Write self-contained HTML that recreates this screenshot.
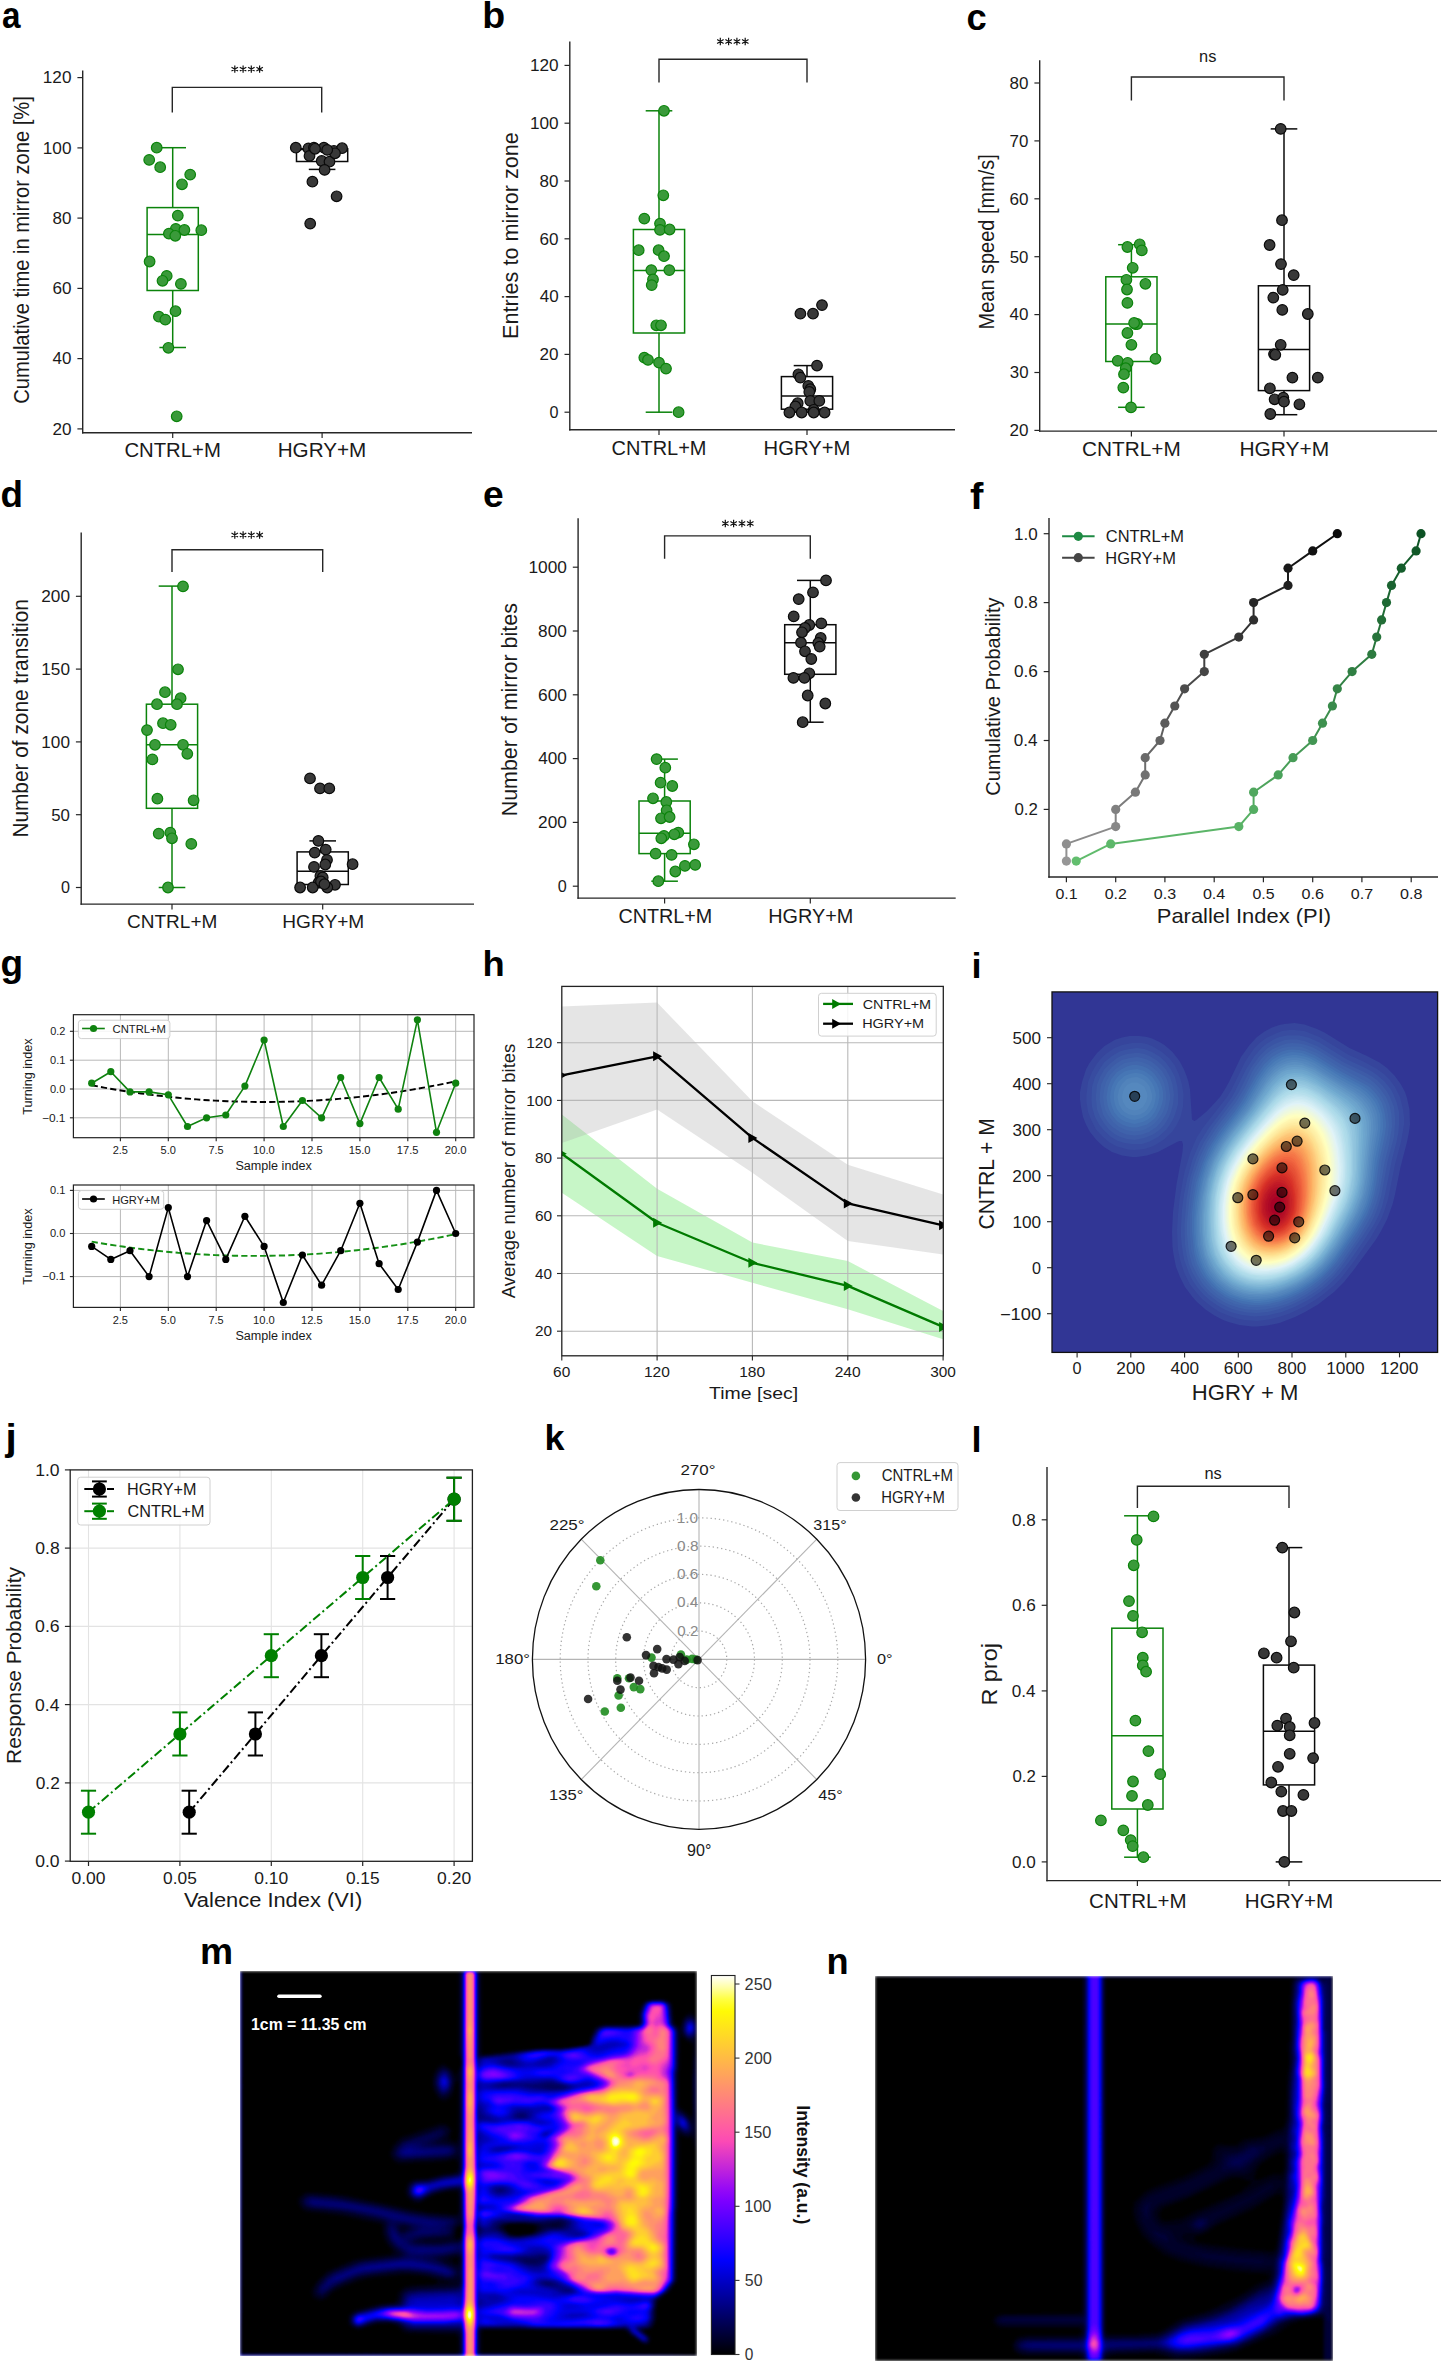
<!DOCTYPE html>
<html><head><meta charset="utf-8"><title>Figure</title>
<style>
html,body{margin:0;padding:0;background:#fff;}
body{width:1443px;height:2363px;overflow:hidden;font-family:"Liberation Sans",sans-serif;}
svg{display:block;}
</style></head><body>
<svg width="1443" height="2363" viewBox="0 0 1443 2363" font-family="Liberation Sans, sans-serif">
<defs>
<filter id="fm" filterUnits="userSpaceOnUse" x="240" y="1971" width="457" height="385" color-interpolation-filters="sRGB"><feGaussianBlur stdDeviation="1.8" edgeMode="duplicate"/><feComponentTransfer><feFuncR type="table" tableValues="0.000 0.000 0.000 0.000 0.000 0.000 0.000 0.000 0.000 0.000 0.000 0.000 0.000 0.000 0.000 0.000 0.000 0.000 0.003 0.052 0.101 0.138 0.187 0.224 0.273 0.322 0.358 0.407 0.444 0.493 0.542 0.579 0.628 0.665 0.714 0.763 0.800 0.849 0.898 0.934 0.983 1.000 1.000 1.000 1.000 1.000 1.000 1.000 1.000 1.000 1.000 1.000 1.000 1.000 1.000 1.000 1.000 1.000 1.000 1.000 1.000 1.000 1.000 1.000 1.000 1.000 1.000 1.000 1.000 1.000 1.000 1.000"/><feFuncG type="table" tableValues="0.000 0.000 0.000 0.000 0.000 0.000 0.000 0.000 0.000 0.000 0.000 0.000 0.000 0.000 0.000 0.000 0.000 0.000 0.000 0.000 0.000 0.000 0.000 0.000 0.000 0.000 0.000 0.000 0.000 0.000 0.007 0.031 0.062 0.085 0.117 0.148 0.172 0.203 0.235 0.258 0.289 0.313 0.344 0.376 0.399 0.431 0.454 0.485 0.517 0.540 0.572 0.595 0.627 0.658 0.682 0.713 0.736 0.768 0.799 0.823 0.854 0.878 0.909 0.940 0.964 0.995 1.000 1.000 1.000 1.000 1.000 1.000"/><feFuncB type="table" tableValues="0.000 0.047 0.110 0.157 0.220 0.282 0.329 0.392 0.439 0.502 0.565 0.612 0.675 0.722 0.784 0.847 0.894 0.957 1.000 1.000 1.000 1.000 1.000 1.000 1.000 1.000 1.000 1.000 1.000 1.000 0.993 0.969 0.938 0.915 0.883 0.852 0.828 0.797 0.765 0.742 0.711 0.687 0.656 0.624 0.601 0.569 0.546 0.515 0.483 0.460 0.428 0.405 0.373 0.342 0.318 0.287 0.264 0.232 0.201 0.177 0.146 0.122 0.091 0.060 0.036 0.005 0.118 0.314 0.510 0.657 0.853 1.000"/></feComponentTransfer></filter>
<filter id="fn" filterUnits="userSpaceOnUse" x="875" y="1976" width="458" height="385" color-interpolation-filters="sRGB"><feGaussianBlur stdDeviation="1.8" edgeMode="duplicate"/><feComponentTransfer><feFuncR type="table" tableValues="0.000 0.000 0.000 0.000 0.000 0.000 0.000 0.000 0.000 0.000 0.000 0.000 0.000 0.000 0.000 0.000 0.000 0.000 0.003 0.052 0.101 0.138 0.187 0.224 0.273 0.322 0.358 0.407 0.444 0.493 0.542 0.579 0.628 0.665 0.714 0.763 0.800 0.849 0.898 0.934 0.983 1.000 1.000 1.000 1.000 1.000 1.000 1.000 1.000 1.000 1.000 1.000 1.000 1.000 1.000 1.000 1.000 1.000 1.000 1.000 1.000 1.000 1.000 1.000 1.000 1.000 1.000 1.000 1.000 1.000 1.000 1.000"/><feFuncG type="table" tableValues="0.000 0.000 0.000 0.000 0.000 0.000 0.000 0.000 0.000 0.000 0.000 0.000 0.000 0.000 0.000 0.000 0.000 0.000 0.000 0.000 0.000 0.000 0.000 0.000 0.000 0.000 0.000 0.000 0.000 0.000 0.007 0.031 0.062 0.085 0.117 0.148 0.172 0.203 0.235 0.258 0.289 0.313 0.344 0.376 0.399 0.431 0.454 0.485 0.517 0.540 0.572 0.595 0.627 0.658 0.682 0.713 0.736 0.768 0.799 0.823 0.854 0.878 0.909 0.940 0.964 0.995 1.000 1.000 1.000 1.000 1.000 1.000"/><feFuncB type="table" tableValues="0.000 0.047 0.110 0.157 0.220 0.282 0.329 0.392 0.439 0.502 0.565 0.612 0.675 0.722 0.784 0.847 0.894 0.957 1.000 1.000 1.000 1.000 1.000 1.000 1.000 1.000 1.000 1.000 1.000 1.000 0.993 0.969 0.938 0.915 0.883 0.852 0.828 0.797 0.765 0.742 0.711 0.687 0.656 0.624 0.601 0.569 0.546 0.515 0.483 0.460 0.428 0.405 0.373 0.342 0.318 0.287 0.264 0.232 0.201 0.177 0.146 0.122 0.091 0.060 0.036 0.005 0.118 0.314 0.510 0.657 0.853 1.000"/></feComponentTransfer></filter>
<linearGradient id="cbar" x1="0" y1="0" x2="0" y2="1"><stop offset="0.000" stop-color="#ffffff"/><stop offset="0.031" stop-color="#ffffa7"/><stop offset="0.062" stop-color="#ffff43"/><stop offset="0.094" stop-color="#fffa05"/><stop offset="0.125" stop-color="#ffea15"/><stop offset="0.156" stop-color="#ffda25"/><stop offset="0.188" stop-color="#ffca35"/><stop offset="0.219" stop-color="#ffba45"/><stop offset="0.250" stop-color="#ffaa55"/><stop offset="0.281" stop-color="#ff9a65"/><stop offset="0.312" stop-color="#ff8a75"/><stop offset="0.344" stop-color="#ff7a85"/><stop offset="0.375" stop-color="#ff6a95"/><stop offset="0.406" stop-color="#ff5aa5"/><stop offset="0.438" stop-color="#fb4ab5"/><stop offset="0.469" stop-color="#e23ac5"/><stop offset="0.500" stop-color="#c92ad5"/><stop offset="0.531" stop-color="#b01ae5"/><stop offset="0.562" stop-color="#970af5"/><stop offset="0.594" stop-color="#7e00ff"/><stop offset="0.625" stop-color="#6500ff"/><stop offset="0.656" stop-color="#4c00ff"/><stop offset="0.688" stop-color="#3300ff"/><stop offset="0.719" stop-color="#1a00ff"/><stop offset="0.750" stop-color="#0100ff"/><stop offset="0.781" stop-color="#0000e0"/><stop offset="0.812" stop-color="#0000c0"/><stop offset="0.844" stop-color="#0000a0"/><stop offset="0.875" stop-color="#000080"/><stop offset="0.906" stop-color="#000060"/><stop offset="0.938" stop-color="#000040"/><stop offset="0.969" stop-color="#000020"/><stop offset="1.000" stop-color="#000000"/></linearGradient>
</defs>
<rect width="1443" height="2363" fill="#fff"/>
<text x="1.9" y="28.3" font-size="36.9" fill="#000" font-weight="bold" textLength="18.5" lengthAdjust="spacingAndGlyphs">a</text>
<line x1="82.7" y1="70.5" x2="82.7" y2="433.4" stroke="#262626" stroke-width="1.4"/>
<line x1="82" y1="432.7" x2="472" y2="432.7" stroke="#262626" stroke-width="1.4"/>
<line x1="77.4" y1="428.9" x2="82.7" y2="428.9" stroke="#262626" stroke-width="1.2"/>
<text x="52.5" y="434.7" font-size="16.5" fill="#1a1a1a" textLength="19" lengthAdjust="spacingAndGlyphs">20</text>
<line x1="77.4" y1="358.6" x2="82.7" y2="358.6" stroke="#262626" stroke-width="1.2"/>
<text x="52.6" y="364.4" font-size="16.5" fill="#1a1a1a" textLength="18.9" lengthAdjust="spacingAndGlyphs">40</text>
<line x1="77.4" y1="288.4" x2="82.7" y2="288.4" stroke="#262626" stroke-width="1.2"/>
<text x="52.4" y="294.2" font-size="16.5" fill="#1a1a1a" textLength="19" lengthAdjust="spacingAndGlyphs">60</text>
<line x1="77.4" y1="218.1" x2="82.7" y2="218.1" stroke="#262626" stroke-width="1.2"/>
<text x="52.5" y="223.9" font-size="16.4" fill="#1a1a1a" textLength="18.9" lengthAdjust="spacingAndGlyphs">80</text>
<line x1="77.4" y1="147.9" x2="82.7" y2="147.9" stroke="#262626" stroke-width="1.2"/>
<text x="42.8" y="153.7" font-size="16.4" fill="#1a1a1a" textLength="28.7" lengthAdjust="spacingAndGlyphs">100</text>
<line x1="77.4" y1="77.6" x2="82.7" y2="77.6" stroke="#262626" stroke-width="1.2"/>
<text x="42.8" y="83.4" font-size="16.4" fill="#1a1a1a" textLength="28.7" lengthAdjust="spacingAndGlyphs">120</text>
<line x1="172.7" y1="432.7" x2="172.7" y2="438" stroke="#262626" stroke-width="1.2"/>
<text x="124.4" y="456.5" font-size="19.9" fill="#1a1a1a" textLength="96.4" lengthAdjust="spacingAndGlyphs">CNTRL+M</text>
<line x1="322.1" y1="432.7" x2="322.1" y2="438" stroke="#262626" stroke-width="1.2"/>
<text x="277.7" y="456.5" font-size="19.9" fill="#1a1a1a" textLength="88.6" lengthAdjust="spacingAndGlyphs">HGRY+M</text>
<text x="29.4" y="403.8" font-size="21.8" fill="#1a1a1a" textLength="307.6" lengthAdjust="spacingAndGlyphs" transform="rotate(-90 29.4 403.8)">Cumulative time in mirror zone [%]</text>
<path d="M172.3,112.4 V87.4 H321.7 V112.4" fill="none" stroke="#262626" stroke-width="1.4"/>
<path d="M234.8,65.4L234.8,72.8M231.5,67.2L238,70.9M238,67.2L231.5,70.9M243.1,65.4L243.1,72.8M239.8,67.2L246.3,70.9M246.3,67.2L239.8,70.9M251.3,65.4L251.3,72.8M248.1,67.2L254.6,70.9M254.6,67.2L248.1,70.9M259.6,65.4L259.6,72.8M256.4,67.2L262.9,70.9M262.9,67.2L256.4,70.9" stroke="#111" stroke-width="1.2" stroke-linecap="butt"/>
<rect x="147.1" y="207.6" width="51.2" height="82.9" fill="none" stroke="#0b830b" stroke-width="1.5"/>
<line x1="147.1" y1="234.4" x2="198.3" y2="234.4" stroke="#0b830b" stroke-width="1.5"/>
<line x1="172.7" y1="207.6" x2="172.7" y2="147.7" stroke="#0b830b" stroke-width="1.5"/>
<line x1="172.7" y1="290.5" x2="172.7" y2="347.5" stroke="#0b830b" stroke-width="1.5"/>
<line x1="159.4" y1="147.7" x2="186" y2="147.7" stroke="#0b830b" stroke-width="1.5"/>
<line x1="159.4" y1="347.5" x2="186" y2="347.5" stroke="#0b830b" stroke-width="1.5"/>
<circle cx="156.7" cy="147.7" r="5.3" fill="#3a9a3a" stroke="#0b830b" stroke-width="1.2"/>
<circle cx="149.2" cy="159.9" r="5.3" fill="#3a9a3a" stroke="#0b830b" stroke-width="1.2"/>
<circle cx="160.2" cy="167.2" r="5.3" fill="#3a9a3a" stroke="#0b830b" stroke-width="1.2"/>
<circle cx="190.2" cy="174.6" r="5.3" fill="#3a9a3a" stroke="#0b830b" stroke-width="1.2"/>
<circle cx="182" cy="184.3" r="5.3" fill="#3a9a3a" stroke="#0b830b" stroke-width="1.2"/>
<circle cx="177.8" cy="215.6" r="5.3" fill="#3a9a3a" stroke="#0b830b" stroke-width="1.2"/>
<circle cx="175.8" cy="228.9" r="5.3" fill="#3a9a3a" stroke="#0b830b" stroke-width="1.2"/>
<circle cx="184.4" cy="230" r="5.3" fill="#3a9a3a" stroke="#0b830b" stroke-width="1.2"/>
<circle cx="201.3" cy="230.2" r="5.3" fill="#3a9a3a" stroke="#0b830b" stroke-width="1.2"/>
<circle cx="168.9" cy="233.6" r="5.3" fill="#3a9a3a" stroke="#0b830b" stroke-width="1.2"/>
<circle cx="175.3" cy="235.8" r="5.3" fill="#3a9a3a" stroke="#0b830b" stroke-width="1.2"/>
<circle cx="149.6" cy="261.5" r="5.3" fill="#3a9a3a" stroke="#0b830b" stroke-width="1.2"/>
<circle cx="166.7" cy="275.9" r="5.3" fill="#3a9a3a" stroke="#0b830b" stroke-width="1.2"/>
<circle cx="162.5" cy="280.8" r="5.3" fill="#3a9a3a" stroke="#0b830b" stroke-width="1.2"/>
<circle cx="180.9" cy="283.9" r="5.3" fill="#3a9a3a" stroke="#0b830b" stroke-width="1.2"/>
<circle cx="175.5" cy="311.2" r="5.3" fill="#3a9a3a" stroke="#0b830b" stroke-width="1.2"/>
<circle cx="158.9" cy="316.7" r="5.3" fill="#3a9a3a" stroke="#0b830b" stroke-width="1.2"/>
<circle cx="165.3" cy="319.6" r="5.3" fill="#3a9a3a" stroke="#0b830b" stroke-width="1.2"/>
<circle cx="168.4" cy="347.8" r="5.3" fill="#3a9a3a" stroke="#0b830b" stroke-width="1.2"/>
<circle cx="176.7" cy="416.3" r="5.3" fill="#3a9a3a" stroke="#0b830b" stroke-width="1.2"/>
<rect x="296.5" y="148.8" width="51.2" height="12.7" fill="none" stroke="#0a0a0a" stroke-width="1.5"/>
<line x1="296.5" y1="149.6" x2="347.7" y2="149.6" stroke="#0a0a0a" stroke-width="1.5"/>
<line x1="322.1" y1="148.8" x2="322.1" y2="147.7" stroke="#0a0a0a" stroke-width="1.5"/>
<line x1="322.1" y1="161.5" x2="322.1" y2="169.4" stroke="#0a0a0a" stroke-width="1.5"/>
<line x1="308.8" y1="147.7" x2="335.4" y2="147.7" stroke="#0a0a0a" stroke-width="1.5"/>
<line x1="308.8" y1="169.4" x2="335.4" y2="169.4" stroke="#0a0a0a" stroke-width="1.5"/>
<circle cx="295.8" cy="147.7" r="5.3" fill="#383838" stroke="#0a0a0a" stroke-width="1.2"/>
<circle cx="308.4" cy="148.4" r="5.3" fill="#383838" stroke="#0a0a0a" stroke-width="1.2"/>
<circle cx="313.9" cy="147.7" r="5.3" fill="#383838" stroke="#0a0a0a" stroke-width="1.2"/>
<circle cx="323.9" cy="147.7" r="5.3" fill="#383838" stroke="#0a0a0a" stroke-width="1.2"/>
<circle cx="333.9" cy="151" r="5.3" fill="#383838" stroke="#0a0a0a" stroke-width="1.2"/>
<circle cx="342.1" cy="148.2" r="5.3" fill="#383838" stroke="#0a0a0a" stroke-width="1.2"/>
<circle cx="309.5" cy="155.9" r="5.3" fill="#383838" stroke="#0a0a0a" stroke-width="1.2"/>
<circle cx="321.7" cy="161" r="5.3" fill="#383838" stroke="#0a0a0a" stroke-width="1.2"/>
<circle cx="329.5" cy="161.7" r="5.3" fill="#383838" stroke="#0a0a0a" stroke-width="1.2"/>
<circle cx="324.6" cy="169.9" r="5.3" fill="#383838" stroke="#0a0a0a" stroke-width="1.2"/>
<circle cx="312.4" cy="181.7" r="5.3" fill="#383838" stroke="#0a0a0a" stroke-width="1.2"/>
<circle cx="336.6" cy="196.3" r="5.3" fill="#383838" stroke="#0a0a0a" stroke-width="1.2"/>
<circle cx="310.2" cy="223.6" r="5.3" fill="#383838" stroke="#0a0a0a" stroke-width="1.2"/>
<circle cx="335" cy="153.3" r="5.3" fill="#383838" stroke="#0a0a0a" stroke-width="1.2"/>
<circle cx="315" cy="148.8" r="5.3" fill="#383838" stroke="#0a0a0a" stroke-width="1.2"/>
<circle cx="327.2" cy="149.9" r="5.3" fill="#383838" stroke="#0a0a0a" stroke-width="1.2"/>
<text x="482.3" y="28.3" font-size="36.5" fill="#000" font-weight="bold" textLength="22.9" lengthAdjust="spacingAndGlyphs">b</text>
<line x1="569.8" y1="41.6" x2="569.8" y2="430.5" stroke="#262626" stroke-width="1.4"/>
<line x1="569.1" y1="429.8" x2="955" y2="429.8" stroke="#262626" stroke-width="1.4"/>
<line x1="564.5" y1="412.2" x2="569.8" y2="412.2" stroke="#262626" stroke-width="1.2"/>
<text x="549.5" y="418" font-size="16.5" fill="#1a1a1a" textLength="9" lengthAdjust="spacingAndGlyphs">0</text>
<line x1="564.5" y1="354.4" x2="569.8" y2="354.4" stroke="#262626" stroke-width="1.2"/>
<text x="539.6" y="360.2" font-size="16.5" fill="#1a1a1a" textLength="19" lengthAdjust="spacingAndGlyphs">20</text>
<line x1="564.5" y1="296.6" x2="569.8" y2="296.6" stroke="#262626" stroke-width="1.2"/>
<text x="539.7" y="302.4" font-size="16.5" fill="#1a1a1a" textLength="18.9" lengthAdjust="spacingAndGlyphs">40</text>
<line x1="564.5" y1="238.8" x2="569.8" y2="238.8" stroke="#262626" stroke-width="1.2"/>
<text x="539.5" y="244.6" font-size="16.4" fill="#1a1a1a" textLength="19" lengthAdjust="spacingAndGlyphs">60</text>
<line x1="564.5" y1="181" x2="569.8" y2="181" stroke="#262626" stroke-width="1.2"/>
<text x="539.6" y="186.8" font-size="16.4" fill="#1a1a1a" textLength="18.9" lengthAdjust="spacingAndGlyphs">80</text>
<line x1="564.5" y1="123.2" x2="569.8" y2="123.2" stroke="#262626" stroke-width="1.2"/>
<text x="529.9" y="129" font-size="16.4" fill="#1a1a1a" textLength="28.7" lengthAdjust="spacingAndGlyphs">100</text>
<line x1="564.5" y1="65.4" x2="569.8" y2="65.4" stroke="#262626" stroke-width="1.2"/>
<text x="529.9" y="71.2" font-size="16.4" fill="#1a1a1a" textLength="28.7" lengthAdjust="spacingAndGlyphs">120</text>
<line x1="659" y1="429.8" x2="659" y2="435.1" stroke="#262626" stroke-width="1.2"/>
<text x="611.6" y="455" font-size="19.9" fill="#1a1a1a" textLength="94.9" lengthAdjust="spacingAndGlyphs">CNTRL+M</text>
<line x1="807" y1="429.8" x2="807" y2="435.1" stroke="#262626" stroke-width="1.2"/>
<text x="763.6" y="455" font-size="19.9" fill="#1a1a1a" textLength="86.7" lengthAdjust="spacingAndGlyphs">HGRY+M</text>
<text x="517.7" y="338.9" font-size="22.6" fill="#1a1a1a" textLength="206.7" lengthAdjust="spacingAndGlyphs" transform="rotate(-90 517.7 338.9)">Entries to mirror zone</text>
<path d="M659,82.5 V59.2 H807 V82.5" fill="none" stroke="#262626" stroke-width="1.4"/>
<path d="M720.3,37.8L720.3,45.2M717.1,39.6L723.6,43.4M723.6,39.6L717.1,43.4M728.6,37.8L728.6,45.2M725.4,39.6L731.9,43.4M731.9,39.6L725.4,43.4M736.9,37.8L736.9,45.2M733.7,39.6L740.2,43.4M740.2,39.6L733.7,43.4M745.2,37.8L745.2,45.2M742,39.6L748.5,43.4M748.5,39.6L742,43.4" stroke="#111" stroke-width="1.2" stroke-linecap="butt"/>
<rect x="633.4" y="229.5" width="51.2" height="103.5" fill="none" stroke="#0b830b" stroke-width="1.5"/>
<line x1="633.4" y1="270.5" x2="684.6" y2="270.5" stroke="#0b830b" stroke-width="1.5"/>
<line x1="659" y1="229.5" x2="659" y2="110.8" stroke="#0b830b" stroke-width="1.5"/>
<line x1="659" y1="333" x2="659" y2="412.2" stroke="#0b830b" stroke-width="1.5"/>
<line x1="645.7" y1="110.8" x2="672.3" y2="110.8" stroke="#0b830b" stroke-width="1.5"/>
<line x1="645.7" y1="412.2" x2="672.3" y2="412.2" stroke="#0b830b" stroke-width="1.5"/>
<circle cx="664" cy="110.8" r="5.3" fill="#3a9a3a" stroke="#0b830b" stroke-width="1.2"/>
<circle cx="663.3" cy="195.3" r="5.3" fill="#3a9a3a" stroke="#0b830b" stroke-width="1.2"/>
<circle cx="644.3" cy="218.6" r="5.3" fill="#3a9a3a" stroke="#0b830b" stroke-width="1.2"/>
<circle cx="660" cy="223.6" r="5.3" fill="#3a9a3a" stroke="#0b830b" stroke-width="1.2"/>
<circle cx="660" cy="229.9" r="5.3" fill="#3a9a3a" stroke="#0b830b" stroke-width="1.2"/>
<circle cx="669.6" cy="229.5" r="5.3" fill="#3a9a3a" stroke="#0b830b" stroke-width="1.2"/>
<circle cx="638.7" cy="250.2" r="5.3" fill="#3a9a3a" stroke="#0b830b" stroke-width="1.2"/>
<circle cx="658.6" cy="250.2" r="5.3" fill="#3a9a3a" stroke="#0b830b" stroke-width="1.2"/>
<circle cx="664" cy="256.2" r="5.3" fill="#3a9a3a" stroke="#0b830b" stroke-width="1.2"/>
<circle cx="651.3" cy="270.1" r="5.3" fill="#3a9a3a" stroke="#0b830b" stroke-width="1.2"/>
<circle cx="669.3" cy="270.1" r="5.3" fill="#3a9a3a" stroke="#0b830b" stroke-width="1.2"/>
<circle cx="653" cy="279.4" r="5.3" fill="#3a9a3a" stroke="#0b830b" stroke-width="1.2"/>
<circle cx="651.7" cy="285.1" r="5.3" fill="#3a9a3a" stroke="#0b830b" stroke-width="1.2"/>
<circle cx="656.3" cy="325.3" r="5.3" fill="#3a9a3a" stroke="#0b830b" stroke-width="1.2"/>
<circle cx="661" cy="325.3" r="5.3" fill="#3a9a3a" stroke="#0b830b" stroke-width="1.2"/>
<circle cx="644.3" cy="357.6" r="5.3" fill="#3a9a3a" stroke="#0b830b" stroke-width="1.2"/>
<circle cx="648" cy="359.9" r="5.3" fill="#3a9a3a" stroke="#0b830b" stroke-width="1.2"/>
<circle cx="659" cy="362.6" r="5.3" fill="#3a9a3a" stroke="#0b830b" stroke-width="1.2"/>
<circle cx="666" cy="368.6" r="5.3" fill="#3a9a3a" stroke="#0b830b" stroke-width="1.2"/>
<circle cx="678.6" cy="412.2" r="5.3" fill="#3a9a3a" stroke="#0b830b" stroke-width="1.2"/>
<rect x="781.4" y="376.6" width="51.2" height="32.6" fill="none" stroke="#0a0a0a" stroke-width="1.5"/>
<line x1="781.4" y1="395.9" x2="832.6" y2="395.9" stroke="#0a0a0a" stroke-width="1.5"/>
<line x1="807" y1="376.6" x2="807" y2="365.6" stroke="#0a0a0a" stroke-width="1.5"/>
<line x1="807" y1="409.2" x2="807" y2="412.2" stroke="#0a0a0a" stroke-width="1.5"/>
<line x1="793.7" y1="365.6" x2="820.3" y2="365.6" stroke="#0a0a0a" stroke-width="1.5"/>
<line x1="793.7" y1="412.2" x2="820.3" y2="412.2" stroke="#0a0a0a" stroke-width="1.5"/>
<circle cx="800.4" cy="313.7" r="5.3" fill="#383838" stroke="#0a0a0a" stroke-width="1.2"/>
<circle cx="813" cy="313.7" r="5.3" fill="#383838" stroke="#0a0a0a" stroke-width="1.2"/>
<circle cx="822" cy="305.1" r="5.3" fill="#383838" stroke="#0a0a0a" stroke-width="1.2"/>
<circle cx="817" cy="365.6" r="5.3" fill="#383838" stroke="#0a0a0a" stroke-width="1.2"/>
<circle cx="798.4" cy="374.3" r="5.3" fill="#383838" stroke="#0a0a0a" stroke-width="1.2"/>
<circle cx="800.4" cy="377.6" r="5.3" fill="#383838" stroke="#0a0a0a" stroke-width="1.2"/>
<circle cx="808.3" cy="385.9" r="5.3" fill="#383838" stroke="#0a0a0a" stroke-width="1.2"/>
<circle cx="810.3" cy="389.2" r="5.3" fill="#383838" stroke="#0a0a0a" stroke-width="1.2"/>
<circle cx="809.3" cy="391.9" r="5.3" fill="#383838" stroke="#0a0a0a" stroke-width="1.2"/>
<circle cx="797.7" cy="403.2" r="5.3" fill="#383838" stroke="#0a0a0a" stroke-width="1.2"/>
<circle cx="795.4" cy="406.5" r="5.3" fill="#383838" stroke="#0a0a0a" stroke-width="1.2"/>
<circle cx="810.3" cy="400.9" r="5.3" fill="#383838" stroke="#0a0a0a" stroke-width="1.2"/>
<circle cx="819.3" cy="400.9" r="5.3" fill="#383838" stroke="#0a0a0a" stroke-width="1.2"/>
<circle cx="789.4" cy="412.5" r="5.3" fill="#383838" stroke="#0a0a0a" stroke-width="1.2"/>
<circle cx="801.7" cy="412.5" r="5.3" fill="#383838" stroke="#0a0a0a" stroke-width="1.2"/>
<circle cx="813.7" cy="409.8" r="5.3" fill="#383838" stroke="#0a0a0a" stroke-width="1.2"/>
<circle cx="824.6" cy="412.5" r="5.3" fill="#383838" stroke="#0a0a0a" stroke-width="1.2"/>
<circle cx="813.7" cy="412.5" r="5.3" fill="#383838" stroke="#0a0a0a" stroke-width="1.2"/>
<text x="966.4" y="30.4" font-size="36.7" fill="#000" font-weight="bold" textLength="20.2" lengthAdjust="spacingAndGlyphs">c</text>
<line x1="1039.7" y1="60.2" x2="1039.7" y2="431.8" stroke="#262626" stroke-width="1.4"/>
<line x1="1039" y1="431.1" x2="1437" y2="431.1" stroke="#262626" stroke-width="1.4"/>
<line x1="1034.4" y1="430.4" x2="1039.7" y2="430.4" stroke="#262626" stroke-width="1.2"/>
<text x="1009.5" y="436.2" font-size="16.5" fill="#1a1a1a" textLength="19" lengthAdjust="spacingAndGlyphs">20</text>
<line x1="1034.4" y1="372.5" x2="1039.7" y2="372.5" stroke="#262626" stroke-width="1.2"/>
<text x="1009.8" y="378.3" font-size="16.5" fill="#1a1a1a" textLength="18.7" lengthAdjust="spacingAndGlyphs">30</text>
<line x1="1034.4" y1="314.6" x2="1039.7" y2="314.6" stroke="#262626" stroke-width="1.2"/>
<text x="1009.6" y="320.4" font-size="16.5" fill="#1a1a1a" textLength="18.9" lengthAdjust="spacingAndGlyphs">40</text>
<line x1="1034.4" y1="256.7" x2="1039.7" y2="256.7" stroke="#262626" stroke-width="1.2"/>
<text x="1009.7" y="262.5" font-size="16.5" fill="#1a1a1a" textLength="18.7" lengthAdjust="spacingAndGlyphs">50</text>
<line x1="1034.4" y1="198.8" x2="1039.7" y2="198.8" stroke="#262626" stroke-width="1.2"/>
<text x="1009.4" y="204.6" font-size="16.4" fill="#1a1a1a" textLength="19" lengthAdjust="spacingAndGlyphs">60</text>
<line x1="1034.4" y1="140.9" x2="1039.7" y2="140.9" stroke="#262626" stroke-width="1.2"/>
<text x="1009.6" y="146.7" font-size="16.4" fill="#1a1a1a" textLength="18.8" lengthAdjust="spacingAndGlyphs">70</text>
<line x1="1034.4" y1="83" x2="1039.7" y2="83" stroke="#262626" stroke-width="1.2"/>
<text x="1009.5" y="88.8" font-size="16.4" fill="#1a1a1a" textLength="18.9" lengthAdjust="spacingAndGlyphs">80</text>
<line x1="1131.4" y1="431.1" x2="1131.4" y2="436.4" stroke="#262626" stroke-width="1.2"/>
<text x="1082.1" y="455.8" font-size="19.5" fill="#1a1a1a" textLength="98.6" lengthAdjust="spacingAndGlyphs">CNTRL+M</text>
<line x1="1284" y1="431.1" x2="1284" y2="436.4" stroke="#262626" stroke-width="1.2"/>
<text x="1239.4" y="455.8" font-size="19.5" fill="#1a1a1a" textLength="89.8" lengthAdjust="spacingAndGlyphs">HGRY+M</text>
<text x="994.5" y="329.4" font-size="21.5" fill="#1a1a1a" textLength="175.1" lengthAdjust="spacingAndGlyphs" transform="rotate(-90 994.5 329.4)">Mean speed [mm/s]</text>
<path d="M1131.4,100.4 V77 H1284 V100.4" fill="none" stroke="#262626" stroke-width="1.4"/>
<text x="1199.1" y="62" font-size="16.1" fill="#1a1a1a" textLength="17.3" lengthAdjust="spacingAndGlyphs">ns</text>
<rect x="1105.8" y="276.8" width="51.2" height="84.7" fill="none" stroke="#0b830b" stroke-width="1.5"/>
<line x1="1105.8" y1="324" x2="1157" y2="324" stroke="#0b830b" stroke-width="1.5"/>
<line x1="1131.4" y1="276.8" x2="1131.4" y2="244.7" stroke="#0b830b" stroke-width="1.5"/>
<line x1="1131.4" y1="361.5" x2="1131.4" y2="407.3" stroke="#0b830b" stroke-width="1.5"/>
<line x1="1118.1" y1="244.7" x2="1144.7" y2="244.7" stroke="#0b830b" stroke-width="1.5"/>
<line x1="1118.1" y1="407.3" x2="1144.7" y2="407.3" stroke="#0b830b" stroke-width="1.5"/>
<circle cx="1127.4" cy="247" r="5.3" fill="#3a9a3a" stroke="#0b830b" stroke-width="1.2"/>
<circle cx="1139.7" cy="244.3" r="5.3" fill="#3a9a3a" stroke="#0b830b" stroke-width="1.2"/>
<circle cx="1141.8" cy="250.4" r="5.3" fill="#3a9a3a" stroke="#0b830b" stroke-width="1.2"/>
<circle cx="1132.7" cy="267.8" r="5.3" fill="#3a9a3a" stroke="#0b830b" stroke-width="1.2"/>
<circle cx="1126.4" cy="279.8" r="5.3" fill="#3a9a3a" stroke="#0b830b" stroke-width="1.2"/>
<circle cx="1145.4" cy="283.8" r="5.3" fill="#3a9a3a" stroke="#0b830b" stroke-width="1.2"/>
<circle cx="1127" cy="289.5" r="5.3" fill="#3a9a3a" stroke="#0b830b" stroke-width="1.2"/>
<circle cx="1127.4" cy="302.9" r="5.3" fill="#3a9a3a" stroke="#0b830b" stroke-width="1.2"/>
<circle cx="1135.4" cy="324" r="5.3" fill="#3a9a3a" stroke="#0b830b" stroke-width="1.2"/>
<circle cx="1137.1" cy="324" r="5.3" fill="#3a9a3a" stroke="#0b830b" stroke-width="1.2"/>
<circle cx="1127.4" cy="333" r="5.3" fill="#3a9a3a" stroke="#0b830b" stroke-width="1.2"/>
<circle cx="1131.4" cy="344.8" r="5.3" fill="#3a9a3a" stroke="#0b830b" stroke-width="1.2"/>
<circle cx="1117.7" cy="360.8" r="5.3" fill="#3a9a3a" stroke="#0b830b" stroke-width="1.2"/>
<circle cx="1127.7" cy="362.8" r="5.3" fill="#3a9a3a" stroke="#0b830b" stroke-width="1.2"/>
<circle cx="1155.5" cy="358.8" r="5.3" fill="#3a9a3a" stroke="#0b830b" stroke-width="1.2"/>
<circle cx="1125.7" cy="368.2" r="5.3" fill="#3a9a3a" stroke="#0b830b" stroke-width="1.2"/>
<circle cx="1124" cy="374.2" r="5.3" fill="#3a9a3a" stroke="#0b830b" stroke-width="1.2"/>
<circle cx="1123.3" cy="387.6" r="5.3" fill="#3a9a3a" stroke="#0b830b" stroke-width="1.2"/>
<circle cx="1131" cy="407.4" r="5.3" fill="#3a9a3a" stroke="#0b830b" stroke-width="1.2"/>
<circle cx="1134.1" cy="323" r="5.3" fill="#3a9a3a" stroke="#0b830b" stroke-width="1.2"/>
<rect x="1258.4" y="285.8" width="51.2" height="104.8" fill="none" stroke="#0a0a0a" stroke-width="1.5"/>
<line x1="1258.4" y1="349.4" x2="1309.6" y2="349.4" stroke="#0a0a0a" stroke-width="1.5"/>
<line x1="1284" y1="285.8" x2="1284" y2="128.9" stroke="#0a0a0a" stroke-width="1.5"/>
<line x1="1284" y1="390.6" x2="1284" y2="414.7" stroke="#0a0a0a" stroke-width="1.5"/>
<line x1="1270.7" y1="128.9" x2="1297.3" y2="128.9" stroke="#0a0a0a" stroke-width="1.5"/>
<line x1="1270.7" y1="414.7" x2="1297.3" y2="414.7" stroke="#0a0a0a" stroke-width="1.5"/>
<circle cx="1280.7" cy="128.9" r="5.3" fill="#383838" stroke="#0a0a0a" stroke-width="1.2"/>
<circle cx="1282" cy="220.2" r="5.3" fill="#383838" stroke="#0a0a0a" stroke-width="1.2"/>
<circle cx="1269.6" cy="245" r="5.3" fill="#383838" stroke="#0a0a0a" stroke-width="1.2"/>
<circle cx="1281" cy="264.1" r="5.3" fill="#383838" stroke="#0a0a0a" stroke-width="1.2"/>
<circle cx="1293.7" cy="275.1" r="5.3" fill="#383838" stroke="#0a0a0a" stroke-width="1.2"/>
<circle cx="1282.7" cy="289.9" r="5.3" fill="#383838" stroke="#0a0a0a" stroke-width="1.2"/>
<circle cx="1273.3" cy="297.6" r="5.3" fill="#383838" stroke="#0a0a0a" stroke-width="1.2"/>
<circle cx="1282.3" cy="309.9" r="5.3" fill="#383838" stroke="#0a0a0a" stroke-width="1.2"/>
<circle cx="1307.8" cy="314" r="5.3" fill="#383838" stroke="#0a0a0a" stroke-width="1.2"/>
<circle cx="1280.7" cy="344.8" r="5.3" fill="#383838" stroke="#0a0a0a" stroke-width="1.2"/>
<circle cx="1274" cy="354.1" r="5.3" fill="#383838" stroke="#0a0a0a" stroke-width="1.2"/>
<circle cx="1275.3" cy="354.8" r="5.3" fill="#383838" stroke="#0a0a0a" stroke-width="1.2"/>
<circle cx="1292.4" cy="377.6" r="5.3" fill="#383838" stroke="#0a0a0a" stroke-width="1.2"/>
<circle cx="1317.8" cy="377.6" r="5.3" fill="#383838" stroke="#0a0a0a" stroke-width="1.2"/>
<circle cx="1269.9" cy="388.3" r="5.3" fill="#383838" stroke="#0a0a0a" stroke-width="1.2"/>
<circle cx="1274.6" cy="399.3" r="5.3" fill="#383838" stroke="#0a0a0a" stroke-width="1.2"/>
<circle cx="1283.3" cy="397.6" r="5.3" fill="#383838" stroke="#0a0a0a" stroke-width="1.2"/>
<circle cx="1284" cy="401.7" r="5.3" fill="#383838" stroke="#0a0a0a" stroke-width="1.2"/>
<circle cx="1299.4" cy="404.3" r="5.3" fill="#383838" stroke="#0a0a0a" stroke-width="1.2"/>
<circle cx="1270.3" cy="414" r="5.3" fill="#383838" stroke="#0a0a0a" stroke-width="1.2"/>
<text x="0.6" y="507.4" font-size="36.5" fill="#000" font-weight="bold" textLength="22.5" lengthAdjust="spacingAndGlyphs">d</text>
<line x1="81.2" y1="532.5" x2="81.2" y2="904.8" stroke="#262626" stroke-width="1.4"/>
<line x1="80.5" y1="904.1" x2="474" y2="904.1" stroke="#262626" stroke-width="1.4"/>
<line x1="75.9" y1="887.5" x2="81.2" y2="887.5" stroke="#262626" stroke-width="1.2"/>
<text x="60.9" y="893.3" font-size="16.4" fill="#1a1a1a" textLength="9" lengthAdjust="spacingAndGlyphs">0</text>
<line x1="75.9" y1="814.7" x2="81.2" y2="814.7" stroke="#262626" stroke-width="1.2"/>
<text x="51.2" y="820.5" font-size="16.4" fill="#1a1a1a" textLength="18.7" lengthAdjust="spacingAndGlyphs">50</text>
<line x1="75.9" y1="741.9" x2="81.2" y2="741.9" stroke="#262626" stroke-width="1.2"/>
<text x="41.3" y="747.7" font-size="16.4" fill="#1a1a1a" textLength="28.7" lengthAdjust="spacingAndGlyphs">100</text>
<line x1="75.9" y1="669.1" x2="81.2" y2="669.1" stroke="#262626" stroke-width="1.2"/>
<text x="41.3" y="674.9" font-size="16.4" fill="#1a1a1a" textLength="28.7" lengthAdjust="spacingAndGlyphs">150</text>
<line x1="75.9" y1="596.3" x2="81.2" y2="596.3" stroke="#262626" stroke-width="1.2"/>
<text x="41.2" y="602.1" font-size="16.4" fill="#1a1a1a" textLength="28.8" lengthAdjust="spacingAndGlyphs">200</text>
<line x1="172" y1="904.1" x2="172" y2="909.4" stroke="#262626" stroke-width="1.2"/>
<text x="127.1" y="928.1" font-size="18.6" fill="#1a1a1a" textLength="90.2" lengthAdjust="spacingAndGlyphs">CNTRL+M</text>
<line x1="322.7" y1="904.1" x2="322.7" y2="909.4" stroke="#262626" stroke-width="1.2"/>
<text x="282.3" y="928.1" font-size="18.6" fill="#1a1a1a" textLength="81.9" lengthAdjust="spacingAndGlyphs">HGRY+M</text>
<text x="27.9" y="837.6" font-size="22.5" fill="#1a1a1a" textLength="238.5" lengthAdjust="spacingAndGlyphs" transform="rotate(-90 27.9 837.6)">Number of zone transition</text>
<path d="M172,572.1 V549.8 H322.7 V572.1" fill="none" stroke="#262626" stroke-width="1.4"/>
<path d="M234.8,531.3L234.8,538.7M231.5,533.1L238,536.9M238,533.1L231.5,536.9M243.1,531.3L243.1,538.7M239.8,533.1L246.3,536.9M246.3,533.1L239.8,536.9M251.3,531.3L251.3,538.7M248.1,533.1L254.6,536.9M254.6,533.1L248.1,536.9M259.6,531.3L259.6,538.7M256.4,533.1L262.9,536.9M262.9,533.1L256.4,536.9" stroke="#111" stroke-width="1.2" stroke-linecap="butt"/>
<rect x="146.4" y="704.2" width="51.2" height="104.1" fill="none" stroke="#0b830b" stroke-width="1.5"/>
<line x1="146.4" y1="744.8" x2="197.6" y2="744.8" stroke="#0b830b" stroke-width="1.5"/>
<line x1="172" y1="704.2" x2="172" y2="586.1" stroke="#0b830b" stroke-width="1.5"/>
<line x1="172" y1="808.3" x2="172" y2="887.5" stroke="#0b830b" stroke-width="1.5"/>
<line x1="158.7" y1="586.1" x2="185.3" y2="586.1" stroke="#0b830b" stroke-width="1.5"/>
<line x1="158.7" y1="887.5" x2="185.3" y2="887.5" stroke="#0b830b" stroke-width="1.5"/>
<circle cx="183" cy="586.4" r="5.3" fill="#3a9a3a" stroke="#0b830b" stroke-width="1.2"/>
<circle cx="178" cy="669.3" r="5.3" fill="#3a9a3a" stroke="#0b830b" stroke-width="1.2"/>
<circle cx="165" cy="692.2" r="5.3" fill="#3a9a3a" stroke="#0b830b" stroke-width="1.2"/>
<circle cx="180.6" cy="698.2" r="5.3" fill="#3a9a3a" stroke="#0b830b" stroke-width="1.2"/>
<circle cx="157" cy="704.2" r="5.3" fill="#3a9a3a" stroke="#0b830b" stroke-width="1.2"/>
<circle cx="177" cy="704.2" r="5.3" fill="#3a9a3a" stroke="#0b830b" stroke-width="1.2"/>
<circle cx="163" cy="723.2" r="5.3" fill="#3a9a3a" stroke="#0b830b" stroke-width="1.2"/>
<circle cx="170.7" cy="724.8" r="5.3" fill="#3a9a3a" stroke="#0b830b" stroke-width="1.2"/>
<circle cx="147" cy="730.1" r="5.3" fill="#3a9a3a" stroke="#0b830b" stroke-width="1.2"/>
<circle cx="155" cy="744.8" r="5.3" fill="#3a9a3a" stroke="#0b830b" stroke-width="1.2"/>
<circle cx="183" cy="744.8" r="5.3" fill="#3a9a3a" stroke="#0b830b" stroke-width="1.2"/>
<circle cx="187.3" cy="753.8" r="5.3" fill="#3a9a3a" stroke="#0b830b" stroke-width="1.2"/>
<circle cx="152.4" cy="759.4" r="5.3" fill="#3a9a3a" stroke="#0b830b" stroke-width="1.2"/>
<circle cx="157.4" cy="798.7" r="5.3" fill="#3a9a3a" stroke="#0b830b" stroke-width="1.2"/>
<circle cx="193.6" cy="800.3" r="5.3" fill="#3a9a3a" stroke="#0b830b" stroke-width="1.2"/>
<circle cx="158.7" cy="833.6" r="5.3" fill="#3a9a3a" stroke="#0b830b" stroke-width="1.2"/>
<circle cx="170.3" cy="832.6" r="5.3" fill="#3a9a3a" stroke="#0b830b" stroke-width="1.2"/>
<circle cx="172" cy="838.3" r="5.3" fill="#3a9a3a" stroke="#0b830b" stroke-width="1.2"/>
<circle cx="191.3" cy="843.9" r="5.3" fill="#3a9a3a" stroke="#0b830b" stroke-width="1.2"/>
<circle cx="168" cy="887.5" r="5.3" fill="#3a9a3a" stroke="#0b830b" stroke-width="1.2"/>
<rect x="297.1" y="851.9" width="51.2" height="32.6" fill="none" stroke="#0a0a0a" stroke-width="1.5"/>
<line x1="297.1" y1="871.2" x2="348.3" y2="871.2" stroke="#0a0a0a" stroke-width="1.5"/>
<line x1="322.7" y1="851.9" x2="322.7" y2="840.9" stroke="#0a0a0a" stroke-width="1.5"/>
<line x1="322.7" y1="884.5" x2="322.7" y2="887.5" stroke="#0a0a0a" stroke-width="1.5"/>
<line x1="309.4" y1="840.9" x2="336" y2="840.9" stroke="#0a0a0a" stroke-width="1.5"/>
<line x1="309.4" y1="887.5" x2="336" y2="887.5" stroke="#0a0a0a" stroke-width="1.5"/>
<circle cx="310" cy="778.4" r="5.3" fill="#383838" stroke="#0a0a0a" stroke-width="1.2"/>
<circle cx="320" cy="788.4" r="5.3" fill="#383838" stroke="#0a0a0a" stroke-width="1.2"/>
<circle cx="329.3" cy="788.4" r="5.3" fill="#383838" stroke="#0a0a0a" stroke-width="1.2"/>
<circle cx="318.4" cy="840.9" r="5.3" fill="#383838" stroke="#0a0a0a" stroke-width="1.2"/>
<circle cx="325.7" cy="849.6" r="5.3" fill="#383838" stroke="#0a0a0a" stroke-width="1.2"/>
<circle cx="314.7" cy="852.6" r="5.3" fill="#383838" stroke="#0a0a0a" stroke-width="1.2"/>
<circle cx="327" cy="859.9" r="5.3" fill="#383838" stroke="#0a0a0a" stroke-width="1.2"/>
<circle cx="325.3" cy="864.5" r="5.3" fill="#383838" stroke="#0a0a0a" stroke-width="1.2"/>
<circle cx="352.6" cy="864.2" r="5.3" fill="#383838" stroke="#0a0a0a" stroke-width="1.2"/>
<circle cx="314" cy="866.9" r="5.3" fill="#383838" stroke="#0a0a0a" stroke-width="1.2"/>
<circle cx="320.4" cy="875.9" r="5.3" fill="#383838" stroke="#0a0a0a" stroke-width="1.2"/>
<circle cx="322.7" cy="877.5" r="5.3" fill="#383838" stroke="#0a0a0a" stroke-width="1.2"/>
<circle cx="318.7" cy="882.5" r="5.3" fill="#383838" stroke="#0a0a0a" stroke-width="1.2"/>
<circle cx="335" cy="884.8" r="5.3" fill="#383838" stroke="#0a0a0a" stroke-width="1.2"/>
<circle cx="300.1" cy="887.5" r="5.3" fill="#383838" stroke="#0a0a0a" stroke-width="1.2"/>
<circle cx="312.7" cy="887.5" r="5.3" fill="#383838" stroke="#0a0a0a" stroke-width="1.2"/>
<circle cx="327.3" cy="887.5" r="5.3" fill="#383838" stroke="#0a0a0a" stroke-width="1.2"/>
<circle cx="321" cy="881.5" r="5.3" fill="#383838" stroke="#0a0a0a" stroke-width="1.2"/>
<circle cx="324.4" cy="884.2" r="5.3" fill="#383838" stroke="#0a0a0a" stroke-width="1.2"/>
<text x="483.1" y="507.4" font-size="37" fill="#000" font-weight="bold" textLength="20.7" lengthAdjust="spacingAndGlyphs">e</text>
<line x1="578.1" y1="518.2" x2="578.1" y2="898.8" stroke="#262626" stroke-width="1.4"/>
<line x1="577.4" y1="898.1" x2="955.7" y2="898.1" stroke="#262626" stroke-width="1.4"/>
<line x1="572.8" y1="886.2" x2="578.1" y2="886.2" stroke="#262626" stroke-width="1.2"/>
<text x="557.8" y="892" font-size="16.4" fill="#1a1a1a" textLength="9" lengthAdjust="spacingAndGlyphs">0</text>
<line x1="572.8" y1="822.4" x2="578.1" y2="822.4" stroke="#262626" stroke-width="1.2"/>
<text x="538.1" y="828.2" font-size="16.4" fill="#1a1a1a" textLength="28.8" lengthAdjust="spacingAndGlyphs">200</text>
<line x1="572.8" y1="758.6" x2="578.1" y2="758.6" stroke="#262626" stroke-width="1.2"/>
<text x="538.2" y="764.4" font-size="16.4" fill="#1a1a1a" textLength="28.7" lengthAdjust="spacingAndGlyphs">400</text>
<line x1="572.8" y1="694.8" x2="578.1" y2="694.8" stroke="#262626" stroke-width="1.2"/>
<text x="538" y="700.6" font-size="16.4" fill="#1a1a1a" textLength="28.9" lengthAdjust="spacingAndGlyphs">600</text>
<line x1="572.8" y1="631" x2="578.1" y2="631" stroke="#262626" stroke-width="1.2"/>
<text x="538.1" y="636.8" font-size="16.4" fill="#1a1a1a" textLength="28.7" lengthAdjust="spacingAndGlyphs">800</text>
<line x1="572.8" y1="567.2" x2="578.1" y2="567.2" stroke="#262626" stroke-width="1.2"/>
<text x="528.4" y="573" font-size="16.4" fill="#1a1a1a" textLength="38.5" lengthAdjust="spacingAndGlyphs">1000</text>
<line x1="664.6" y1="898.1" x2="664.6" y2="903.4" stroke="#262626" stroke-width="1.2"/>
<text x="618.4" y="923.1" font-size="19.8" fill="#1a1a1a" textLength="93.8" lengthAdjust="spacingAndGlyphs">CNTRL+M</text>
<line x1="810.3" y1="898.1" x2="810.3" y2="903.4" stroke="#262626" stroke-width="1.2"/>
<text x="768.2" y="923.1" font-size="19.8" fill="#1a1a1a" textLength="85.1" lengthAdjust="spacingAndGlyphs">HGRY+M</text>
<text x="517.3" y="816.3" font-size="21.6" fill="#1a1a1a" textLength="213.2" lengthAdjust="spacingAndGlyphs" transform="rotate(-90 517.3 816.3)">Number of mirror bites</text>
<path d="M664.6,558.8 V535.9 H810.3 V558.8" fill="none" stroke="#262626" stroke-width="1.4"/>
<path d="M725.3,519.8L725.3,527.2M722.1,521.6L728.6,525.4M728.6,521.6L722.1,525.4M733.6,519.8L733.6,527.2M730.4,521.6L736.9,525.4M736.9,521.6L730.4,525.4M741.9,519.8L741.9,527.2M738.7,521.6L745.2,525.4M745.2,521.6L738.7,525.4M750.2,519.8L750.2,527.2M747,521.6L753.5,525.4M753.5,521.6L747,525.4" stroke="#111" stroke-width="1.2" stroke-linecap="butt"/>
<rect x="639" y="801" width="51.2" height="52.6" fill="none" stroke="#0b830b" stroke-width="1.5"/>
<line x1="639" y1="833.3" x2="690.2" y2="833.3" stroke="#0b830b" stroke-width="1.5"/>
<line x1="664.6" y1="801" x2="664.6" y2="759.1" stroke="#0b830b" stroke-width="1.5"/>
<line x1="664.6" y1="853.6" x2="664.6" y2="881.2" stroke="#0b830b" stroke-width="1.5"/>
<line x1="651.3" y1="759.1" x2="677.9" y2="759.1" stroke="#0b830b" stroke-width="1.5"/>
<line x1="651.3" y1="881.2" x2="677.9" y2="881.2" stroke="#0b830b" stroke-width="1.5"/>
<circle cx="656.6" cy="759.1" r="5.3" fill="#3a9a3a" stroke="#0b830b" stroke-width="1.2"/>
<circle cx="665.3" cy="767.7" r="5.3" fill="#3a9a3a" stroke="#0b830b" stroke-width="1.2"/>
<circle cx="660.6" cy="782.7" r="5.3" fill="#3a9a3a" stroke="#0b830b" stroke-width="1.2"/>
<circle cx="672.3" cy="786" r="5.3" fill="#3a9a3a" stroke="#0b830b" stroke-width="1.2"/>
<circle cx="653" cy="798.3" r="5.3" fill="#3a9a3a" stroke="#0b830b" stroke-width="1.2"/>
<circle cx="666.3" cy="802" r="5.3" fill="#3a9a3a" stroke="#0b830b" stroke-width="1.2"/>
<circle cx="666.6" cy="810.3" r="5.3" fill="#3a9a3a" stroke="#0b830b" stroke-width="1.2"/>
<circle cx="661" cy="818.3" r="5.3" fill="#3a9a3a" stroke="#0b830b" stroke-width="1.2"/>
<circle cx="669.6" cy="817" r="5.3" fill="#3a9a3a" stroke="#0b830b" stroke-width="1.2"/>
<circle cx="678.3" cy="832.6" r="5.3" fill="#3a9a3a" stroke="#0b830b" stroke-width="1.2"/>
<circle cx="674.3" cy="834.3" r="5.3" fill="#3a9a3a" stroke="#0b830b" stroke-width="1.2"/>
<circle cx="664" cy="835.9" r="5.3" fill="#3a9a3a" stroke="#0b830b" stroke-width="1.2"/>
<circle cx="661.3" cy="838.3" r="5.3" fill="#3a9a3a" stroke="#0b830b" stroke-width="1.2"/>
<circle cx="693.9" cy="844.3" r="5.3" fill="#3a9a3a" stroke="#0b830b" stroke-width="1.2"/>
<circle cx="655.6" cy="853.6" r="5.3" fill="#3a9a3a" stroke="#0b830b" stroke-width="1.2"/>
<circle cx="671.6" cy="854.9" r="5.3" fill="#3a9a3a" stroke="#0b830b" stroke-width="1.2"/>
<circle cx="675.3" cy="871.5" r="5.3" fill="#3a9a3a" stroke="#0b830b" stroke-width="1.2"/>
<circle cx="684.9" cy="865.9" r="5.3" fill="#3a9a3a" stroke="#0b830b" stroke-width="1.2"/>
<circle cx="695.2" cy="864.9" r="5.3" fill="#3a9a3a" stroke="#0b830b" stroke-width="1.2"/>
<circle cx="658.3" cy="881.2" r="5.3" fill="#3a9a3a" stroke="#0b830b" stroke-width="1.2"/>
<rect x="784.7" y="624.7" width="51.2" height="49.6" fill="none" stroke="#0a0a0a" stroke-width="1.5"/>
<line x1="784.7" y1="642.7" x2="835.9" y2="642.7" stroke="#0a0a0a" stroke-width="1.5"/>
<line x1="810.3" y1="624.7" x2="810.3" y2="580.4" stroke="#0a0a0a" stroke-width="1.5"/>
<line x1="810.3" y1="674.3" x2="810.3" y2="722.2" stroke="#0a0a0a" stroke-width="1.5"/>
<line x1="797" y1="580.4" x2="823.6" y2="580.4" stroke="#0a0a0a" stroke-width="1.5"/>
<line x1="797" y1="722.2" x2="823.6" y2="722.2" stroke="#0a0a0a" stroke-width="1.5"/>
<circle cx="826" cy="580.4" r="5.3" fill="#383838" stroke="#0a0a0a" stroke-width="1.2"/>
<circle cx="813" cy="592.4" r="5.3" fill="#383838" stroke="#0a0a0a" stroke-width="1.2"/>
<circle cx="798.7" cy="599.1" r="5.3" fill="#383838" stroke="#0a0a0a" stroke-width="1.2"/>
<circle cx="793.7" cy="616.4" r="5.3" fill="#383838" stroke="#0a0a0a" stroke-width="1.2"/>
<circle cx="809.3" cy="625" r="5.3" fill="#383838" stroke="#0a0a0a" stroke-width="1.2"/>
<circle cx="805" cy="628" r="5.3" fill="#383838" stroke="#0a0a0a" stroke-width="1.2"/>
<circle cx="821.3" cy="623.4" r="5.3" fill="#383838" stroke="#0a0a0a" stroke-width="1.2"/>
<circle cx="802" cy="632.3" r="5.3" fill="#383838" stroke="#0a0a0a" stroke-width="1.2"/>
<circle cx="820.7" cy="638" r="5.3" fill="#383838" stroke="#0a0a0a" stroke-width="1.2"/>
<circle cx="818.3" cy="643" r="5.3" fill="#383838" stroke="#0a0a0a" stroke-width="1.2"/>
<circle cx="801" cy="642.7" r="5.3" fill="#383838" stroke="#0a0a0a" stroke-width="1.2"/>
<circle cx="819.7" cy="646.6" r="5.3" fill="#383838" stroke="#0a0a0a" stroke-width="1.2"/>
<circle cx="805" cy="651.3" r="5.3" fill="#383838" stroke="#0a0a0a" stroke-width="1.2"/>
<circle cx="811.3" cy="659" r="5.3" fill="#383838" stroke="#0a0a0a" stroke-width="1.2"/>
<circle cx="809.3" cy="673.3" r="5.3" fill="#383838" stroke="#0a0a0a" stroke-width="1.2"/>
<circle cx="793.4" cy="677.9" r="5.3" fill="#383838" stroke="#0a0a0a" stroke-width="1.2"/>
<circle cx="804.4" cy="677.9" r="5.3" fill="#383838" stroke="#0a0a0a" stroke-width="1.2"/>
<circle cx="807.7" cy="695.5" r="5.3" fill="#383838" stroke="#0a0a0a" stroke-width="1.2"/>
<circle cx="825.3" cy="703.5" r="5.3" fill="#383838" stroke="#0a0a0a" stroke-width="1.2"/>
<circle cx="802.7" cy="722.2" r="5.3" fill="#383838" stroke="#0a0a0a" stroke-width="1.2"/>
<text x="970.1" y="509" font-size="36.6" fill="#000" font-weight="bold" textLength="13.4" lengthAdjust="spacingAndGlyphs">f</text>
<line x1="1049" y1="517.9" x2="1049" y2="877.7" stroke="#262626" stroke-width="1.4"/>
<line x1="1048.3" y1="877" x2="1438" y2="877" stroke="#262626" stroke-width="1.4"/>
<line x1="1043.7" y1="809.4" x2="1049" y2="809.4" stroke="#262626" stroke-width="1.2"/>
<text x="1014.5" y="815.2" font-size="16.4" fill="#1a1a1a" textLength="23.4" lengthAdjust="spacingAndGlyphs">0.2</text>
<line x1="1043.7" y1="740.5" x2="1049" y2="740.5" stroke="#262626" stroke-width="1.2"/>
<text x="1013.8" y="746.2" font-size="16.4" fill="#1a1a1a" textLength="23.8" lengthAdjust="spacingAndGlyphs">0.4</text>
<line x1="1043.7" y1="671.6" x2="1049" y2="671.6" stroke="#262626" stroke-width="1.2"/>
<text x="1013.9" y="677.3" font-size="16.4" fill="#1a1a1a" textLength="23.9" lengthAdjust="spacingAndGlyphs">0.6</text>
<line x1="1043.7" y1="602.6" x2="1049" y2="602.6" stroke="#262626" stroke-width="1.2"/>
<text x="1014" y="608.4" font-size="16.4" fill="#1a1a1a" textLength="23.8" lengthAdjust="spacingAndGlyphs">0.8</text>
<line x1="1043.7" y1="533.7" x2="1049" y2="533.7" stroke="#262626" stroke-width="1.2"/>
<text x="1014" y="539.5" font-size="16.4" fill="#1a1a1a" textLength="23.7" lengthAdjust="spacingAndGlyphs">1.0</text>
<line x1="1066.4" y1="877" x2="1066.4" y2="882.3" stroke="#262626" stroke-width="1.2"/>
<text x="1055.4" y="899.1" font-size="15.5" fill="#1a1a1a" textLength="22.2" lengthAdjust="spacingAndGlyphs">0.1</text>
<line x1="1115.7" y1="877" x2="1115.7" y2="882.3" stroke="#262626" stroke-width="1.2"/>
<text x="1104.7" y="899.1" font-size="15.5" fill="#1a1a1a" textLength="22.1" lengthAdjust="spacingAndGlyphs">0.2</text>
<line x1="1164.9" y1="877" x2="1164.9" y2="882.3" stroke="#262626" stroke-width="1.2"/>
<text x="1153.8" y="899.1" font-size="15.5" fill="#1a1a1a" textLength="22.3" lengthAdjust="spacingAndGlyphs">0.3</text>
<line x1="1214.2" y1="877" x2="1214.2" y2="882.3" stroke="#262626" stroke-width="1.2"/>
<text x="1202.9" y="899.1" font-size="15.5" fill="#1a1a1a" textLength="22.4" lengthAdjust="spacingAndGlyphs">0.4</text>
<line x1="1263.4" y1="877" x2="1263.4" y2="882.3" stroke="#262626" stroke-width="1.2"/>
<text x="1252.4" y="899.1" font-size="15.5" fill="#1a1a1a" textLength="22.1" lengthAdjust="spacingAndGlyphs">0.5</text>
<line x1="1312.7" y1="877" x2="1312.7" y2="882.3" stroke="#262626" stroke-width="1.2"/>
<text x="1301.4" y="899.1" font-size="15.5" fill="#1a1a1a" textLength="22.5" lengthAdjust="spacingAndGlyphs">0.6</text>
<line x1="1361.9" y1="877" x2="1361.9" y2="882.3" stroke="#262626" stroke-width="1.2"/>
<text x="1350.8" y="899.1" font-size="15.5" fill="#1a1a1a" textLength="22.3" lengthAdjust="spacingAndGlyphs">0.7</text>
<line x1="1411.2" y1="877" x2="1411.2" y2="882.3" stroke="#262626" stroke-width="1.2"/>
<text x="1400" y="899.1" font-size="15.5" fill="#1a1a1a" textLength="22.4" lengthAdjust="spacingAndGlyphs">0.8</text>
<text x="1156.8" y="923.4" font-size="20.4" fill="#1a1a1a" textLength="174.3" lengthAdjust="spacingAndGlyphs">Parallel Index (PI)</text>
<text x="1000" y="795.7" font-size="20.9" fill="#1a1a1a" textLength="198.2" lengthAdjust="spacingAndGlyphs" transform="rotate(-90 1000 795.7)">Cumulative Probability</text>
<line x1="1066.4" y1="861.1" x2="1066.4" y2="843.9" stroke="#929292" stroke-width="2" stroke-linecap="round"/>
<line x1="1066.4" y1="843.9" x2="1115.7" y2="826.6" stroke="#8b8b8b" stroke-width="2" stroke-linecap="round"/>
<line x1="1115.7" y1="826.6" x2="1115.7" y2="809.4" stroke="#848484" stroke-width="2" stroke-linecap="round"/>
<line x1="1115.7" y1="809.4" x2="1135.4" y2="792.2" stroke="#7c7c7c" stroke-width="2" stroke-linecap="round"/>
<line x1="1135.4" y1="792.2" x2="1145.2" y2="774.9" stroke="#757575" stroke-width="2" stroke-linecap="round"/>
<line x1="1145.2" y1="774.9" x2="1145.2" y2="757.7" stroke="#6d6d6d" stroke-width="2" stroke-linecap="round"/>
<line x1="1145.2" y1="757.7" x2="1160" y2="740.5" stroke="#666666" stroke-width="2" stroke-linecap="round"/>
<line x1="1160" y1="740.5" x2="1164.9" y2="723.2" stroke="#5f5f5f" stroke-width="2" stroke-linecap="round"/>
<line x1="1164.9" y1="723.2" x2="1174.8" y2="706" stroke="#575757" stroke-width="2" stroke-linecap="round"/>
<line x1="1174.8" y1="706" x2="1184.6" y2="688.8" stroke="#505050" stroke-width="2" stroke-linecap="round"/>
<line x1="1184.6" y1="688.8" x2="1204.3" y2="671.6" stroke="#494949" stroke-width="2" stroke-linecap="round"/>
<line x1="1204.3" y1="671.6" x2="1204.3" y2="654.3" stroke="#414141" stroke-width="2" stroke-linecap="round"/>
<line x1="1204.3" y1="654.3" x2="1238.8" y2="637.1" stroke="#3a3a3a" stroke-width="2" stroke-linecap="round"/>
<line x1="1238.8" y1="637.1" x2="1253.6" y2="619.9" stroke="#333333" stroke-width="2" stroke-linecap="round"/>
<line x1="1253.6" y1="619.9" x2="1253.6" y2="602.6" stroke="#2b2b2b" stroke-width="2" stroke-linecap="round"/>
<line x1="1253.6" y1="602.6" x2="1288" y2="585.4" stroke="#242424" stroke-width="2" stroke-linecap="round"/>
<line x1="1288" y1="585.4" x2="1288" y2="568.2" stroke="#1c1c1c" stroke-width="2" stroke-linecap="round"/>
<line x1="1288" y1="568.2" x2="1312.7" y2="550.9" stroke="#151515" stroke-width="2" stroke-linecap="round"/>
<line x1="1312.7" y1="550.9" x2="1337.3" y2="533.7" stroke="#0e0e0e" stroke-width="2" stroke-linecap="round"/>
<circle cx="1066.4" cy="861.1" r="4.6" fill="#969696" stroke="none" stroke-width="0"/>
<circle cx="1066.4" cy="843.9" r="4.6" fill="#8f8f8f" stroke="none" stroke-width="0"/>
<circle cx="1115.7" cy="826.6" r="4.6" fill="#878787" stroke="none" stroke-width="0"/>
<circle cx="1115.7" cy="809.4" r="4.6" fill="#808080" stroke="none" stroke-width="0"/>
<circle cx="1135.4" cy="792.2" r="4.6" fill="#797979" stroke="none" stroke-width="0"/>
<circle cx="1145.2" cy="774.9" r="4.6" fill="#717171" stroke="none" stroke-width="0"/>
<circle cx="1145.2" cy="757.7" r="4.6" fill="#6a6a6a" stroke="none" stroke-width="0"/>
<circle cx="1160" cy="740.5" r="4.6" fill="#626262" stroke="none" stroke-width="0"/>
<circle cx="1164.9" cy="723.2" r="4.6" fill="#5b5b5b" stroke="none" stroke-width="0"/>
<circle cx="1174.8" cy="706" r="4.6" fill="#545454" stroke="none" stroke-width="0"/>
<circle cx="1184.6" cy="688.8" r="4.6" fill="#4c4c4c" stroke="none" stroke-width="0"/>
<circle cx="1204.3" cy="671.6" r="4.6" fill="#454545" stroke="none" stroke-width="0"/>
<circle cx="1204.3" cy="654.3" r="4.6" fill="#3e3e3e" stroke="none" stroke-width="0"/>
<circle cx="1238.8" cy="637.1" r="4.6" fill="#363636" stroke="none" stroke-width="0"/>
<circle cx="1253.6" cy="619.9" r="4.6" fill="#2f2f2f" stroke="none" stroke-width="0"/>
<circle cx="1253.6" cy="602.6" r="4.6" fill="#272727" stroke="none" stroke-width="0"/>
<circle cx="1288" cy="585.4" r="4.6" fill="#202020" stroke="none" stroke-width="0"/>
<circle cx="1288" cy="568.2" r="4.6" fill="#191919" stroke="none" stroke-width="0"/>
<circle cx="1312.7" cy="550.9" r="4.6" fill="#111111" stroke="none" stroke-width="0"/>
<circle cx="1337.3" cy="533.7" r="4.6" fill="#0a0a0a" stroke="none" stroke-width="0"/>
<line x1="1076.2" y1="861.1" x2="1110.7" y2="843.9" stroke="#60bb6c" stroke-width="2" stroke-linecap="round"/>
<line x1="1110.7" y1="843.9" x2="1238.8" y2="826.6" stroke="#5bb568" stroke-width="2" stroke-linecap="round"/>
<line x1="1238.8" y1="826.6" x2="1253.6" y2="809.4" stroke="#57b064" stroke-width="2" stroke-linecap="round"/>
<line x1="1253.6" y1="809.4" x2="1253.6" y2="792.2" stroke="#52aa60" stroke-width="2" stroke-linecap="round"/>
<line x1="1253.6" y1="792.2" x2="1278.2" y2="774.9" stroke="#4ea45c" stroke-width="2" stroke-linecap="round"/>
<line x1="1278.2" y1="774.9" x2="1293" y2="757.7" stroke="#499f59" stroke-width="2" stroke-linecap="round"/>
<line x1="1293" y1="757.7" x2="1312.7" y2="740.5" stroke="#459955" stroke-width="2" stroke-linecap="round"/>
<line x1="1312.7" y1="740.5" x2="1322.5" y2="723.2" stroke="#409351" stroke-width="2" stroke-linecap="round"/>
<line x1="1322.5" y1="723.2" x2="1332.4" y2="706" stroke="#3c8e4d" stroke-width="2" stroke-linecap="round"/>
<line x1="1332.4" y1="706" x2="1337.3" y2="688.8" stroke="#378849" stroke-width="2" stroke-linecap="round"/>
<line x1="1337.3" y1="688.8" x2="1352.1" y2="671.6" stroke="#328245" stroke-width="2" stroke-linecap="round"/>
<line x1="1352.1" y1="671.6" x2="1371.8" y2="654.3" stroke="#2e7d41" stroke-width="2" stroke-linecap="round"/>
<line x1="1371.8" y1="654.3" x2="1376.7" y2="637.1" stroke="#29773d" stroke-width="2" stroke-linecap="round"/>
<line x1="1376.7" y1="637.1" x2="1381.6" y2="619.9" stroke="#257139" stroke-width="2" stroke-linecap="round"/>
<line x1="1381.6" y1="619.9" x2="1386.5" y2="602.6" stroke="#206c36" stroke-width="2" stroke-linecap="round"/>
<line x1="1386.5" y1="602.6" x2="1391.5" y2="585.4" stroke="#1c6632" stroke-width="2" stroke-linecap="round"/>
<line x1="1391.5" y1="585.4" x2="1401.3" y2="568.2" stroke="#17602e" stroke-width="2" stroke-linecap="round"/>
<line x1="1401.3" y1="568.2" x2="1416.1" y2="550.9" stroke="#135b2a" stroke-width="2" stroke-linecap="round"/>
<line x1="1416.1" y1="550.9" x2="1421" y2="533.7" stroke="#0e5526" stroke-width="2" stroke-linecap="round"/>
<circle cx="1076.2" cy="861.1" r="4.6" fill="#62be6e" stroke="none" stroke-width="0"/>
<circle cx="1110.7" cy="843.9" r="4.6" fill="#5db86a" stroke="none" stroke-width="0"/>
<circle cx="1238.8" cy="826.6" r="4.6" fill="#59b366" stroke="none" stroke-width="0"/>
<circle cx="1253.6" cy="809.4" r="4.6" fill="#54ad62" stroke="none" stroke-width="0"/>
<circle cx="1253.6" cy="792.2" r="4.6" fill="#50a75e" stroke="none" stroke-width="0"/>
<circle cx="1278.2" cy="774.9" r="4.6" fill="#4ba25b" stroke="none" stroke-width="0"/>
<circle cx="1293" cy="757.7" r="4.6" fill="#479c57" stroke="none" stroke-width="0"/>
<circle cx="1312.7" cy="740.5" r="4.6" fill="#429653" stroke="none" stroke-width="0"/>
<circle cx="1322.5" cy="723.2" r="4.6" fill="#3e914f" stroke="none" stroke-width="0"/>
<circle cx="1332.4" cy="706" r="4.6" fill="#398b4b" stroke="none" stroke-width="0"/>
<circle cx="1337.3" cy="688.8" r="4.6" fill="#358547" stroke="none" stroke-width="0"/>
<circle cx="1352.1" cy="671.6" r="4.6" fill="#307f43" stroke="none" stroke-width="0"/>
<circle cx="1371.8" cy="654.3" r="4.6" fill="#2c7a3f" stroke="none" stroke-width="0"/>
<circle cx="1376.7" cy="637.1" r="4.6" fill="#27743b" stroke="none" stroke-width="0"/>
<circle cx="1381.6" cy="619.9" r="4.6" fill="#236e37" stroke="none" stroke-width="0"/>
<circle cx="1386.5" cy="602.6" r="4.6" fill="#1e6934" stroke="none" stroke-width="0"/>
<circle cx="1391.5" cy="585.4" r="4.6" fill="#1a6330" stroke="none" stroke-width="0"/>
<circle cx="1401.3" cy="568.2" r="4.6" fill="#155d2c" stroke="none" stroke-width="0"/>
<circle cx="1416.1" cy="550.9" r="4.6" fill="#115828" stroke="none" stroke-width="0"/>
<circle cx="1421" cy="533.7" r="4.6" fill="#0c5224" stroke="none" stroke-width="0"/>
<line x1="1062.1" y1="536.3" x2="1094.6" y2="536.3" stroke="#1e8a43" stroke-width="2"/>
<circle cx="1078.3" cy="536.3" r="4.6" fill="#1e8a43" stroke="none" stroke-width="0"/>
<line x1="1062.1" y1="557.7" x2="1094.6" y2="557.7" stroke="#454545" stroke-width="2"/>
<circle cx="1078.3" cy="557.7" r="4.6" fill="#454545" stroke="none" stroke-width="0"/>
<text x="1105.8" y="541.8" font-size="15.7" fill="#1a1a1a" textLength="78.2" lengthAdjust="spacingAndGlyphs">CNTRL+M</text>
<text x="1105.3" y="563.5" font-size="16.5" fill="#1a1a1a" textLength="70.6" lengthAdjust="spacingAndGlyphs">HGRY+M</text>
<text x="0.6" y="976" font-size="36.8" fill="#000" font-weight="bold" textLength="22.6" lengthAdjust="spacingAndGlyphs">g</text>
<clipPath id="cg1014"><rect x="73.4" y="1014.7" width="400.6" height="123"/></clipPath>
<line x1="120.4" y1="1014.7" x2="120.4" y2="1137.7" stroke="#b8b8b8" stroke-width="1"/>
<line x1="120.4" y1="1137.7" x2="120.4" y2="1141.2" stroke="#262626" stroke-width="1.1"/>
<text x="112.7" y="1154.2" font-size="10.7" fill="#1a1a1a" textLength="15.3" lengthAdjust="spacingAndGlyphs">2.5</text>
<line x1="168.3" y1="1014.7" x2="168.3" y2="1137.7" stroke="#b8b8b8" stroke-width="1"/>
<line x1="168.3" y1="1137.7" x2="168.3" y2="1141.2" stroke="#262626" stroke-width="1.1"/>
<text x="160.6" y="1154.2" font-size="10.7" fill="#1a1a1a" textLength="15.3" lengthAdjust="spacingAndGlyphs">5.0</text>
<line x1="216.2" y1="1014.7" x2="216.2" y2="1137.7" stroke="#b8b8b8" stroke-width="1"/>
<line x1="216.2" y1="1137.7" x2="216.2" y2="1141.2" stroke="#262626" stroke-width="1.1"/>
<text x="208.5" y="1154.2" font-size="10.7" fill="#1a1a1a" textLength="15.2" lengthAdjust="spacingAndGlyphs">7.5</text>
<line x1="264.1" y1="1014.7" x2="264.1" y2="1137.7" stroke="#b8b8b8" stroke-width="1"/>
<line x1="264.1" y1="1137.7" x2="264.1" y2="1141.2" stroke="#262626" stroke-width="1.1"/>
<text x="253" y="1154.2" font-size="10.7" fill="#1a1a1a" textLength="21.8" lengthAdjust="spacingAndGlyphs">10.0</text>
<line x1="312" y1="1014.7" x2="312" y2="1137.7" stroke="#b8b8b8" stroke-width="1"/>
<line x1="312" y1="1137.7" x2="312" y2="1141.2" stroke="#262626" stroke-width="1.1"/>
<text x="301" y="1154.2" font-size="10.7" fill="#1a1a1a" textLength="21.6" lengthAdjust="spacingAndGlyphs">12.5</text>
<line x1="359.9" y1="1014.7" x2="359.9" y2="1137.7" stroke="#b8b8b8" stroke-width="1"/>
<line x1="359.9" y1="1137.7" x2="359.9" y2="1141.2" stroke="#262626" stroke-width="1.1"/>
<text x="348.8" y="1154.2" font-size="10.7" fill="#1a1a1a" textLength="21.8" lengthAdjust="spacingAndGlyphs">15.0</text>
<line x1="407.8" y1="1014.7" x2="407.8" y2="1137.7" stroke="#b8b8b8" stroke-width="1"/>
<line x1="407.8" y1="1137.7" x2="407.8" y2="1141.2" stroke="#262626" stroke-width="1.1"/>
<text x="396.8" y="1154.2" font-size="10.7" fill="#1a1a1a" textLength="21.6" lengthAdjust="spacingAndGlyphs">17.5</text>
<line x1="455.7" y1="1014.7" x2="455.7" y2="1137.7" stroke="#b8b8b8" stroke-width="1"/>
<line x1="455.7" y1="1137.7" x2="455.7" y2="1141.2" stroke="#262626" stroke-width="1.1"/>
<text x="444.7" y="1154.2" font-size="10.7" fill="#1a1a1a" textLength="21.9" lengthAdjust="spacingAndGlyphs">20.0</text>
<line x1="73.4" y1="1031.3" x2="474" y2="1031.3" stroke="#b8b8b8" stroke-width="1"/>
<line x1="69.9" y1="1031.3" x2="73.4" y2="1031.3" stroke="#262626" stroke-width="1.1"/>
<text x="50.2" y="1035.1" font-size="10.7" fill="#1a1a1a" textLength="15.2" lengthAdjust="spacingAndGlyphs">0.2</text>
<line x1="73.4" y1="1060.2" x2="474" y2="1060.2" stroke="#b8b8b8" stroke-width="1"/>
<line x1="69.9" y1="1060.2" x2="73.4" y2="1060.2" stroke="#262626" stroke-width="1.1"/>
<text x="50.1" y="1063.9" font-size="10.7" fill="#1a1a1a" textLength="15.3" lengthAdjust="spacingAndGlyphs">0.1</text>
<line x1="73.4" y1="1089" x2="474" y2="1089" stroke="#b8b8b8" stroke-width="1"/>
<line x1="69.9" y1="1089" x2="73.4" y2="1089" stroke="#262626" stroke-width="1.1"/>
<text x="49.9" y="1092.8" font-size="10.7" fill="#1a1a1a" textLength="15.4" lengthAdjust="spacingAndGlyphs">0.0</text>
<line x1="73.4" y1="1117.8" x2="474" y2="1117.8" stroke="#b8b8b8" stroke-width="1"/>
<line x1="69.9" y1="1117.8" x2="73.4" y2="1117.8" stroke="#262626" stroke-width="1.1"/>
<text x="42" y="1121.6" font-size="10.7" fill="#1a1a1a" textLength="23.5" lengthAdjust="spacingAndGlyphs">−0.1</text>
<polyline points="91.7,1085.3 97.8,1086.4 104,1087.6 110.2,1088.7 116.3,1089.7 122.5,1090.7 128.7,1091.7 134.9,1092.6 141,1093.5 147.2,1094.3 153.4,1095.1 159.5,1095.8 165.7,1096.5 171.9,1097.2 178,1097.8 184.2,1098.4 190.4,1098.9 196.6,1099.4 202.7,1099.9 208.9,1100.3 215.1,1100.6 221.2,1100.9 227.4,1101.2 233.6,1101.5 239.7,1101.6 245.9,1101.8 252.1,1101.9 258.3,1102 264.4,1102 270.6,1102 276.8,1101.9 282.9,1101.8 289.1,1101.6 295.3,1101.4 301.4,1101.2 307.6,1100.9 313.8,1100.6 320,1100.2 326.1,1099.8 332.3,1099.4 338.5,1098.9 344.6,1098.3 350.8,1097.8 357,1097.1 363.1,1096.5 369.3,1095.8 375.5,1095 381.7,1094.2 387.8,1093.4 394,1092.5 400.2,1091.6 406.3,1090.6 412.5,1089.6 418.7,1088.5 424.8,1087.4 431,1086.3 437.2,1085.1 443.4,1083.9 449.5,1082.6 455.7,1081.3" fill="none" stroke="#000" stroke-width="1.9" stroke-linejoin="round" stroke-dasharray="6.2,3.2" clip-path="url(#cg1014)"/>
<polyline points="91.7,1083.2 110.8,1071.7 130,1091.9 149.1,1091.9 168.3,1094.8 187.5,1126.5 206.6,1117.8 225.8,1115 244.9,1086.1 264.1,1040 283.3,1126.5 302.4,1100.5 321.6,1117.8 340.7,1077.5 359.9,1123.6 379.1,1077.5 398.2,1109.2 417.4,1019.8 436.5,1132.3 455.7,1083.2" fill="none" stroke="#0f820f" stroke-width="1.6" stroke-linejoin="round" clip-path="url(#cg1014)"/>
<circle cx="91.7" cy="1083.2" r="3.6" fill="#0f820f" stroke="none" stroke-width="0"/>
<circle cx="110.8" cy="1071.7" r="3.6" fill="#0f820f" stroke="none" stroke-width="0"/>
<circle cx="130" cy="1091.9" r="3.6" fill="#0f820f" stroke="none" stroke-width="0"/>
<circle cx="149.1" cy="1091.9" r="3.6" fill="#0f820f" stroke="none" stroke-width="0"/>
<circle cx="168.3" cy="1094.8" r="3.6" fill="#0f820f" stroke="none" stroke-width="0"/>
<circle cx="187.5" cy="1126.5" r="3.6" fill="#0f820f" stroke="none" stroke-width="0"/>
<circle cx="206.6" cy="1117.8" r="3.6" fill="#0f820f" stroke="none" stroke-width="0"/>
<circle cx="225.8" cy="1115" r="3.6" fill="#0f820f" stroke="none" stroke-width="0"/>
<circle cx="244.9" cy="1086.1" r="3.6" fill="#0f820f" stroke="none" stroke-width="0"/>
<circle cx="264.1" cy="1040" r="3.6" fill="#0f820f" stroke="none" stroke-width="0"/>
<circle cx="283.3" cy="1126.5" r="3.6" fill="#0f820f" stroke="none" stroke-width="0"/>
<circle cx="302.4" cy="1100.5" r="3.6" fill="#0f820f" stroke="none" stroke-width="0"/>
<circle cx="321.6" cy="1117.8" r="3.6" fill="#0f820f" stroke="none" stroke-width="0"/>
<circle cx="340.7" cy="1077.5" r="3.6" fill="#0f820f" stroke="none" stroke-width="0"/>
<circle cx="359.9" cy="1123.6" r="3.6" fill="#0f820f" stroke="none" stroke-width="0"/>
<circle cx="379.1" cy="1077.5" r="3.6" fill="#0f820f" stroke="none" stroke-width="0"/>
<circle cx="398.2" cy="1109.2" r="3.6" fill="#0f820f" stroke="none" stroke-width="0"/>
<circle cx="417.4" cy="1019.8" r="3.6" fill="#0f820f" stroke="none" stroke-width="0"/>
<circle cx="436.5" cy="1132.3" r="3.6" fill="#0f820f" stroke="none" stroke-width="0"/>
<circle cx="455.7" cy="1083.2" r="3.6" fill="#0f820f" stroke="none" stroke-width="0"/>
<rect x="73.4" y="1014.7" width="400.6" height="123" fill="none" stroke="#222" stroke-width="1.2"/>
<rect x="78.4" y="1020.2" width="91.5" height="18.4" rx="3" fill="#fff" fill-opacity="0.85" stroke="#d0d0d0" stroke-width="1"/>
<line x1="82.1" y1="1028.5" x2="104.8" y2="1028.5" stroke="#0f820f" stroke-width="1.6"/>
<circle cx="93.5" cy="1028.5" r="3.6" fill="#0f820f" stroke="none" stroke-width="0"/>
<text x="112.5" y="1032.9" font-size="11.4" fill="#1a1a1a" textLength="53.5" lengthAdjust="spacingAndGlyphs">CNTRL+M</text>
<text x="235.4" y="1169.8" font-size="12" fill="#1a1a1a" textLength="76.3" lengthAdjust="spacingAndGlyphs">Sample index</text>
<text x="31.9" y="1114.7" font-size="12" fill="#1a1a1a" textLength="76.3" lengthAdjust="spacingAndGlyphs" transform="rotate(-90 31.9 1114.7)">Turning index</text>
<clipPath id="cg1185"><rect x="73.4" y="1185" width="400.6" height="122.4"/></clipPath>
<line x1="120.4" y1="1185" x2="120.4" y2="1307.4" stroke="#b8b8b8" stroke-width="1"/>
<line x1="120.4" y1="1307.4" x2="120.4" y2="1310.9" stroke="#262626" stroke-width="1.1"/>
<text x="112.7" y="1324.3" font-size="10.7" fill="#1a1a1a" textLength="15.3" lengthAdjust="spacingAndGlyphs">2.5</text>
<line x1="168.3" y1="1185" x2="168.3" y2="1307.4" stroke="#b8b8b8" stroke-width="1"/>
<line x1="168.3" y1="1307.4" x2="168.3" y2="1310.9" stroke="#262626" stroke-width="1.1"/>
<text x="160.6" y="1324.3" font-size="10.7" fill="#1a1a1a" textLength="15.3" lengthAdjust="spacingAndGlyphs">5.0</text>
<line x1="216.2" y1="1185" x2="216.2" y2="1307.4" stroke="#b8b8b8" stroke-width="1"/>
<line x1="216.2" y1="1307.4" x2="216.2" y2="1310.9" stroke="#262626" stroke-width="1.1"/>
<text x="208.5" y="1324.3" font-size="10.7" fill="#1a1a1a" textLength="15.2" lengthAdjust="spacingAndGlyphs">7.5</text>
<line x1="264.1" y1="1185" x2="264.1" y2="1307.4" stroke="#b8b8b8" stroke-width="1"/>
<line x1="264.1" y1="1307.4" x2="264.1" y2="1310.9" stroke="#262626" stroke-width="1.1"/>
<text x="253" y="1324.3" font-size="10.7" fill="#1a1a1a" textLength="21.8" lengthAdjust="spacingAndGlyphs">10.0</text>
<line x1="312" y1="1185" x2="312" y2="1307.4" stroke="#b8b8b8" stroke-width="1"/>
<line x1="312" y1="1307.4" x2="312" y2="1310.9" stroke="#262626" stroke-width="1.1"/>
<text x="301" y="1324.3" font-size="10.7" fill="#1a1a1a" textLength="21.6" lengthAdjust="spacingAndGlyphs">12.5</text>
<line x1="359.9" y1="1185" x2="359.9" y2="1307.4" stroke="#b8b8b8" stroke-width="1"/>
<line x1="359.9" y1="1307.4" x2="359.9" y2="1310.9" stroke="#262626" stroke-width="1.1"/>
<text x="348.8" y="1324.3" font-size="10.7" fill="#1a1a1a" textLength="21.8" lengthAdjust="spacingAndGlyphs">15.0</text>
<line x1="407.8" y1="1185" x2="407.8" y2="1307.4" stroke="#b8b8b8" stroke-width="1"/>
<line x1="407.8" y1="1307.4" x2="407.8" y2="1310.9" stroke="#262626" stroke-width="1.1"/>
<text x="396.8" y="1324.3" font-size="10.7" fill="#1a1a1a" textLength="21.6" lengthAdjust="spacingAndGlyphs">17.5</text>
<line x1="455.7" y1="1185" x2="455.7" y2="1307.4" stroke="#b8b8b8" stroke-width="1"/>
<line x1="455.7" y1="1307.4" x2="455.7" y2="1310.9" stroke="#262626" stroke-width="1.1"/>
<text x="444.7" y="1324.3" font-size="10.7" fill="#1a1a1a" textLength="21.9" lengthAdjust="spacingAndGlyphs">20.0</text>
<line x1="73.4" y1="1190.4" x2="474" y2="1190.4" stroke="#b8b8b8" stroke-width="1"/>
<line x1="69.9" y1="1190.4" x2="73.4" y2="1190.4" stroke="#262626" stroke-width="1.1"/>
<text x="50.1" y="1194.2" font-size="10.7" fill="#1a1a1a" textLength="15.3" lengthAdjust="spacingAndGlyphs">0.1</text>
<line x1="73.4" y1="1233.5" x2="474" y2="1233.5" stroke="#b8b8b8" stroke-width="1"/>
<line x1="69.9" y1="1233.5" x2="73.4" y2="1233.5" stroke="#262626" stroke-width="1.1"/>
<text x="49.9" y="1237.3" font-size="10.7" fill="#1a1a1a" textLength="15.4" lengthAdjust="spacingAndGlyphs">0.0</text>
<line x1="73.4" y1="1276.6" x2="474" y2="1276.6" stroke="#b8b8b8" stroke-width="1"/>
<line x1="69.9" y1="1276.6" x2="73.4" y2="1276.6" stroke="#262626" stroke-width="1.1"/>
<text x="42" y="1280.4" font-size="10.7" fill="#1a1a1a" textLength="23.5" lengthAdjust="spacingAndGlyphs">−0.1</text>
<polyline points="91.7,1241.6 97.8,1242.7 104,1243.7 110.2,1244.7 116.3,1245.6 122.5,1246.5 128.7,1247.4 134.9,1248.2 141,1249 147.2,1249.7 153.4,1250.4 159.5,1251 165.7,1251.7 171.9,1252.2 178,1252.8 184.2,1253.2 190.4,1253.7 196.6,1254.1 202.7,1254.5 208.9,1254.8 215.1,1255.1 221.2,1255.3 227.4,1255.5 233.6,1255.7 239.7,1255.8 245.9,1255.9 252.1,1255.9 258.3,1255.9 264.4,1255.9 270.6,1255.8 276.8,1255.6 282.9,1255.5 289.1,1255.3 295.3,1255 301.4,1254.7 307.6,1254.4 313.8,1254 320,1253.6 326.1,1253.1 332.3,1252.6 338.5,1252.1 344.6,1251.5 350.8,1250.9 357,1250.2 363.1,1249.5 369.3,1248.8 375.5,1248 381.7,1247.2 387.8,1246.3 394,1245.4 400.2,1244.5 406.3,1243.5 412.5,1242.4 418.7,1241.4 424.8,1240.2 431,1239.1 437.2,1237.9 443.4,1236.7 449.5,1235.4 455.7,1234.1" fill="none" stroke="#159015" stroke-width="1.9" stroke-linejoin="round" stroke-dasharray="6.2,3.2" clip-path="url(#cg1185)"/>
<polyline points="91.7,1246.4 110.8,1259.4 130,1250.7 149.1,1276.6 168.3,1207.6 187.5,1276.6 206.6,1220.6 225.8,1259.4 244.9,1216.3 264.1,1246.4 283.3,1302.5 302.4,1255 321.6,1285.2 340.7,1250.7 359.9,1203.3 379.1,1263.7 398.2,1289.5 417.4,1242.1 436.5,1190.4 455.7,1233.5" fill="none" stroke="#000" stroke-width="1.6" stroke-linejoin="round" clip-path="url(#cg1185)"/>
<circle cx="91.7" cy="1246.4" r="3.6" fill="#000" stroke="none" stroke-width="0"/>
<circle cx="110.8" cy="1259.4" r="3.6" fill="#000" stroke="none" stroke-width="0"/>
<circle cx="130" cy="1250.7" r="3.6" fill="#000" stroke="none" stroke-width="0"/>
<circle cx="149.1" cy="1276.6" r="3.6" fill="#000" stroke="none" stroke-width="0"/>
<circle cx="168.3" cy="1207.6" r="3.6" fill="#000" stroke="none" stroke-width="0"/>
<circle cx="187.5" cy="1276.6" r="3.6" fill="#000" stroke="none" stroke-width="0"/>
<circle cx="206.6" cy="1220.6" r="3.6" fill="#000" stroke="none" stroke-width="0"/>
<circle cx="225.8" cy="1259.4" r="3.6" fill="#000" stroke="none" stroke-width="0"/>
<circle cx="244.9" cy="1216.3" r="3.6" fill="#000" stroke="none" stroke-width="0"/>
<circle cx="264.1" cy="1246.4" r="3.6" fill="#000" stroke="none" stroke-width="0"/>
<circle cx="283.3" cy="1302.5" r="3.6" fill="#000" stroke="none" stroke-width="0"/>
<circle cx="302.4" cy="1255" r="3.6" fill="#000" stroke="none" stroke-width="0"/>
<circle cx="321.6" cy="1285.2" r="3.6" fill="#000" stroke="none" stroke-width="0"/>
<circle cx="340.7" cy="1250.7" r="3.6" fill="#000" stroke="none" stroke-width="0"/>
<circle cx="359.9" cy="1203.3" r="3.6" fill="#000" stroke="none" stroke-width="0"/>
<circle cx="379.1" cy="1263.7" r="3.6" fill="#000" stroke="none" stroke-width="0"/>
<circle cx="398.2" cy="1289.5" r="3.6" fill="#000" stroke="none" stroke-width="0"/>
<circle cx="417.4" cy="1242.1" r="3.6" fill="#000" stroke="none" stroke-width="0"/>
<circle cx="436.5" cy="1190.4" r="3.6" fill="#000" stroke="none" stroke-width="0"/>
<circle cx="455.7" cy="1233.5" r="3.6" fill="#000" stroke="none" stroke-width="0"/>
<rect x="73.4" y="1185" width="400.6" height="122.4" fill="none" stroke="#222" stroke-width="1.2"/>
<rect x="78.4" y="1190.6" width="85.3" height="18.7" rx="3" fill="#fff" fill-opacity="0.85" stroke="#d0d0d0" stroke-width="1"/>
<line x1="82.1" y1="1199" x2="104.8" y2="1199" stroke="#000" stroke-width="1.6"/>
<circle cx="93.5" cy="1199" r="3.6" fill="#000" stroke="none" stroke-width="0"/>
<text x="112.2" y="1203.5" font-size="11.4" fill="#1a1a1a" textLength="47.7" lengthAdjust="spacingAndGlyphs">HGRY+M</text>
<text x="235.4" y="1339.5" font-size="12" fill="#1a1a1a" textLength="76.3" lengthAdjust="spacingAndGlyphs">Sample index</text>
<text x="31.9" y="1284.7" font-size="12" fill="#1a1a1a" textLength="76.3" lengthAdjust="spacingAndGlyphs" transform="rotate(-90 31.9 1284.7)">Turning index</text>
<text x="482.6" y="975.9" font-size="35.7" fill="#000" font-weight="bold" textLength="22.2" lengthAdjust="spacingAndGlyphs">h</text>
<clipPath id="ch"><rect x="561.8" y="986.4" width="381.5" height="369.4"/></clipPath>
<polygon points="561.8,1114.5 657.1,1188.7 752.4,1242.6 847.8,1261.1 943.1,1311 943.1,1339.3 847.8,1309.3 752.4,1282.7 657.1,1255.9 561.8,1192.7" fill="#90ee90" fill-opacity="0.5" clip-path="url(#ch)"/>
<polygon points="561.8,1006.6 657.1,1002.6 752.4,1101.3 847.8,1164.7 943.1,1194.5 943.1,1254.5 847.8,1240.9 752.4,1172.8 657.1,1109.6 561.8,1143.1" fill="#a8a8a8" fill-opacity="0.3" clip-path="url(#ch)"/>
<line x1="657.1" y1="986.4" x2="657.1" y2="1355.8" stroke="#b8b8b8" stroke-width="1.1"/>
<line x1="752.4" y1="986.4" x2="752.4" y2="1355.8" stroke="#b8b8b8" stroke-width="1.1"/>
<line x1="847.8" y1="986.4" x2="847.8" y2="1355.8" stroke="#b8b8b8" stroke-width="1.1"/>
<line x1="561.8" y1="1331.2" x2="943.3" y2="1331.2" stroke="#b8b8b8" stroke-width="1.1"/>
<line x1="561.8" y1="1273.5" x2="943.3" y2="1273.5" stroke="#b8b8b8" stroke-width="1.1"/>
<line x1="561.8" y1="1215.8" x2="943.3" y2="1215.8" stroke="#b8b8b8" stroke-width="1.1"/>
<line x1="561.8" y1="1158.1" x2="943.3" y2="1158.1" stroke="#b8b8b8" stroke-width="1.1"/>
<line x1="561.8" y1="1100.4" x2="943.3" y2="1100.4" stroke="#b8b8b8" stroke-width="1.1"/>
<line x1="561.8" y1="1042.7" x2="943.3" y2="1042.7" stroke="#b8b8b8" stroke-width="1.1"/>
<polyline points="561.8,1153.8 657.1,1222.7 752.4,1262.8 847.8,1285.9 943.1,1326.9" fill="none" stroke="#007a00" stroke-width="2.3" stroke-linejoin="round" clip-path="url(#ch)"/>
<path d="M566.8,1153.8 L557.8,1148.8 L557.8,1158.8 Z" fill="#007a00" clip-path="url(#ch)"/>
<path d="M662.1,1222.7 L653.1,1217.7 L653.1,1227.7 Z" fill="#007a00" clip-path="url(#ch)"/>
<path d="M757.4,1262.8 L748.4,1257.8 L748.4,1267.8 Z" fill="#007a00" clip-path="url(#ch)"/>
<path d="M852.8,1285.9 L843.8,1280.9 L843.8,1290.9 Z" fill="#007a00" clip-path="url(#ch)"/>
<path d="M948.1,1326.9 L939.1,1321.9 L939.1,1331.9 Z" fill="#007a00" clip-path="url(#ch)"/>
<polyline points="561.8,1075.3 657.1,1056.3 752.4,1137.9 847.8,1203.4 943.1,1225.3" fill="none" stroke="#000" stroke-width="2.3" stroke-linejoin="round" clip-path="url(#ch)"/>
<path d="M566.8,1075.3 L557.8,1070.3 L557.8,1080.3 Z" fill="#000" clip-path="url(#ch)"/>
<path d="M662.1,1056.3 L653.1,1051.3 L653.1,1061.3 Z" fill="#000" clip-path="url(#ch)"/>
<path d="M757.4,1137.9 L748.4,1132.9 L748.4,1142.9 Z" fill="#000" clip-path="url(#ch)"/>
<path d="M852.8,1203.4 L843.8,1198.4 L843.8,1208.4 Z" fill="#000" clip-path="url(#ch)"/>
<path d="M948.1,1225.3 L939.1,1220.3 L939.1,1230.3 Z" fill="#000" clip-path="url(#ch)"/>
<rect x="561.8" y="986.4" width="381.5" height="369.4" fill="none" stroke="#222" stroke-width="1.3"/>
<line x1="557" y1="1331.2" x2="561.8" y2="1331.2" stroke="#262626" stroke-width="1.1"/>
<text x="535" y="1336.4" font-size="14.8" fill="#1a1a1a" textLength="17.1" lengthAdjust="spacingAndGlyphs">20</text>
<line x1="557" y1="1273.5" x2="561.8" y2="1273.5" stroke="#262626" stroke-width="1.1"/>
<text x="535.1" y="1278.7" font-size="14.8" fill="#1a1a1a" textLength="17" lengthAdjust="spacingAndGlyphs">40</text>
<line x1="557" y1="1215.8" x2="561.8" y2="1215.8" stroke="#262626" stroke-width="1.1"/>
<text x="534.9" y="1221" font-size="14.8" fill="#1a1a1a" textLength="17.2" lengthAdjust="spacingAndGlyphs">60</text>
<line x1="557" y1="1158.1" x2="561.8" y2="1158.1" stroke="#262626" stroke-width="1.1"/>
<text x="535" y="1163.3" font-size="14.8" fill="#1a1a1a" textLength="17.1" lengthAdjust="spacingAndGlyphs">80</text>
<line x1="557" y1="1100.4" x2="561.8" y2="1100.4" stroke="#262626" stroke-width="1.1"/>
<text x="526.2" y="1105.6" font-size="14.8" fill="#1a1a1a" textLength="25.9" lengthAdjust="spacingAndGlyphs">100</text>
<line x1="557" y1="1042.7" x2="561.8" y2="1042.7" stroke="#262626" stroke-width="1.1"/>
<text x="526.2" y="1047.9" font-size="14.8" fill="#1a1a1a" textLength="25.9" lengthAdjust="spacingAndGlyphs">120</text>
<line x1="561.8" y1="1355.8" x2="561.8" y2="1360.6" stroke="#262626" stroke-width="1.1"/>
<text x="553.1" y="1377.4" font-size="14.8" fill="#1a1a1a" textLength="17.2" lengthAdjust="spacingAndGlyphs">60</text>
<line x1="657.1" y1="1355.8" x2="657.1" y2="1360.6" stroke="#262626" stroke-width="1.1"/>
<text x="643.9" y="1377.4" font-size="14.8" fill="#1a1a1a" textLength="25.9" lengthAdjust="spacingAndGlyphs">120</text>
<line x1="752.4" y1="1355.8" x2="752.4" y2="1360.6" stroke="#262626" stroke-width="1.1"/>
<text x="739.2" y="1377.4" font-size="14.8" fill="#1a1a1a" textLength="25.9" lengthAdjust="spacingAndGlyphs">180</text>
<line x1="847.8" y1="1355.8" x2="847.8" y2="1360.6" stroke="#262626" stroke-width="1.1"/>
<text x="834.7" y="1377.4" font-size="14.8" fill="#1a1a1a" textLength="26" lengthAdjust="spacingAndGlyphs">240</text>
<line x1="943.1" y1="1355.8" x2="943.1" y2="1360.6" stroke="#262626" stroke-width="1.1"/>
<text x="930.2" y="1377.4" font-size="14.8" fill="#1a1a1a" textLength="25.7" lengthAdjust="spacingAndGlyphs">300</text>
<rect x="818.5" y="993.3" width="117.7" height="42.8" rx="3" fill="#fff" fill-opacity="0.85" stroke="#d0d0d0" stroke-width="1"/>
<line x1="823.1" y1="1003.9" x2="853" y2="1003.9" stroke="#007a00" stroke-width="2.3"/>
<path d="M841,1003.9 L832.2,998.9 L832.2,1008.9 Z" fill="#007a00"/>
<line x1="823.1" y1="1023.7" x2="853" y2="1023.7" stroke="#000" stroke-width="2.3"/>
<path d="M841,1023.7 L832.2,1018.7 L832.2,1028.7 Z" fill="#000"/>
<text x="862.7" y="1008.6" font-size="12.9" fill="#1a1a1a" textLength="68.4" lengthAdjust="spacingAndGlyphs">CNTRL+M</text>
<text x="862.2" y="1027.7" font-size="12.7" fill="#1a1a1a" textLength="61.9" lengthAdjust="spacingAndGlyphs">HGRY+M</text>
<text x="514.9" y="1298.3" font-size="18.5" fill="#1a1a1a" transform="rotate(-90 514.9 1298.3)">Average number of mirror bites</text>
<text x="709.1" y="1399.1" font-size="16.1" fill="#1a1a1a" textLength="89" lengthAdjust="spacingAndGlyphs">Time [sec]</text>
<text x="971.5" y="978" font-size="35.6" fill="#000" font-weight="bold" textLength="10.1" lengthAdjust="spacingAndGlyphs">i</text>
<clipPath id="ci"><rect x="1052" y="991.9" width="385.6" height="360.5"/></clipPath>
<g clip-path="url(#ci)"><rect x="1052" y="991.9" width="385.6" height="360.5" fill="#313695"/>
<path d="M1114.5,1040l7.5-2.5 7.5-1.5 10,0 7.5,1 5,1.5 7.5,3.5 5,3 8,7 7,9 4.5,8.5 2,5 2.5,7.5 1.5,7.5 2,30 2.5,1.5 2.5-1.5 9-7.5 5-5 9-10 4.5-7 4.5-8 12-25 8.5-12 7.5-8 7.5-5.5 7.5-4 7.5-2.5 5-1 10-1 10,1.5 12.5,4.5 7.5,3.5 25,15.5 17.5,8 12.5,6.5 7.5,5.5 7.5,7.5 6.5,9 4,7.5 2,6 2.5,11.5 0.5,15-1,7.5-2,10-6.5,25-5.5,27.5-2.5,10-5.5,15-6.5,12.5-4.5,7.5-22,30-9.5,12-10.5,10.5-16,12.5-13,7.5-10,5-15.5,6-12.5,2.5-10,1-5,0-12.5-1.5-11-3-6.5-2.5-7.5-4-9-6-8.5-7.5-4.5-5-7.5-10-5-10-4-10-2.5-12.5-1-7.5-0.5-15 1-20 3.5-27.5 6-32.5 0.5-7.5-1-3.5-2.5,0-2.5,1-19,10-11,3.5-10,1.5-5,0-10-1.5-10-3.5-8-5-4.5-4-3.5-3.5-6-7.5-4-7.5-3-7.5-2-10-1-7.5 0-7.5 2-10 4-12.5 3.5-6.5 7.5-10 7.5-7z" fill="#36459c"/>
<path d="M1304.5,1031l5,2 10,4 28.5,17.5 16.5,7.5 12.5,7 7.5,5.5 5,5 5.5,7.5 5,10 3,12.5 1,7.5 0,7.5-3,17.5-6,22.5-7,35-4,12.5-3,7.5-10,17.5-17.5,25-11.5,15-7,7.5-12,10-7,5-11.5,7-15,7-10.5,3.5-10,2.5-12,1.5-12.5-1-7.5-1.5-7.5-2.5-10-4-7.5-5-9.5-7.5-4.5-5-8-10-5-10-2-5-3-10-2-10-0.5-7.5-0.5-12.5 1-15 1.5-15 3.5-20 1.5-7.5 6-20 6.5-15 6.5-10 23.5-30 4.5-7.5 13.5-27.5 4.5-7 5-7 5-5 7.5-5.5 10-4.5 5-2 7.5-1 5,0zM1132,1043l10,0 5,1 5,2 10,6 7.5,6.5 5,6.5 4.5,9.5 3,10 1.5,10-0.5,12.5-2.5,10-3.5,7.5-5,7.5-8,7.5-8,5-4,2-7.5,2.5-10,1-6.5-0.5-11-3-7.5-4-6.5-5.5-7-7.5-5-10-3-7.5-1.5-10 0-7.5 1.5-12.5 4-10 5-8.5 5-6 5-4.5 7.5-5 7.5-3z" fill="#384ca0"/>
<path d="M1299.5,1035.5l10,2.5 10,4.5 27.5,17 17.5,8 7.5,4 5,3.5 7.5,6.5 6.5,8 2.5,5 3,7.5 2.5,10 0,12.5-0.5,7.5-2,10-4.5,17.5-7,35-3,12.5-3,7.5-5,10-9.5,15-15.5,22.5-10,12.5-10,10-9,7.5-11,7.5-14.5,7.5-12.5,5-15,3.5-12.5,1-12.5-1.5-10-2.5-7.5-3-8.5-5-7-5-5.5-5-6.5-7.5-5-7.5-3.5-7.5-4.5-12.5-2-12.5-1-10 0-10 1-17.5 2-15 3-15 5.5-20 7.5-17.5 9.5-15 13.5-17.5 9-12.5 4-7.5 10-20 8.5-13.5 7.5-8.5 5-4 7.5-4.5 5-2 7.5-1.5zM1129.5,1049l7.5-1 7.5,1 7.5,3 7.5,4.5 6,5.5 5.5,7.5 4,7.5 2.5,10 0.5,7.5 0,10-3,10-2,5-3,5-3.5,5-8.5,7.5-8.5,4.5-7.5,2.5-10,0-7.5-1-7.5-2.5-6-3.5-6.5-6-5.5-6.5-4-7.5-3-10-0.5-7.5 0.5-12.5 3-10 6-10 3.5-5 7.5-6 7.5-4.5 5-1.5z" fill="#3a54a4"/>
<path d="M1304.5,1041l12.5,5 26,16 24,11.5 5,3 5,3.5 5,5 5,6.5 2.5,4.5 2.5,6 2,5 1,10 0,7.5-1,12.5-6,22.5-7,37.5-4,12.5-3,7.5-4,7.5-8,12.5-21,30-8.5,10-10.5,10-7,5-10.5,6.5-12.5,6-12.5,4.5-12,3-10.5,1-10-0.5-7.5-1.5-7.5-2-9.5-4.5-4.5-2.5-9.5-7.5-7-7.5-3.5-5-6-10-3-7.5-2.5-10-1.5-10-0.5-20 2-25 4-22.5 5.5-17.5 3-7.5 5-10 9.5-15 20.5-27.5 5-7.5 12.5-25 8-11 7.5-7.5 7.5-4.5 10-4 5-0.5 7.5,0zM1134.5,1053l5,0 5,1 5,2 7.5,4.5 5,4.5 4,4.5 4,7.5 2.5,7.5 1.5,10-1,10-2,7.5-2,5-4.5,7.5-5,5.5-6.5,4.5-8.5,3.5-10,2-7.5-1-6.5-2-6-3-5.5-4.5-4.5-5.5-4.5-7-3-7.5-1-10 0-5 1-10 3-7.5 4.5-8 5-5 7.5-6 5-2.5 5-1.5z" fill="#3d5ba7"/>
<path d="M1304.5,1044.5l7.5,2.5 7.5,4 22.5,14 22.5,11 5,3 5,4 5,5 6.5,9 3.5,8 2,9.5 0.5,12.5-3,17.5-4.5,18.5-5,29-3.5,12.5-4,10-4,7.5-9,15-17,25-8,10-5,5-11.5,10-10.5,7-10,5.5-10,4.5-10,3-12,2.5-8,0.5-10-0.5-7.5-1.5-10.5-3.5-5-2.5-8-5-6-5-7-7.5-6-10-5-10-2-7.5-1.5-7.5-1.5-15 0-12.5 2-20 2-15 2-10 6.5-19 7.5-16 10-15 19-25 9-15 7-15 3-5 7-9 3.5-3.5 6.5-5 10-4.5 5-1.5 5-0.5 7.5,0.5zM1129.5,1058l7.5-1 5,1 5,1.5 5,2.5 5,4 5,5 5,8.5 1.5,5 1.5,10 0,5-2,10-2,5-5,7.5-4.5,5-7.5,5-7,2.5-7.5,1-8-1-6.5-2.5-7.5-5-3-3-3.5-4.5-3-5-2-7.5-1.5-7.5 0.5-7.5 1-7.5 3.5-7.5 3-5 4.5-5 5-4 5-3z" fill="#3f62ab"/>
<path d="M1302,1047l5,2 10,4 22,14 28,15 5,3 5,5 2.5,3 4,6.5 2.5,5 2,10 1,10-1,10-6,25-3,22.5-3,12.5-2,7.5-5,12.5-11,20-19,27.5-11,12.5-8.5,8-10,7.5-8,4.5-10.5,5-14,5-7.5,1.5-10,1-11,0-9-2-5-1-9.5-4.5-8-5-5-4.5-5-5.5-6-7.5-6-12.5-4-15-1-12.5 0-22.5 2-17.5 3-17.5 4.5-15 4-10 6.5-12.5 10-15 19-25 6-10 10.5-20 7-10 4.5-5 5-4 5-3 5-2 5-1 5-0.5 5,0zM1129.5,1062l7.5-1 5,1 7.5,3 7.5,6 5,7 2.5,6 1.5,8 0,7.5-0.5,5-2.5,7.5-3,5-5.5,6.5-5,3.5-4.5,2.5-5.5,1.5-5,0.5-7.5-1-8-3.5-6-5-5.5-7.5-2.5-5-1-5-1-7.5 1-7.5 2-7.5 3.5-6.5 5.5-6 4.5-3.5 5-3z" fill="#4167ad"/>
<path d="M1304.5,1051l10,4 27.5,17 22.5,12 5,3 5,5 4,5 3.5,6 2,6.5 1,5 1,7.5 0,5-1.5,10-5.5,25-2.5,20-2.5,12.5-3,10-4,10-10,17.5-20.5,30-6.5,7.5-10,10-10,7.5-8,5-10.5,5-12,4.5-13.5,3-6.5,0.5-7.5,0-10-1.5-7.5-2.5-9-4-8.5-6-5-4-8-10-3-5-4.5-10-2.5-10-2-20 0-20 2-15 2.5-15 5.5-17.5 6-15 4-6.5 7.5-12 15-19 7.5-11 13.5-24 8.5-12.5 8-7.5 5-3 5-2.5 5-1.5 5-0.5 7.5,0.5zM1132,1065l5,0 5,1 5,2 5,3.5 2.5,2.5 5,7 2.5,6 1,5 0,7.5-1,4.5-2,5.5-4,7.5-2.5,2.5-6.5,5-10,3-5,0-5-1-5-2-4-2.5-2.5-2.5-4-5-2.5-5-1.5-5-1-7.5 1.5-10 3-7.5 3.5-4.5 2.5-3 5-3 5-2.5z" fill="#436fb1"/>
<path d="M1302,1053l5,2 7.5,3 22.5,14 25,13.5 5,3.5 5,4.5 5,6.5 2.5,5 3,9.5 0.5,7.5 0,7.5-6,32.5-4,27.5-2.5,10-3.5,10-4,7.5-7,12.5-20,30-8,10-8,7.5-10,7.5-12,7.5-11.5,5-7.5,2.5-10.5,2.5-9,1-5,0-12.5-2-12-4-4.5-2.5-7.5-5-5-5-6-7-5-8.5-3-7-2.5-7.5-1.5-7.5-1-12.5 0-15 1-17.5 4-22.5 5.5-17 8.5-18 11.5-16.5 12.5-16 7-10 13-23 7.5-11 7.5-8 5-3 5-2.5 5-1.5 5-1zM1137,1069l7.5,2 7.5,5.5 5,7.5 2,5.5 0.5,7.5-1.5,7.5-2,5-1.5,3-3.5,4.5-3,2.5-5,2.5-8.5,2-8.5-2-4-2-4-3-4-5-2-5-1.5-5-0.5-5 0.5-5 1.5-6 2.5-5 2.5-3.5 2.5-2.5 5-3.5 5-1.5z" fill="#4676b5"/>
<path d="M1304.5,1056.5l5,1.5 10,5.5 21.5,13.5 18.5,10 7.5,5.5 5,5.5 3,4 2.5,5 2.5,7.5 0.5,5 0,7.5-1,10-4.5,22.5-2,20-2.5,12.5-3.5,12.5-7,15-9,15-17,25-8.5,10-8,7.5-6.5,5-12,7.5-11,5-11,3.5-10,2-7.5,1-5,0-12.5-2-12.5-4.5-8-5-4.5-3.5-6-6.5-4-5-4-7.5-3-7.5-3.5-15-1-12.5 0-12.5 1.5-17.5 4-22.5 5.5-17.5 8-16 7.5-11.5 17-22.5 7-10 13.5-23 7.5-10.5 7.5-7 7.5-4.5 5-1 5-1 5,0zM1134.5,1073l2.5,0 5,1 5,3 2.5,2.5 2.5,3.5 2,4 2,7.5-1,7.5-1.5,5-3.5,5-3,3-5,3-7.5,2-3.5-0.5-4-1.5-6-3.5-4-5-2-5-1-5 0-7.5 1.5-5 2.5-5 6.5-6 5-2z" fill="#4b7db8"/>
<path d="M1304.5,1059l10,4 21.5,14 23.5,13 5,4 5.5,5.5 4.5,7.5 2,5 1,5 0.5,7.5 0,5-5,30-2.5,22.5-2.5,12.5-2,7.5-3,7.5-5,10-15.5,25-6.5,10-8,10-7,7.5-6,5-7,5-8,5-10,5-10.5,4-12.5,2.5-7.5,0.5-10,0-8.5-2-6.5-2-9.5-5.5-9-7.5-6.5-7.5-4.5-7.5-4-10-3-12.5-0.5-7.5-0.5-20 3-25 4-17.5 4-12.5 9-17 7-10.5 20.5-27 5-7.5 12-20.5 8-10.5 7.5-6 5-3 5-2 5-0.5 5,0zM1132,1077.5l5-0.5 5,2 2.5,1.5 2.5,2.5 2.5,3 2.5,8.5 0,5-2,5-3,5-2.5,2.5-4.5,2.5-5.5,1-5.5-1-4.5-2.5-2.5-2.5-3-5-1.5-7.5 1.5-7.5 3-5.5 5-5z" fill="#5183bb"/>
<path d="M1302,1061l5,1 7.5,4 21.5,13.5 18.5,10.5 10,7 5,6 2.5,4.5 2.5,7 1,5 0.5,10-4,25-3,27.5-3,12.5-3,10-6,12.5-16,27.5-7,10-8,10-5,5-8,7.5-7.5,5-8.5,5-11.5,5-7.5,2.5-8.5,2-10,1-10.5-0.5-7-1.5-7.5-2.5-6.5-3.5-10-7.5-3.5-4-5-7-3.5-6.5-2-5-2.5-7.5-1.5-7.5-1-12.5 0-20 1.5-15 2.5-15 6.5-19 5-11 5-8.5 8-11.5 19.5-25 15-25 5-7 7.5-8 5-3 7.5-3 5-1 5,0zM1132,1082.5l5,0 5,2.5 2.5,2 2.5,6 0.5,4-1.5,5-3,5-4,2.5-4.5,1-4.5-1-4-2.5-3-5-1-5 1-5 1.5-4 2.5-3z" fill="#5588be"/>
<path d="M1302,1063l12.5,5 17.5,11 22.5,13.5 7.5,5.5 5,6 2.5,4 2.5,6.5 1,5 0.5,10-4,30-1.5,17.5-2,12.5-4,12.5-4,10-14,25-8,12.5-7.5,10-6.5,7.5-7.5,7-11.5,8-9,5-17,6-10,2-10,1-12-1.5-8-2.5-5.5-2.5-7.5-5-6-5-8-10-2.5-5-3-7.5-3-12.5-1.5-12.5 0-15 1-15 4-20 4.5-15 3-7.5 7-13.5 7.5-11 22-28 18-29 7.5-8 5-3.5 5-2.5 7.5-2 5,0zM1132,1090l2.5-0.5 2.5,0.5 2.5,2 1,2.5 0.5,2.5-1.5,3-2.5,2.5-2.5,0.5-2.5-0.5-3-3 0-2.5 0.5-4z" fill="#5a8ec1"/>
<path d="M1302,1065l5,2 7.5,3 40,25 7.5,7 5,7 2.5,5.5 1.5,7.5 0,7.5-4.5,45-3.5,20-5.5,15-3.5,7.5-16.5,27.5-5,7.5-10,12.5-11,10-7,5-8.5,5-12,5-12,3.5-10,1-12.5,0-8-2-6.5-2.5-5-2.5-10-7.5-4-5-7-10-4-10-2-10-1-12.5-0.5-12.5 1.5-22.5 4-17.5 4-12.5 3-7.5 8-14.5 9-13 18-22.5 15.5-24.5 6-8 4-4 5-4 7.5-3.5 7.5-1z" fill="#6095c4"/>
<path d="M1302,1067.5l5,1.5 7.5,3.5 35,22 10,8 2.5,3 4,6.5 2,5 1,5 0,12.5-5,47.5-3,15-4,10-3.5,7.5-17.5,30-11,15-4,5-8,7.5-7,5-8,5-8.5,4-9.5,3.5-10,2.5-10.5,1-10-1-5-1-7.5-2-5-3-9.5-6.5-4.5-5-4-5-4-7.5-3-7-3-13-1-7.5 0-20 1.5-17.5 3.5-17.5 6-17.5 5.5-10.5 5-8.5 7.5-10 16.5-21 18.5-28 5-6 7.5-6.5 7.5-3.5 5-1 5,0z" fill="#659bc8"/>
<path d="M1302,1069.5l5,1.5 10,5 32.5,21 7.5,6 5,7 2.5,4.5 2,7.5 0.5,12.5-4.5,47.5-3.5,15-6,15-6.5,12.5-13.5,22.5-11.5,15-12,11-9.5,6.5-8,4-8.5,3.5-8.5,2.5-13,2-10-0.5-8.5-1.5-11.5-5-10-7.5-4.5-5-3.5-5-6-12.5-2-7.5-1-7.5-1-10 0-15 2-17.5 3-17.5 5.5-15 5-10.5 5-8.5 9.5-13.5 18-22.5 15-22.5 5-6 5-5 5-4 5-2 7.5-1z" fill="#6ba2cb"/>
<path d="M1302,1071.5l5,1.5 10,5 30,20 7.5,6 5,6 2.5,5 2,7 1,12.5-3.5,45-3,15-1.5,5-5,12.5-10,17.5-9,15-7,10-4,5-7,7.5-6,5-7,5-9.5,5-10.5,4-5,2-12.5,2-7.5,0-10-1-6.5-2-5.5-2.5-4.5-2.5-6.5-5-8-10-4-7.5-4-10-2-12.5-0.5-25 1.5-17.5 3.5-15 5.5-15 3-7.5 5.5-9 10-14.5 17.5-21.5 12.5-19 7.5-10 7.5-7 2.5-1.5 5-2.5 7.5-1z" fill="#6ea6ce"/>
<path d="M1302,1073.5l7.5,2.5 7.5,4 30,20 7.5,7 5,8 3,9.5 0.5,12.5-2,32.5-1,12.5-2,10-2.5,7.5-4,10-13.5,25-11,17.5-6,7.5-8,7.5-9.5,7.5-8.5,5-11.5,5-6.5,2-10,2-7.5,0.5-7.5-0.5-7-1.5-7-2.5-5-2.5-4-2.5-5.5-5-7.5-10-4-7.5-2-5-3-15-0.5-20 1.5-20 3-15 3-10 3-7.5 8-15 7-10.5 21-27 19-26 7.5-7.5 7.5-4.5 7.5-1z" fill="#74add1"/>
<path d="M1302,1075.5l5,1.5 7.5,3.5 24.5,16.5 10.5,8 5,6 2.5,4 2.5,6 1.5,6 0,10-1.5,35-0.5,7.5-2.5,12.5-2.5,7.5-3,7.5-7,15-7,12.5-11.5,17.5-8.5,10-5,5-10,7-5,3-10,5-7,2.5-8,2-7.5,1-10,0-7.5-1.5-6-1.5-5-2.5-4.5-2.5-6.5-5-4-5-4-5-4.5-10-2.5-7.5-1.5-10-0.5-10 0-15 1.5-17.5 3.5-15 6-17.5 8-14 7.5-11 20.5-25 9.5-14 10-13 7.5-6 7.5-3.5 5-0.5z" fill="#7ab2d4"/>
<path d="M1302,1077l5,2 10,5 22.5,15 10,9 3.5,4 3,5 3,10 0,5 0,15-1,30-1,7.5-2.5,10-2.5,7.5-3,7.5-9,17.5-9,15-11,15-10.5,10.5-6,4.5-8.5,5-15.5,6.5-10,2.5-7.5,0.5-5,0-10-1.5-8-3-5-2.5-7-5-4.5-5-3.5-5-5-10-2.5-7.5-1.5-7.5-1-15 0-10 1.5-20 2-10 3.5-12.5 3-7.5 8-14.5 7.5-11 19.5-24.5 15-20 5.5-7 7.5-6.5 7.5-3.5 5-0.5z" fill="#81b7d7"/>
<path d="M1304.5,1080l5,2 10,5 17.5,12.5 10,8.5 5,7 2.5,4.5 2.5,7.5 1,15-1,27.5-1.5,15-2.5,10-5.5,15-6.5,12.5-13,22.5-9,12.5-9.5,9-7.5,6-7.5,4-7,3.5-10.5,3.5-12.5,2-7.5,0-10-1-10.5-4.5-4-2.5-5.5-4.5-3-3-4-5-5-10-2-7.5-2-10-1-15 0-12.5 1-12.5 2.5-12.5 4.5-15 5-10 5.5-10 11-15.5 18-22 17-22 7.5-7 7.5-3.5 7.5-1z" fill="#87bdd9"/>
<path d="M1302,1081l5,1.5 7.5,3.5 17.5,12 7.5,6 6,5.5 4,5 2.5,5 3,7.5 1,10 0,32.5-2,15-1,5-3,10-4,10-14,27.5-8,12.5-6,7.5-8.5,8-5.5,4.5-8,5-11,5-5.5,1.5-10,2.5-7.5,0.5-10-0.5-5-1-8-3-4.5-2.5-3.5-2.5-5-5-6-7.5-4-7.5-1.5-5-2.5-10-1-12.5 0-10 1-20 3-15 2.5-7.5 4-10 8-14.5 7.5-10.5 20-25 15-19.5 7.5-8 7.5-5 7.5-1.5z" fill="#8ec2dc"/>
<path d="M1302,1083l5,1 7.5,4 5,3 12.5,9 11,9.5 4,5 3,5 3,7.5 1,5 0.5,10 0,25-0.5,10-1,7.5-2,10-6,15-9,17.5-6.5,12-7,10.5-6,7.5-7.5,7.5-7,5-7.5,4.5-12.5,5.5-10,2.5-7.5,1-7.5,0-7-1-5.5-1.5-7.5-3.5-7-5-5-5-3.5-5-4-7.5-3-9.5-1.5-8-1-10 0-17.5 1.5-15 2-10 3-10 4-10 6.5-12.5 13-18 8-9.5 22-27.5 7.5-8 7.5-5 7.5-2z" fill="#92c5de"/>
<path d="M1304.5,1085l5,2 10,5.5 12.5,9.5 10,9 4.5,6 3,6 2.5,9 1,17.5 0,25-3,17.5-3,10-5.5,12.5-10.5,20-9.5,15-4,5-7.5,7.5-9.5,7.5-6,3.5-7.5,3.5-9,3-6,1.5-9,1-4.5,0-9-1-10.5-4-4-2.5-5.5-4.5-6.5-8-5-10-2.5-7.5-1.5-7.5-1-17.5 0.5-17.5 3-17.5 5.5-16.5 5-10 5-8.5 10-13.5 30-37 7.5-8 7.5-5 7.5-2 5,0z" fill="#99cae1"/>
<path d="M1304.5,1087l7.5,3 7.5,4 12.5,10 5,4 5,6 5,8 2,5 1,5 1.5,10 0.5,12.5 0,20-1,7.5-2,10-2,7.5-3,7.5-14,27.5-4.5,7.5-6,8.5-5.5,6.5-5,5-6.5,5-8,5-10,4.5-10,3-12.5,1.5-7.5-0.5-5.5-1-7-2.5-5-2.5-3.5-2.5-7.5-7.5-5-7.5-3-7.5-1.5-5-1.5-7.5-1-10 0-12.5 1-17.5 2-10.5 2.5-9 6.5-15.5 8.5-14.5 10-13.5 30-36 7.5-7 2.5-2 5-2 5-1 5,0z" fill="#9fd0e4"/>
<path d="M1302,1088l5,1 5,2.5 7.5,4.5 10,7.5 5,4.5 5,5.5 4.5,6 2,5 3,10 2,20 0,17.5-1.5,12.5-1,5-3,10-4,10-12.5,25-10,15-4,5-5.5,5.5-5,4.5-7.5,5-10,5-7,2.5-8,2-10,1-7.5-0.5-5-1-4.5-1.5-5.5-2.5-7.5-5-6.5-7.5-3-5-3.5-7.5-2.5-10-1.5-17.5 0-10 1-15 3-15 5.5-15 5-10 5-8 7.5-10 27.5-34 7.5-8 7.5-6 5-2 5-1.5z" fill="#a6d5e7"/>
<path d="M1304.5,1090l5,2 7.5,4 12.5,9.5 8.5,9 4,5 2.5,5.5 2.5,7 1,7.5 1.5,17.5 0,15-0.5,10-4,15-6,15-11,22.5-10,15-6,7.5-6,5-6.5,5-7.5,4-7.5,3.5-7.5,2.5-10,2-10,0-9-2-6-2.5-8-5-5-5-4-5-4-7.5-3-10-2-17.5 0-20 1-10 2-10 2.5-7.5 5.5-13 3.5-7 6.5-10 10-13 22.5-27 7.5-8 7.5-6 5-2.5 7.5-1.5z" fill="#acdae9"/>
<path d="M1302,1091l5,1.5 5,2.5 5,3 10,7 5,5 4,4.5 3.5,4.5 3,5.5 2.5,7.5 2,7.5 1,12.5 0.5,17.5-1,12.5-1.5,7.5-3,10-5,12.5-11,22.5-10,15-4,5-6,5.5-12.5,9-6,3-11.5,4-10,2-5,0-5,0-7.5-2-5.5-1.5-4.5-2.5-3.5-2.5-6-5-6.5-10-3-7.5-2.5-10-1-12.5-0.5-12.5 1.5-15 3-15 3.5-11 3-6.5 9.5-16 7.5-10 27.5-32.5 5-5.5 5-4.5 7.5-4 5-1z" fill="#b0dcea"/>
<path d="M1304.5,1093l7.5,3 5,3 10,8 9,10 3.5,5 3.5,7.5 1,5 2,10 1,17.5 0,10-0.5,10-2,10-2.5,7.5-8,20-5,10-7.5,12.5-7.5,10-9.5,9-4.5,3.5-8,5-13,5-9.5,2-7.5,0.5-12.5-2-10-4-7.5-6.5-4-5-3-5-4-10-2-7.5-1-10-0.5-17.5 1.5-15 3-13.5 5-14 5.5-10 4.5-7 10-13 27.5-32 7.5-7 5-3 2.5-1 7.5-2z" fill="#b6dfec"/>
<path d="M1304.5,1095l10,4 7.5,5.5 5,4.5 5,5.5 5,6.5 2.5,4.5 2.5,6.5 3,15 1,20-1,17.5-2,10-6,15-10.5,22.5-9.5,15-6,7.5-5.5,5-10.5,7.5-10.5,5-9,2.5-11,1.5-13.5-1.5-9-3.5-5-3-4-3.5-6-7.5-3.5-7.5-1.5-5-2.5-10-1-10-0.5-12.5 2-17.5 2.5-12.5 2.5-7.5 4.5-10.5 7.5-12.5 11-14.5 26.5-31 7.5-6.5 7.5-4.5 7.5-1z" fill="#bde2ee"/>
<path d="M1302,1096l5,1 5,2.5 10,6.5 5,5 5.5,6 4.5,7 2.5,5 1.5,5.5 2,10 2,17.5 0,15-3,15-6,17.5-4,10-9,17.5-8.5,12-10.5,10.5-11,7.5-11,5-5,1-6,1.5-11.5,0.5-7.5-1-5.5-2-5-2.5-6.5-5-6.5-7.5-2.5-5-3-7.5-3-15-1-12.5 0-10 1-10 3-12.5 2-7.5 3-7.5 4-8.5 5-8 10-13.5 20-23.5 10-10.5 5-4.5 5-3 7.5-2.5z" fill="#c3e5f0"/>
<path d="M1302,1097l5,2 5,2 10,7 7.5,7.5 4.5,6.5 3,5 3.5,10 1.5,7.5 1.5,12.5 0.5,10-0.5,12.5-2.5,12.5-5,15-10,22.5-9,15-6,7.5-5,5-11.5,8-7.5,4-9,3-11,2-7.5,0-7.5-1-8.5-3.5-7.5-5-6-7.5-3-5-3-7.5-3-12.5-1-10 0-17.5 1-7.5 2.5-12.5 3.5-10 2.5-6.5 7.5-13.5 10-13.5 17.5-21 12.5-13 7.5-6 2.5-1.5 5-1.5 5-1z" fill="#c9e8f2"/>
<path d="M1302,1099l5,1 5,2.5 10,7.5 5,5 5,6 2.5,4 3,7 3.5,12.5 2,20 0,10-1,7.5-2.5,12.5-4.5,12.5-4,10-10,20-7,10-4,5-5,5-7,5-6,4-8.5,3.5-6.5,2-12.5,1.5-7.5,0-5-1-6-2.5-5-2.5-4-3-8-9.5-4-10-3-10-1-15 0-10 0.5-10 3-15.5 5-14 7.5-14 12.5-17 20-23 7.5-7.5 7.5-6 7.5-3.5 5-0.5z" fill="#cfebf3"/>
<path d="M1302,1100l5,2 5,2 10,7.5 7.5,8.5 3,4.5 3.5,7.5 3.5,12.5 2.5,22.5-1,15-2.5,12.5-6.5,17.5-6.5,15-4,7.5-8.5,12.5-9.5,10-3,2.5-8,5-11.5,5-14,2.5-9,0-6-1-7.5-3-8-6-6-7.5-4.5-10-3-12.5-1.5-15 0.5-13.5 1-9 1.5-7.5 5-15 7.5-14.5 10-14 15-17.5 12.5-14 10-8 7.5-3 5-1z" fill="#d4edf4"/>
<path d="M1304.5,1102l5,2 5,3 7.5,6 7.5,9 4,7.5 2,5 2.5,10 1.5,7.5 1.5,17.5-1,12.5-3,15-7,17.5-11,22.5-9,12.5-7.5,7.5-10.5,7-6.5,3-7.5,2.5-11,1.5-5,0-10-1-7-3-3-2-6.5-5.5-3.5-4.5-3-5.5-4-10-2-10-0.5-7.5 0-15 1.5-12.5 3.5-15 4.5-11.5 5-9 5-7.5 10-13 17.5-19.5 7.5-8 10-7 7.5-2.5 2.5-0.5z" fill="#daf0f6"/>
<path d="M1304.5,1104l5,2 5,3 7.5,6 7.5,10 2.5,4 2.5,6.5 3,11.5 2,17.5-0.5,17.5-3,15-8,20-7,15-8,12.5-4,5-5,5-10,7.5-7,3.5-7.5,2.5-12.5,2.5-7.5-0.5-7.5-1-9-4.5-3.5-2.5-5-5-3.5-5-2-5-3.5-10-1-5-1.5-12.5 0-12.5 2-15 3-12.5 7-15 9.5-15.5 17.5-21 12.5-13 5-4.5 5-3.5 7.5-3.5 7.5-0.5z" fill="#e0f3f8"/>
<path d="M1302,1104.5l7.5,2.5 5,3 7.5,7 2.5,3 5,7 4.5,10 3,12.5 1.5,17.5 0,7.5-1,10-2.5,12.5-10,25-6,12.5-6.5,10-8,8.5-4.5,4-7.5,5-11.5,5-12.5,2.5-7.5,0-6.5-1-7.5-2.5-9-6.5-6-7.5-4-10-3-12.5-1-10 0.5-18 1.5-9.5 1.5-7.5 4.5-12.5 6.5-12.5 3.5-5 10-13.5 15-17 7.5-7.5 10-8.5 7.5-3 5-1z" fill="#e4f4f1"/>
<path d="M1307,1107.5l10,6.5 7.5,8 6,10 2.5,7.5 3,12.5 1,7.5 0.5,15-1,10-3.5,15-7.5,20-8.5,17.5-7.5,10-7.5,7.5-11,7.5-5.5,2.5-8.5,2.5-5,1-7.5,1-5-0.5-7.5-1.5-5-2.5-4-2.5-6-5-3.5-5-2.5-5-4-10-1-7.5-1-7.5 0-15 1.5-15 4.5-15 5.5-12.5 4.5-7.5 6-8.5 12.5-15 15-15.5 5-5 5-3 5-3 7.5-1.5 5,0.5z" fill="#e7f6eb"/>
<path d="M1304.5,1108l7.5,4 5,3.5 4,4 5.5,7.5 3.5,7.5 3,7.5 2,12.5 1.5,17.5-1,12.5-2,10-2.5,7.5-7.5,20-4.5,10-6.5,10-5.5,7-5,4.5-4.5,3.5-8.5,5-5.5,2.5-6.5,2-7.5,1.5-7.5,0-6-1-4-1-7.5-4-2.5-2-5-5-2.5-3-2.5-5-4.5-12.5-1.5-12.5-0.5-15 1.5-13 2.5-11 5.5-13.5 7-12.5 10-13.5 15-17 13-12 4.5-3.5 5-2.5 7.5-1.5z" fill="#eaf7e6"/>
<path d="M1302,1109l5,1.5 5,2.5 5,4 4.5,5 5,7.5 3,6.5 2,6 3,15 1,15-1,12.5-2,10-3,10-6.5,17.5-6.5,12.5-6.5,10-5,5-5,5-7.5,5-5.5,2.5-7.5,3-11.5,2-5,0-6-1-5-1-5-2.5-5-3.5-4.5-4.5-4.5-7.5-4-10-2.5-15-0.5-15 1-10 2-10 2.5-7.5 5.5-12.5 7.5-12.5 12.5-15.5 10-11 10-10 5-4 5-3 7.5-2.5z" fill="#edf8df"/>
<path d="M1302,1110l5,2 5,3 7.5,6.5 5,7 2.5,4.5 4,11.5 3,15 0,17.5-0.5,7.5-2,10-3.5,12.5-5,12.5-7,15-5,7.5-4,5-5,5-11,7.5-5,2.5-7.5,2.5-11.5,1.5-7.5,0-5.5-1.5-4.5-1.5-5-3-5.5-5.5-2-2.5-4.5-7.5-3.5-10-1-5-1-12.5 0-10 2-15 3-12 6-13 6-10 5.5-8 17.5-20 10-10 7.5-5 7.5-3.5 5-0.5z" fill="#f1fad9"/>
<path d="M1302,1111.5l5,1.5 5,3 6,6 6,7.5 3,6.5 2.5,7.5 2.5,11 1,12.5 0,10-0.5,7.5-3.5,15-7,20.5-6,12-6,10-8,9-8,6-10,5-9,2.5-5.5,0.5-7.5,0-4.5-0.5-7.5-2.5-7.5-5-6.5-7.5-4.5-10-2.5-12.5-1-10 0-10 1.5-15 2.5-9.5 5-12.5 7.5-13 9.5-12.5 13-14.5 10-9.5 7.5-5.5 7.5-3 5-1z" fill="#f5fbd2"/>
<path d="M1304.5,1114l7.5,4 7.5,7 5.5,9.5 4.5,13.5 1.5,9 1,10 0,10-0.5,7.5-2.5,12.5-3,10-7,17.5-3.5,7.5-6.5,10-4,5-5.5,5-7,5-4.5,2.5-11,3.5-8.5,1.5-4.5,0-9.5-1.5-7-3.5-6.5-5-5-7.5-3.5-7.5-1.5-5-1.5-7.5-1-10 0-10 1.5-15 4-12.5 7-15 8.5-13 12.5-14.5 12.5-13 7.5-6 7.5-4 7.5-1.5 2.5,0z" fill="#f8fccb"/>
<path d="M1304.5,1115l2.5,1 7.5,5.5 5,5.5 4.5,7.5 4,12.5 2.5,12.5 0.5,17.5-2,15-5,17.5-5.5,15-6.5,12.5-6,7.5-7.5,7.5-7.5,5-5,2.5-9,3-10,1.5-5-0.5-7-1.5-6-2.5-3.5-2.5-5.5-5-3-5-3-5-2-7.5-2-7.5-1-10 0-10 1.5-12.5 4-15 5.5-12.5 9.5-14 7.5-9.5 15-16 7.5-6.5 7.5-5 2.5-1 7.5-1z" fill="#fcfec5"/>
<path d="M1302,1116l2.5,0.5 7.5,4.5 5,5 5.5,8.5 4.5,12.5 2.5,12.5 0.5,17.5-1,12.5-2.5,10-4.5,15-5.5,12.5-5.5,10-8,10-9,7.5-7,3.5-5,2-6.5,2-6,1-11-1-9-3.5-2.5-1.5-5.5-5-2-2.5-4.5-7.5-3-10-2-15 0-10 1-12.5 3.5-12.5 5.5-12.5 7-12 12.5-15.5 12.5-13 7.5-7 7.5-4.5 7.5-2.5z" fill="#feffc0"/>
<path d="M1304.5,1118l5,3 5,4 5,6.5 4,8 3.5,12 2,13 0,12.5-1,10-2,10-4,15-4,10-6,12.5-5.5,7.5-4.5,5-6,5-8,5-8.5,3-9.5,2-6,0-7-1-7.5-3.5-6.5-5.5-5.5-7.5-4-10-1.5-5-1-12.5 0-12.5 1-10 2.5-10.5 4.5-12 8-13 12.5-16 12.5-13 7.5-6.5 7.5-4.5 7.5-2.5 2.5,0z" fill="#fffcba"/>
<path d="M1302,1118.5l7.5,3.5 5,5 2.5,3 5,9.5 3.5,10 1.5,7.5 1,12.5 0,7.5-1,10-2,10-4,15-4,10-6,12.5-7.5,10-8.5,7.5-10.5,6-5,1.5-7.5,1.5-5,0-11-1.5-5.5-2.5-3.5-2.5-5-5-6-10-2-7.5-2-7.5-0.5-7.5 0-12.5 0.5-7.5 2-7.5 2-7.5 6-14 7.5-11.5 7.5-9.5 12.5-13.5 10-8.5 10-6 7.5-1z" fill="#fff8b5"/>
<path d="M1304.5,1121l5,3 2.5,2 5,6 2.5,4 2.5,6 2.5,8 1.5,9.5 1,10 0,7.5-1,10-3.5,17.5-4,12.5-5.5,12.5-6,10-7,7.5-6,5-9.5,5-8.5,2.5-11.5,0.5-5.5-0.5-4.5-1.5-7.5-4.5-6-6.5-4-7.5-2.5-7.5-1.5-7.5-1-15 1-12.5 1.5-7.5 2.5-8.5 5-11 7.5-12 10-13 15-15 7.5-6 7.5-4 5-1 5,0z" fill="#fff5af"/>
<path d="M1302,1121l2.5,1 5,3.5 5,5 2.5,3.5 5,10.5 2.5,10.5 1.5,14.5 0,7.5-1,12.5-2,10-3,10-6.5,17.5-5.5,10-6,7-6,5.5-8,5-5.5,2.5-8,2-10,0.5-10-2.5-5-3-2.5-2-5-5-3-5-4-10-1-7.5-1-15 1-12.5 3-14 6-13.5 6.5-10.5 10-12.5 12.5-13 10-8 7-3.5 5.5-1.5z" fill="#fff1aa"/>
<path d="M1304.5,1124l5,3 5,5.5 2.5,4 2.5,5.5 2.5,7 2,10.5 1,12.5 0,12.5-3.5,17.5-3.5,12.5-5,12.5-6,10-6,7.5-6,5-8.5,5-6.5,2.5-5.5,1-7.5,1-5-1-5-1-5.5-2.5-3.5-2.5-5-5-4-7.5-3.5-10-2-15 0-7.5 1-10 1.5-7.5 2-7.5 6-12.5 5.5-9.5 7.5-9.5 12.5-13.5 7.5-7 10-6 7.5-2 5,0z" fill="#feefa6"/>
<path d="M1304.5,1125l5,4 5,6 5,10 3.5,12 1,10 0,15-3,17.5-4,15-5,12.5-4,7.5-4,5-4,5-6,5-7,4-10,3.5-7.5,1-9.5-1-6.5-2.5-4-2.5-2.5-2.5-4.5-5-4.5-10-3-10-1-10 0.5-12.5 2.5-14 5-13.5 7-12.5 10.5-13 12.5-13 7.5-6.5 10-5.5 5-1 5,0.5z" fill="#feeba1"/>
<path d="M1299.5,1125l2.5,0.5 5,3 2.5,2 5,6.5 3.5,7.5 4,14.5 1,13-1,17.5-2,12.5-4,12.5-5,12.5-4,7.5-6,7.5-5,5-9,6-10,3-4.5,1-8,0-5-1-8.5-4-5.5-5-3.5-5-4-10-2-7.5-1-10 0-10 1-10 2-7.5 4-11 5-9 7.5-11 12.5-14 7.5-7 7.5-6 10-4z" fill="#fee79b"/>
<path d="M1302,1127l2.5,1 5,4 5,7 3.5,8 3,12.5 1,7.5 0,12.5-1.5,15-1.5,7.5-3.5,12.5-5,12.5-4.5,7.5-6,7.5-8,7-7.5,4-7.5,2.5-5,0.5-5,0-5,0-4-1.5-5-2.5-4-2.5-4.5-5.5-4-7-3.5-10-1-12.5 0-10 1-10 2.5-10 5-11.5 6.5-11 11-14 7.5-7.5 10-8.5 5-3 7.5-3 5,0z" fill="#fee496"/>
<path d="M1302,1128.5l5,3.5 5,5 5,10 3,12.5 1,12.5 0,7.5-1.5,15.5-4.5,19.5-5,12.5-4.5,7.5-6,7.5-5.5,5-9,5-7,2.5-6,1-5,0-6-1-6.5-2.5-5-3.5-3.5-4-5-7.5-2-7.5-2-9.5-1-10.5 1-12.5 3-12.5 3-7.5 6.5-11.5 10-13.5 12.5-13 5-4 7.5-5 7.5-2.5 5-0.5z" fill="#fee090"/>
<path d="M1302,1130l6,4.5 5,7.5 4,10 2.5,12 0.5,8-0.5,17.5-2.5,15-3,10-4,10-4,7.5-7.5,10-6,5-8,4.5-10.5,3-7,0.5-7.5-2-7.5-3.5-5-5-3.5-5-4-10-1.5-7.5-1-15 1-10 3-12.5 5.5-12.5 8-12 12.5-15 7.5-7 7.5-5 7.5-4 5-0.5z" fill="#feda8a"/>
<path d="M1297,1130l5,2 5,3 2.5,3 3.5,6.5 4,11 1,6.5 1,10 0,7.5-1,12.5-3,17.5-3.5,10-4.5,10-5,7.5-7,7.5-8,5-7.5,3-10,1.5-7.5-1-5-2-6.5-4-4.5-5-4-7.5-2.5-8.5-1.5-9 0-5 1-15 1-7.5 4-10 5-10 5.5-8.5 10-12 10-9.5 10-7 5-2z" fill="#fed687"/>
<path d="M1297,1131.5l5,1.5 5,4 2.5,3 2.5,4.5 2.5,6.5 1.5,6 2,15 0,10-1,12.5-3,15-5,15-4,7.5-6,7.5-4.5,4.5-7.5,5-8.5,3-6.5,1-5,0-6-1-5.5-2.5-6.5-5-3.5-5-3.5-7.5-3-12.5-0.5-7.5 0.5-12.5 2-10 3.5-10 5-9.5 5-8 10-12 10-9 10-7 7.5-2.5z" fill="#fed081"/>
<path d="M1297,1133l5,2 5,4.5 2.5,3 2.5,5 2.5,7 2,10 0.5,7.5 0,10-0.5,10-3.5,17.5-2,7.5-4,10-7,10-7.5,7.5-3.5,2.5-9.5,4-7.5,1-5,0-5-1-5-1.5-4-2.5-2.5-2.5-4-5-3.5-7.5-2-5-2-12.5 0-10 3-15 3-10 4-7.5 5.5-8.5 9.5-11.5 8-8 10-7.5 7.5-3.5 2.5,0z" fill="#feca7c"/>
<path d="M1297,1134.5l5,2 2.5,2 5,6.5 3,7 2.5,10 1,7.5 0,15-1.5,15-4.5,17.5-3,7.5-5,9-5,6-6,5-9,5-7.5,1.5-5,0.5-5-0.5-5-1.5-5-2.5-2.5-2.5-4.5-5-2.5-5-3-7.5-2-12.5 0-10 1-10 3-10 4.5-10 6-9.5 5-7 12.5-13 7.5-6 7.5-4 7.5-1z" fill="#fdc576"/>
<path d="M1297,1136l5,2 2.5,2.5 2.5,3 2.5,4.5 2.5,6 2.5,12 0.5,8.5 0,15-1,10-4.5,17.5-4.5,10-4.5,7.5-6,6.5-4.5,3.5-5.5,3-7.5,2.5-10,0.5-5-1-5.5-2.5-3.5-2.5-4.5-5-4-7.5-2.5-7.5-1-10 0-10 0.5-7.5 2.5-10 4-10 4-7.5 7.5-10 10-10.5 10-8.5 5-2.5 7.5-2.5z" fill="#fdbf71"/>
<path d="M1297,1137.5l5,2.5 2.5,2.5 2.5,3.5 3,6 3,12.5 1,10 0,12.5-1.5,15-3.5,15-3,7.5-4.5,7.5-7,8-5.5,4.5-5,2.5-8.5,2.5-9.5,0-4-1-7.5-4-5-5.5-3-4.5-3.5-10-1-5-1-12.5 1-10 2.5-9 2-6 5.5-11 7.5-10 10-11 5-4.5 10-6.5 5-2 5,0z" fill="#fdbb6d"/>
<path d="M1294.5,1138.5l5,1.5 2.5,2 2.5,3 4.5,7 1.5,5 1.5,7 1,10.5 0,17.5-2,12.5-3,12.5-4,10-5,7.5-7,6.5-5,3.5-7.5,3.5-7.5,1-7.5-1-5-1.5-6.5-4.5-4-5-4-7.5-2-10-1-10 1-12.5 1-5 3-9 5-10 5-8 7.5-9 10-9 7-5 8-3z" fill="#fdb567"/>
<path d="M1294.5,1140l5,2 2.5,2 2.5,3 2.5,4 2,6 2,7.5 1,10 0,15-1.5,15-1.5,7.5-5,12.5-2.5,5-4.5,6-7.5,6.5-3.5,2.5-6.5,2.5-5,1-5,0-6.5-1-3.5-1.5-5.5-3.5-4-5-4-7.5-2-7.5-1-10 0-10 2-10 2-7 5-11 5-7 7.5-9.5 7.5-7.5 10-7 5-2 5-1z" fill="#fdaf62"/>
<path d="M1294.5,1142l5,2 5,5.5 2.5,5 2.5,8.5 1.5,9 0.5,12.5-0.5,12.5-3,15-1.5,5-4.5,10-3,5-7,7.5-8,5-7,2.5-7.5,0-5-0.5-5-2-3.5-2.5-5-5-4-7.5-2.5-9.5-1-8 0.5-10 1.5-10 4-11 3.5-6.5 4-6.5 7.5-9 7.5-7.5 10-7.5 5-2 5-0.5z" fill="#fca85e"/>
<path d="M1294.5,1143.5l5,2.5 3.5,3.5 2.5,5 2,5 1.5,5 1,12.5 0.5,10-1.5,15-2,10-1,5-5,10-5,7.5-5,5-4,2.5-7.5,3-7.5,1.5-7.5-1-3-1-4.5-2.5-3-2.5-5-7.5-2-5-2-10-1-5 0-7.5 2-12.5 2-5 4-10 7-10 5.5-7 7.5-7 5-4 7.5-4.5 7.5-1.5z" fill="#fba05b"/>
<path d="M1294.5,1145l2.5,1 2.5,2 2.5,3 2,3.5 3,8 2,9.5 0.5,10-0.5,12.5-0.5,7.5-3.5,15-2,5-4,7.5-4,5-5.5,5-5,3-5,2-5,1-5,0-5.5-1-5-2.5-6-5-3-5-3-7.5-1.5-7.5-0.5-12.5 0.5-5 2.5-10 4-10 5-8.5 5-6.5 7.5-8.5 5-4 7.5-5 7.5-2z" fill="#fa9b58"/>
<path d="M1294.5,1147l2.5,1 2.5,2.5 3,4 2,4.5 2.5,9 1,9 0.5,15-0.5,7.5-2,12.5-2,5-4,10-4,5-4.5,5-7.5,5-7,2-5,1-5-1-6-2-4-2.5-4.5-5-3.5-7.5-2-5-1-10 0-12.5 2.5-10 3-7.5 4-7.5 6.5-9 5-5.5 7.5-7 7.5-4.5 7.5-2.5z" fill="#f99355"/>
<path d="M1292,1148l5,2.5 2.5,2.5 2.5,4 3,7.5 1.5,7.5 1,10 0,12.5-1,10-2.5,10-2.5,7.5-4.5,7.5-7,7.5-5.5,4-5,2-5,1-7.5-1-4-1-4.5-2.5-2.5-2.5-4-5-2.5-5.5-1.5-4.5-1.5-10 0-7.5 1.5-10 2-7.5 4.5-9 5.5-8.5 4.5-5.5 7.5-7 7.5-6 7.5-3z" fill="#f88c51"/>
<path d="M1292,1150l5,3 2.5,2.5 2.5,4 2.5,8.5 1.5,6.5 1,12.5-0.5,10-1.5,10-1.5,7.5-1.5,5-4,7.5-3.5,5-5.5,5-7,4-5,1.5-5,0.5-6.5-1-5.5-2.5-3-2.5-4-5-2.5-5-2.5-7.5-1-7.5 0.5-10 2-10 2.5-7.5 5-9.5 5-7 7.5-8 5-4 7.5-4.5 5-1.5z" fill="#f7844e"/>
<path d="M1292,1152l2.5,1 1.5,1.5 3.5,4 2.5,6 2.5,9.5 1,8 0.5,12.5-2,15-3,10-2.5,5-4,6-3.5,4-6.5,4.5-5,2-4.5,1-8-0.5-5-2-6-5-3-5-2.5-5-2.5-10 0-5 0-7.5 1.5-7.5 2.5-7.5 5-10 5-7 5-6 7.5-6.5 7.5-4.5 5-1.5z" fill="#f67c4a"/>
<path d="M1292,1154l2.5,1 2.5,3 2.5,3.5 3.5,10.5 1.5,10 0.5,15-1,7.5-2,9.5-4,10.5-3.5,5-4.5,5-8.5,5-4.5,1.5-7.5,0-2.5-0.5-5-2.5-5-3.5-3-5-2.5-5-2-7.5-0.5-7.5 0-7.5 2-10 3.5-9 5-8.5 10-11.5 7.5-6 5-2.5 5-1.5z" fill="#f57547"/>
<path d="M1292,1156l2.5,2 2.5,2.5 3,6.5 2,7.5 2,12.5 0,7.5-1,10-1,7.5-2,5-3,7.5-3.5,5-5,5-3.5,2.5-6.5,2.5-4,0.5-7.5-0.5-5-2.5-3-2.5-4-5-3-5-2-7.5-0.5-7.5 0.5-10 1-5 3.5-9.5 2.5-5 7.5-10.5 7.5-7.5 7.5-5 7.5-2z" fill="#f47044"/>
<path d="M1289.5,1157l2.5,1 2.5,2 2.5,4 2.5,5 2.5,10.5 1,12.5 0,5-2,15-1.5,5-3.5,7.5-3.5,5-3,3-5,3.5-5,2-5,1-5,0-5.5-2-4-2.5-4-5-3-5-1-5-1.5-7.5 0-7.5 1.5-10 1.5-5 3.5-7.5 5-7.5 5-6.5 7.5-6 5-3 5-2z" fill="#f26841"/>
<path d="M1289.5,1159.5l2.5,1.5 2.5,2 2.5,4 2,5 2,7.5 1,10 0,10-1,10-1.5,5-4.5,10-4,5-4,4-6.5,3.5-3.5,1-7.5,0-3.5-1-4-2-5-5.5-3-5-1.5-5-1.5-7.5 0-7.5 1-7.5 2.5-7.5 2.5-5.5 2.5-5 7.5-9 7.5-7 5-2.5 5-1.5z" fill="#ee613e"/>
<path d="M1287,1161l5,2 2.5,3 2.5,5 2,6 2,10 0,12.5-2,12.5-2,7.5-2.5,4.5-4.5,5.5-2.5,2.5-3.5,2.5-7,2.5-7.5,0-6-2.5-3.5-2.5-3.5-5-2.5-5-1.5-7.5-0.5-5 0-7.5 2-7.5 3-8.5 2.5-5 7.5-10 5-4 5-4 5-2 2.5,0z" fill="#eb5a3a"/>
<path d="M1287,1163l2.5,1 2.5,2 2.5,3 2.5,6 1,4.5 1.5,7 0.5,10.5-1,12.5-1,5-2,5-4,6.5-3,3.5-4.5,3.5-5,2-5,1-5,0-4-1.5-3.5-2.5-6-7.5-2-7.5-1-5 0-7.5 1-7.5 2-7.5 4-7.5 7-9 5-5 7.5-4 2.5-1z" fill="#e75337"/>
<path d="M1284.5,1165l2.5,0 2.5,1.5 2.5,2.5 2.5,4 1.5,4 2.5,10 0.5,7.5-0.5,12.5-1.5,7-2.5,6-2.5,4.5-4,5-3.5,2.5-5.5,2.5-7,0.5-5-1-3.5-2-2.5-2.5-5-7.5-1-5-1-7.5 0-5 0.5-5.5 2.5-9.5 2.5-4.5 5-8 5-5 5-4 5-2.5z" fill="#e54e35"/>
<path d="M1284.5,1167l5,2 2.5,3 3,5 1,5 2,7.5 0,7.5-1,12.5-3,10-3,5-5,5-3.5,2.5-3,1-5,1-5-0.5-4-1.5-3.5-2.5-5-7.5-2-10-0.5-5 0.5-7.5 3-10 4-7 5-6.5 7.5-6 7.5-3z" fill="#e24731"/>
<path d="M1284.5,1169l2.5,1 3,2 2,3 3,7 1.5,7.5 0.5,7.5 0,5-1,10-3,7.5-3,5-5,5-5,2.5-3,1-5,0-2.5-0.5-5.5-3-2.5-2.5-1.5-2.5-2.5-5-2-10 1.5-12.5 2.5-8 2.5-4.5 5-6.5 7.5-6.5 5-2.5 2.5,0z" fill="#de402e"/>
<path d="M1284.5,1171l2.5,1 2.5,2.5 3,5 1.5,5 2,12.5 0,5-1,10-3,7.5-2.5,3.5-3.5,4-3,2.5-3.5,1.5-5,1-5-1-3.5-1.5-3-2.5-2-2.5-2.5-5-2-10 0-5 1.5-7.5 4-10.5 3-4.5 4.5-5 7.5-5 2.5-1z" fill="#db382b"/>
<path d="M1282,1173l2.5,0.5 2.5,1.5 2.5,3 2.5,4 3,12.5 0,7.5-1,10-2,5-3,5-2,2.5-2.5,2.5-4.5,2.5-3,1-5,0-5-1.5-2.5-2-3.5-5-2-5-1-5 0-10 1-5 1.5-5 4-7.5 2.5-3.5 7.5-6 2.5-1z" fill="#d83128"/>
<path d="M1282,1175l2.5,1 2.5,2 2.5,3 2.5,5.5 2,10.5 0,10-2,7.5-4,7.5-2,2.5-3.5,2.5-3,1.5-4.5,1-3-0.5-5-2-3-2.5-2-2.5-2-5-1-5 0-10 3-11 5-8 5-4.5 5-2.5z" fill="#d22b27"/>
<path d="M1282,1177.5l2.5,1 2.5,2.5 3.5,6 1.5,5 1,7.5 0,5-1,5-2,7.5-3.5,5-2.5,2.5-4.5,2.5-5,1-5.5-1-3-2.5-2.5-2.5-1.5-3-2.5-9.5 0.5-7.5 2-8 5-9 2.5-2.5 5-3.5 5-2z" fill="#ce2827"/>
<path d="M1279.5,1179.5l2.5,0.5 2.5,1 2.5,3 2.5,4.5 1.5,6 1,5-0.5,7.5-2,8-2.5,4.5-2,2.5-3,2.5-2.5,1.5-5,1-5-1.5-2.5-1.5-3.5-4.5-2.5-7.5 0-10 1-4 2-6 3-4.5 2.5-3 3.5-2.5 4-2z" fill="#c82227"/>
<path d="M1279.5,1182l5,2 2.5,3 3,10 0,10-1,5-3.5,7.5-2.5,2.5-3.5,2-5,1-5-1-2.5-2-3-5-2-5 0-8 1-4.5 1.5-5 5-7.5 5-4 2.5-1z" fill="#c21c27"/>
<path d="M1279.5,1184l2.5,1 2,2 3,4 2,6 0,5 0,5-2,7.5-3.5,5-4,3-5,1-4.5-1.5-3-2.5-3-5-1-5 0.5-7.5 2.5-7.5 3-5 3-2.5 2.5-2z" fill="#bd1726"/>
<path d="M1279.5,1187l2.5,1 2.5,3 2.5,6 1,5-1,7.5-2,5-1,2.5-3,2.5-4,2-2.5,0.5-5.5-2.5-3-5-1.5-7.5 0.5-5 3-7.5 4-5.5 2.5-1 2.5-1z" fill="#b71126"/>
<path d="M1277,1190l2.5,0 2.5,1.5 2,3 2,7.5 0,5-1,5-3.5,5-4.5,2.5-3,0-4.5-2.5-1.5-2.5-2-5 0-5 1-4 2.5-5.5 2.5-3z" fill="#b30d26"/>
<path d="M1277,1193l2.5,0 2.5,2.5 2,6.5 0,5-1.5,5-1.5,2.5-4,2.5-3,0-2-1-3-4-1-2.5 0-5 1.5-5.5 2.5-3.5 2.5-2z" fill="#ad0826"/>
<path d="M1277,1197l2.5,1 2.5,4 0,5-2,5-3,2-2.5,0-2.5-2-1-2.5-0.5-5 1.5-4.5 2.5-2.5z" fill="#a70226"/>
</g>
<circle cx="1134.7" cy="1096.3" r="5" fill="#000" fill-opacity="0.55" stroke="#000" stroke-opacity="0.85" stroke-width="1.2"/>
<circle cx="1291.4" cy="1084.6" r="5" fill="#000" fill-opacity="0.55" stroke="#000" stroke-opacity="0.85" stroke-width="1.2"/>
<circle cx="1355" cy="1118.4" r="5" fill="#000" fill-opacity="0.55" stroke="#000" stroke-opacity="0.85" stroke-width="1.2"/>
<circle cx="1304.8" cy="1123.1" r="5" fill="#000" fill-opacity="0.55" stroke="#000" stroke-opacity="0.85" stroke-width="1.2"/>
<circle cx="1297.1" cy="1141.2" r="5" fill="#000" fill-opacity="0.55" stroke="#000" stroke-opacity="0.85" stroke-width="1.2"/>
<circle cx="1286.3" cy="1146.5" r="5" fill="#000" fill-opacity="0.55" stroke="#000" stroke-opacity="0.85" stroke-width="1.2"/>
<circle cx="1252.9" cy="1158.9" r="5" fill="#000" fill-opacity="0.55" stroke="#000" stroke-opacity="0.85" stroke-width="1.2"/>
<circle cx="1282" cy="1167.9" r="5" fill="#000" fill-opacity="0.55" stroke="#000" stroke-opacity="0.85" stroke-width="1.2"/>
<circle cx="1324.8" cy="1170" r="5" fill="#000" fill-opacity="0.55" stroke="#000" stroke-opacity="0.85" stroke-width="1.2"/>
<circle cx="1334.9" cy="1190.7" r="5" fill="#000" fill-opacity="0.55" stroke="#000" stroke-opacity="0.85" stroke-width="1.2"/>
<circle cx="1282" cy="1192.4" r="5" fill="#000" fill-opacity="0.55" stroke="#000" stroke-opacity="0.85" stroke-width="1.2"/>
<circle cx="1237.8" cy="1197.7" r="5" fill="#000" fill-opacity="0.55" stroke="#000" stroke-opacity="0.85" stroke-width="1.2"/>
<circle cx="1252.9" cy="1194.7" r="5" fill="#000" fill-opacity="0.55" stroke="#000" stroke-opacity="0.85" stroke-width="1.2"/>
<circle cx="1279.7" cy="1207.1" r="5" fill="#000" fill-opacity="0.55" stroke="#000" stroke-opacity="0.85" stroke-width="1.2"/>
<circle cx="1274.6" cy="1220.2" r="5" fill="#000" fill-opacity="0.55" stroke="#000" stroke-opacity="0.85" stroke-width="1.2"/>
<circle cx="1298.7" cy="1221.8" r="5" fill="#000" fill-opacity="0.55" stroke="#000" stroke-opacity="0.85" stroke-width="1.2"/>
<circle cx="1268.6" cy="1236.2" r="5" fill="#000" fill-opacity="0.55" stroke="#000" stroke-opacity="0.85" stroke-width="1.2"/>
<circle cx="1294.7" cy="1237.9" r="5" fill="#000" fill-opacity="0.55" stroke="#000" stroke-opacity="0.85" stroke-width="1.2"/>
<circle cx="1231.1" cy="1246.3" r="5" fill="#000" fill-opacity="0.55" stroke="#000" stroke-opacity="0.85" stroke-width="1.2"/>
<circle cx="1256.2" cy="1260.3" r="5" fill="#000" fill-opacity="0.55" stroke="#000" stroke-opacity="0.85" stroke-width="1.2"/>
<rect x="1052" y="991.9" width="385.6" height="360.5" fill="none" stroke="#111" stroke-width="1.3"/>
<line x1="1077.1" y1="1352.4" x2="1077.1" y2="1357.4" stroke="#262626" stroke-width="1.1"/>
<text x="1072.6" y="1373.6" font-size="16.4" fill="#1a1a1a" textLength="9" lengthAdjust="spacingAndGlyphs">0</text>
<line x1="1130.8" y1="1352.4" x2="1130.8" y2="1357.4" stroke="#262626" stroke-width="1.1"/>
<text x="1116.3" y="1373.6" font-size="16.4" fill="#1a1a1a" textLength="28.8" lengthAdjust="spacingAndGlyphs">200</text>
<line x1="1184.6" y1="1352.4" x2="1184.6" y2="1357.4" stroke="#262626" stroke-width="1.1"/>
<text x="1170.4" y="1373.6" font-size="16.4" fill="#1a1a1a" textLength="28.7" lengthAdjust="spacingAndGlyphs">400</text>
<line x1="1238.3" y1="1352.4" x2="1238.3" y2="1357.4" stroke="#262626" stroke-width="1.1"/>
<text x="1223.8" y="1373.6" font-size="16.4" fill="#1a1a1a" textLength="28.9" lengthAdjust="spacingAndGlyphs">600</text>
<line x1="1292" y1="1352.4" x2="1292" y2="1357.4" stroke="#262626" stroke-width="1.1"/>
<text x="1277.6" y="1373.6" font-size="16.4" fill="#1a1a1a" textLength="28.7" lengthAdjust="spacingAndGlyphs">800</text>
<line x1="1345.8" y1="1352.4" x2="1345.8" y2="1357.4" stroke="#262626" stroke-width="1.1"/>
<text x="1326.2" y="1373.6" font-size="16.4" fill="#1a1a1a" textLength="38.5" lengthAdjust="spacingAndGlyphs">1000</text>
<line x1="1399.5" y1="1352.4" x2="1399.5" y2="1357.4" stroke="#262626" stroke-width="1.1"/>
<text x="1379.9" y="1373.6" font-size="16.4" fill="#1a1a1a" textLength="38.5" lengthAdjust="spacingAndGlyphs">1200</text>
<line x1="1047" y1="1313.7" x2="1052" y2="1313.7" stroke="#262626" stroke-width="1.1"/>
<text x="999.9" y="1319.5" font-size="16.4" fill="#1a1a1a" textLength="41.3" lengthAdjust="spacingAndGlyphs">−100</text>
<line x1="1047" y1="1267.7" x2="1052" y2="1267.7" stroke="#262626" stroke-width="1.1"/>
<text x="1032" y="1273.5" font-size="16.4" fill="#1a1a1a" textLength="9" lengthAdjust="spacingAndGlyphs">0</text>
<line x1="1047" y1="1221.7" x2="1052" y2="1221.7" stroke="#262626" stroke-width="1.1"/>
<text x="1012.4" y="1227.5" font-size="16.4" fill="#1a1a1a" textLength="28.7" lengthAdjust="spacingAndGlyphs">100</text>
<line x1="1047" y1="1175.7" x2="1052" y2="1175.7" stroke="#262626" stroke-width="1.1"/>
<text x="1012.3" y="1181.5" font-size="16.4" fill="#1a1a1a" textLength="28.8" lengthAdjust="spacingAndGlyphs">200</text>
<line x1="1047" y1="1129.7" x2="1052" y2="1129.7" stroke="#262626" stroke-width="1.1"/>
<text x="1012.6" y="1135.5" font-size="16.4" fill="#1a1a1a" textLength="28.5" lengthAdjust="spacingAndGlyphs">300</text>
<line x1="1047" y1="1083.7" x2="1052" y2="1083.7" stroke="#262626" stroke-width="1.1"/>
<text x="1012.4" y="1089.5" font-size="16.4" fill="#1a1a1a" textLength="28.7" lengthAdjust="spacingAndGlyphs">400</text>
<line x1="1047" y1="1037.7" x2="1052" y2="1037.7" stroke="#262626" stroke-width="1.1"/>
<text x="1012.5" y="1043.5" font-size="16.4" fill="#1a1a1a" textLength="28.5" lengthAdjust="spacingAndGlyphs">500</text>
<text x="1191.8" y="1400" font-size="21.2" fill="#1a1a1a" textLength="106.5" lengthAdjust="spacingAndGlyphs">HGRY + M</text>
<text x="994" y="1229.4" font-size="22.2" fill="#1a1a1a" textLength="111.2" lengthAdjust="spacingAndGlyphs" transform="rotate(-90 994 1229.4)">CNTRL + M</text>
<text x="5.6" y="1450.2" font-size="36.2" fill="#000" font-weight="bold" textLength="11.2" lengthAdjust="spacingAndGlyphs">j</text>
<line x1="88.5" y1="1469.9" x2="88.5" y2="1861.1" stroke="#e3e3e3" stroke-width="1.1"/>
<line x1="179.9" y1="1469.9" x2="179.9" y2="1861.1" stroke="#e3e3e3" stroke-width="1.1"/>
<line x1="271.3" y1="1469.9" x2="271.3" y2="1861.1" stroke="#e3e3e3" stroke-width="1.1"/>
<line x1="362.7" y1="1469.9" x2="362.7" y2="1861.1" stroke="#e3e3e3" stroke-width="1.1"/>
<line x1="454.1" y1="1469.9" x2="454.1" y2="1861.1" stroke="#e3e3e3" stroke-width="1.1"/>
<line x1="70.2" y1="1782.9" x2="472.4" y2="1782.9" stroke="#e3e3e3" stroke-width="1.1"/>
<line x1="70.2" y1="1704.6" x2="472.4" y2="1704.6" stroke="#e3e3e3" stroke-width="1.1"/>
<line x1="70.2" y1="1626.4" x2="472.4" y2="1626.4" stroke="#e3e3e3" stroke-width="1.1"/>
<line x1="70.2" y1="1548.1" x2="472.4" y2="1548.1" stroke="#e3e3e3" stroke-width="1.1"/>
<polyline points="189.2,1812.2 255.4,1734 321.4,1655.7 387.6,1577.5 454.1,1499.2" fill="none" stroke="#000" stroke-width="2" stroke-linejoin="round" stroke-dasharray="9,3.2,2,3.2"/>
<line x1="189.2" y1="1833.7" x2="189.2" y2="1790.7" stroke="#000" stroke-width="2"/>
<line x1="181.6" y1="1833.7" x2="196.8" y2="1833.7" stroke="#000" stroke-width="2"/>
<line x1="181.6" y1="1790.7" x2="196.8" y2="1790.7" stroke="#000" stroke-width="2"/>
<circle cx="189.2" cy="1812.2" r="6.6" fill="#000" stroke="none" stroke-width="0"/>
<line x1="255.4" y1="1755.5" x2="255.4" y2="1712.4" stroke="#000" stroke-width="2"/>
<line x1="247.8" y1="1755.5" x2="263" y2="1755.5" stroke="#000" stroke-width="2"/>
<line x1="247.8" y1="1712.4" x2="263" y2="1712.4" stroke="#000" stroke-width="2"/>
<circle cx="255.4" cy="1734" r="6.6" fill="#000" stroke="none" stroke-width="0"/>
<line x1="321.4" y1="1677.2" x2="321.4" y2="1634.2" stroke="#000" stroke-width="2"/>
<line x1="313.8" y1="1677.2" x2="329" y2="1677.2" stroke="#000" stroke-width="2"/>
<line x1="313.8" y1="1634.2" x2="329" y2="1634.2" stroke="#000" stroke-width="2"/>
<circle cx="321.4" cy="1655.7" r="6.6" fill="#000" stroke="none" stroke-width="0"/>
<line x1="387.6" y1="1599" x2="387.6" y2="1556" stroke="#000" stroke-width="2"/>
<line x1="380" y1="1599" x2="395.2" y2="1599" stroke="#000" stroke-width="2"/>
<line x1="380" y1="1556" x2="395.2" y2="1556" stroke="#000" stroke-width="2"/>
<circle cx="387.6" cy="1577.5" r="6.6" fill="#000" stroke="none" stroke-width="0"/>
<line x1="454.1" y1="1520.8" x2="454.1" y2="1477.7" stroke="#000" stroke-width="2"/>
<line x1="446.5" y1="1520.8" x2="461.7" y2="1520.8" stroke="#000" stroke-width="2"/>
<line x1="446.5" y1="1477.7" x2="461.7" y2="1477.7" stroke="#000" stroke-width="2"/>
<circle cx="454.1" cy="1499.2" r="6.6" fill="#000" stroke="none" stroke-width="0"/>
<polyline points="88.5,1812.2 179.9,1734 271.3,1655.7 362.7,1577.5 454.1,1499.2" fill="none" stroke="#008000" stroke-width="2" stroke-linejoin="round" stroke-dasharray="9,3.2,2,3.2"/>
<line x1="88.5" y1="1833.7" x2="88.5" y2="1790.7" stroke="#008000" stroke-width="2"/>
<line x1="80.9" y1="1833.7" x2="96.1" y2="1833.7" stroke="#008000" stroke-width="2"/>
<line x1="80.9" y1="1790.7" x2="96.1" y2="1790.7" stroke="#008000" stroke-width="2"/>
<circle cx="88.5" cy="1812.2" r="6.6" fill="#008000" stroke="none" stroke-width="0"/>
<line x1="179.9" y1="1755.5" x2="179.9" y2="1712.4" stroke="#008000" stroke-width="2"/>
<line x1="172.3" y1="1755.5" x2="187.5" y2="1755.5" stroke="#008000" stroke-width="2"/>
<line x1="172.3" y1="1712.4" x2="187.5" y2="1712.4" stroke="#008000" stroke-width="2"/>
<circle cx="179.9" cy="1734" r="6.6" fill="#008000" stroke="none" stroke-width="0"/>
<line x1="271.3" y1="1677.2" x2="271.3" y2="1634.2" stroke="#008000" stroke-width="2"/>
<line x1="263.7" y1="1677.2" x2="278.9" y2="1677.2" stroke="#008000" stroke-width="2"/>
<line x1="263.7" y1="1634.2" x2="278.9" y2="1634.2" stroke="#008000" stroke-width="2"/>
<circle cx="271.3" cy="1655.7" r="6.6" fill="#008000" stroke="none" stroke-width="0"/>
<line x1="362.7" y1="1599" x2="362.7" y2="1556" stroke="#008000" stroke-width="2"/>
<line x1="355.1" y1="1599" x2="370.3" y2="1599" stroke="#008000" stroke-width="2"/>
<line x1="355.1" y1="1556" x2="370.3" y2="1556" stroke="#008000" stroke-width="2"/>
<circle cx="362.7" cy="1577.5" r="6.6" fill="#008000" stroke="none" stroke-width="0"/>
<line x1="454.1" y1="1520.8" x2="454.1" y2="1477.7" stroke="#008000" stroke-width="2"/>
<line x1="446.5" y1="1520.8" x2="461.7" y2="1520.8" stroke="#008000" stroke-width="2"/>
<line x1="446.5" y1="1477.7" x2="461.7" y2="1477.7" stroke="#008000" stroke-width="2"/>
<circle cx="454.1" cy="1499.2" r="6.6" fill="#008000" stroke="none" stroke-width="0"/>
<rect x="70.2" y="1469.9" width="402.2" height="391.4" fill="none" stroke="#222" stroke-width="1.3"/>
<line x1="64.9" y1="1861.1" x2="70.2" y2="1861.1" stroke="#262626" stroke-width="1.2"/>
<text x="35.2" y="1867" font-size="16.2" fill="#1a1a1a" textLength="24.4" lengthAdjust="spacingAndGlyphs">0.0</text>
<line x1="64.9" y1="1782.9" x2="70.2" y2="1782.9" stroke="#262626" stroke-width="1.2"/>
<text x="35.7" y="1788.7" font-size="16.2" fill="#1a1a1a" textLength="24.1" lengthAdjust="spacingAndGlyphs">0.2</text>
<line x1="64.9" y1="1704.6" x2="70.2" y2="1704.6" stroke="#262626" stroke-width="1.2"/>
<text x="35" y="1710.5" font-size="16.2" fill="#1a1a1a" textLength="24.4" lengthAdjust="spacingAndGlyphs">0.4</text>
<line x1="64.9" y1="1626.4" x2="70.2" y2="1626.4" stroke="#262626" stroke-width="1.2"/>
<text x="35.1" y="1632.3" font-size="16.2" fill="#1a1a1a" textLength="24.6" lengthAdjust="spacingAndGlyphs">0.6</text>
<line x1="64.9" y1="1548.1" x2="70.2" y2="1548.1" stroke="#262626" stroke-width="1.2"/>
<text x="35.2" y="1554" font-size="16.2" fill="#1a1a1a" textLength="24.5" lengthAdjust="spacingAndGlyphs">0.8</text>
<line x1="64.9" y1="1469.9" x2="70.2" y2="1469.9" stroke="#262626" stroke-width="1.2"/>
<text x="35.2" y="1475.8" font-size="16.2" fill="#1a1a1a" textLength="24.4" lengthAdjust="spacingAndGlyphs">1.0</text>
<line x1="88.5" y1="1861.3" x2="88.5" y2="1866" stroke="#262626" stroke-width="1.2"/>
<text x="71.5" y="1883.6" font-size="16" fill="#1a1a1a" textLength="34" lengthAdjust="spacingAndGlyphs">0.00</text>
<line x1="179.9" y1="1861.3" x2="179.9" y2="1866" stroke="#262626" stroke-width="1.2"/>
<text x="163.1" y="1883.6" font-size="16" fill="#1a1a1a" textLength="33.7" lengthAdjust="spacingAndGlyphs">0.05</text>
<line x1="271.3" y1="1861.3" x2="271.3" y2="1866" stroke="#262626" stroke-width="1.2"/>
<text x="254.3" y="1883.6" font-size="16" fill="#1a1a1a" textLength="34" lengthAdjust="spacingAndGlyphs">0.10</text>
<line x1="362.7" y1="1861.3" x2="362.7" y2="1866" stroke="#262626" stroke-width="1.2"/>
<text x="345.9" y="1883.6" font-size="16" fill="#1a1a1a" textLength="33.7" lengthAdjust="spacingAndGlyphs">0.15</text>
<line x1="454.1" y1="1861.3" x2="454.1" y2="1866" stroke="#262626" stroke-width="1.2"/>
<text x="437.1" y="1883.6" font-size="16" fill="#1a1a1a" textLength="34" lengthAdjust="spacingAndGlyphs">0.20</text>
<rect x="77.7" y="1477.2" width="132.3" height="47.8" rx="3" fill="#fff" fill-opacity="0.85" stroke="#d0d0d0" stroke-width="1"/>
<line x1="84.3" y1="1489" x2="93" y2="1489" stroke="#000" stroke-width="2"/>
<line x1="107" y1="1489" x2="114" y2="1489" stroke="#000" stroke-width="2"/>
<line x1="99.4" y1="1481.4" x2="99.4" y2="1496.6" stroke="#000" stroke-width="2"/>
<line x1="92" y1="1481.4" x2="106.8" y2="1481.4" stroke="#000" stroke-width="2"/>
<line x1="92" y1="1496.6" x2="106.8" y2="1496.6" stroke="#000" stroke-width="2"/>
<circle cx="99.4" cy="1489" r="6.6" fill="#000" stroke="none" stroke-width="0"/>
<line x1="84.3" y1="1511.2" x2="93" y2="1511.2" stroke="#008000" stroke-width="2"/>
<line x1="107" y1="1511.2" x2="114" y2="1511.2" stroke="#008000" stroke-width="2"/>
<line x1="99.4" y1="1503.6" x2="99.4" y2="1518.8" stroke="#008000" stroke-width="2"/>
<line x1="92" y1="1503.6" x2="106.8" y2="1503.6" stroke="#008000" stroke-width="2"/>
<line x1="92" y1="1518.8" x2="106.8" y2="1518.8" stroke="#008000" stroke-width="2"/>
<circle cx="99.4" cy="1511.2" r="6.6" fill="#008000" stroke="none" stroke-width="0"/>
<text x="127" y="1495" font-size="15.7" fill="#1a1a1a" textLength="69.4" lengthAdjust="spacingAndGlyphs">HGRY+M</text>
<text x="127.5" y="1516.5" font-size="15.7" fill="#1a1a1a" textLength="77" lengthAdjust="spacingAndGlyphs">CNTRL+M</text>
<text x="21.3" y="1763.9" font-size="20.9" fill="#1a1a1a" textLength="196.8" lengthAdjust="spacingAndGlyphs" transform="rotate(-90 21.3 1763.9)">Response Probability</text>
<text x="183.9" y="1907.4" font-size="19.9" fill="#1a1a1a" textLength="178.3" lengthAdjust="spacingAndGlyphs">Valence Index (VI)</text>
<text x="544.4" y="1449.9" font-size="35.9" fill="#000" font-weight="bold" textLength="20" lengthAdjust="spacingAndGlyphs">k</text>
<line x1="699" y1="1659.4" x2="865.6" y2="1659.4" stroke="#b4b4b4" stroke-width="1.1"/>
<line x1="699" y1="1659.4" x2="816.8" y2="1779.6" stroke="#b4b4b4" stroke-width="1.1"/>
<line x1="699" y1="1659.4" x2="699" y2="1829.3" stroke="#b4b4b4" stroke-width="1.1"/>
<line x1="699" y1="1659.4" x2="581.2" y2="1779.6" stroke="#b4b4b4" stroke-width="1.1"/>
<line x1="699" y1="1659.4" x2="532.4" y2="1659.4" stroke="#b4b4b4" stroke-width="1.1"/>
<line x1="699" y1="1659.4" x2="581.2" y2="1539.2" stroke="#b4b4b4" stroke-width="1.1"/>
<line x1="699" y1="1659.4" x2="699" y2="1489.5" stroke="#b4b4b4" stroke-width="1.1"/>
<line x1="699" y1="1659.4" x2="816.8" y2="1539.2" stroke="#b4b4b4" stroke-width="1.1"/>
<ellipse cx="699" cy="1659.4" rx="27.8" ry="28.3" fill="none" stroke="#a8a8a8" stroke-width="1.2" stroke-dasharray="1.3,2.9"/>
<ellipse cx="699" cy="1659.4" rx="55.5" ry="56.6" fill="none" stroke="#a8a8a8" stroke-width="1.2" stroke-dasharray="1.3,2.9"/>
<ellipse cx="699" cy="1659.4" rx="83.3" ry="85" fill="none" stroke="#a8a8a8" stroke-width="1.2" stroke-dasharray="1.3,2.9"/>
<ellipse cx="699" cy="1659.4" rx="111" ry="113.3" fill="none" stroke="#a8a8a8" stroke-width="1.2" stroke-dasharray="1.3,2.9"/>
<ellipse cx="699" cy="1659.4" rx="138.8" ry="141.6" fill="none" stroke="#a8a8a8" stroke-width="1.2" stroke-dasharray="1.3,2.9"/>
<ellipse cx="699" cy="1659.4" rx="166.6" ry="169.9" fill="none" stroke="#111" stroke-width="1.3"/>
<text x="676.8" y="1522.5" font-size="14.7" fill="#8a8a8a" textLength="21.3" lengthAdjust="spacingAndGlyphs">1.0</text>
<text x="677.1" y="1550.7" font-size="14.7" fill="#8a8a8a" textLength="21.4" lengthAdjust="spacingAndGlyphs">0.8</text>
<text x="677" y="1578.6" font-size="14.7" fill="#8a8a8a" textLength="21.4" lengthAdjust="spacingAndGlyphs">0.6</text>
<text x="677" y="1607.3" font-size="14.7" fill="#8a8a8a" textLength="21.3" lengthAdjust="spacingAndGlyphs">0.4</text>
<text x="677.3" y="1636" font-size="14.7" fill="#8a8a8a" textLength="21" lengthAdjust="spacingAndGlyphs">0.2</text>
<text x="680.4" y="1474.7" font-size="15.5" fill="#1a1a1a" textLength="35.1" lengthAdjust="spacingAndGlyphs">270°</text>
<text x="687.1" y="1855.6" font-size="16.5" fill="#1a1a1a" textLength="24.3" lengthAdjust="spacingAndGlyphs">90°</text>
<text x="495.3" y="1664.4" font-size="15.1" fill="#1a1a1a" textLength="34.6" lengthAdjust="spacingAndGlyphs">180°</text>
<text x="876.9" y="1664.4" font-size="15.1" fill="#1a1a1a" textLength="15.6" lengthAdjust="spacingAndGlyphs">0°</text>
<text x="549.5" y="1530.2" font-size="15.5" fill="#1a1a1a" textLength="35.1" lengthAdjust="spacingAndGlyphs">225°</text>
<text x="813.3" y="1530.2" font-size="15.5" fill="#1a1a1a" textLength="33.3" lengthAdjust="spacingAndGlyphs">315°</text>
<text x="549.1" y="1799.7" font-size="15.5" fill="#1a1a1a" textLength="34.3" lengthAdjust="spacingAndGlyphs">135°</text>
<text x="818.3" y="1799.7" font-size="15.5" fill="#1a1a1a" textLength="24.5" lengthAdjust="spacingAndGlyphs">45°</text>
<circle cx="600.3" cy="1560.3" r="4.3" fill="#1f8c1f" fill-opacity="0.9"/>
<circle cx="596.3" cy="1586.3" r="4.3" fill="#1f8c1f" fill-opacity="0.9"/>
<circle cx="604.8" cy="1711.5" r="4.3" fill="#1f8c1f" fill-opacity="0.9"/>
<circle cx="620.8" cy="1707.8" r="4.3" fill="#1f8c1f" fill-opacity="0.9"/>
<circle cx="618.6" cy="1695.5" r="4.3" fill="#1f8c1f" fill-opacity="0.9"/>
<circle cx="617.3" cy="1678.3" r="4.3" fill="#1f8c1f" fill-opacity="0.9"/>
<circle cx="629" cy="1678.3" r="4.3" fill="#1f8c1f" fill-opacity="0.9"/>
<circle cx="633.8" cy="1687.1" r="4.3" fill="#1f8c1f" fill-opacity="0.9"/>
<circle cx="640.3" cy="1689.1" r="4.3" fill="#1f8c1f" fill-opacity="0.9"/>
<circle cx="651.5" cy="1657.6" r="4.3" fill="#1f8c1f" fill-opacity="0.9"/>
<circle cx="680.9" cy="1654.6" r="4.3" fill="#1f8c1f" fill-opacity="0.9"/>
<circle cx="686.7" cy="1659.6" r="4.3" fill="#1f8c1f" fill-opacity="0.9"/>
<circle cx="692.2" cy="1658.9" r="4.3" fill="#1f8c1f" fill-opacity="0.9"/>
<circle cx="695.9" cy="1659.6" r="4.3" fill="#1f8c1f" fill-opacity="0.9"/>
<circle cx="626.8" cy="1637.2" r="4.3" fill="#111" fill-opacity="0.85"/>
<circle cx="657.2" cy="1649.1" r="4.3" fill="#111" fill-opacity="0.85"/>
<circle cx="646" cy="1655.1" r="4.3" fill="#111" fill-opacity="0.85"/>
<circle cx="617.3" cy="1680.8" r="4.3" fill="#111" fill-opacity="0.85"/>
<circle cx="620.5" cy="1689.6" r="4.3" fill="#111" fill-opacity="0.85"/>
<circle cx="630.5" cy="1677.6" r="4.3" fill="#111" fill-opacity="0.85"/>
<circle cx="639" cy="1680.8" r="4.3" fill="#111" fill-opacity="0.85"/>
<circle cx="588.1" cy="1699" r="4.3" fill="#111" fill-opacity="0.85"/>
<circle cx="653.5" cy="1665.9" r="4.3" fill="#111" fill-opacity="0.85"/>
<circle cx="654" cy="1673.3" r="4.3" fill="#111" fill-opacity="0.85"/>
<circle cx="658.5" cy="1667.1" r="4.3" fill="#111" fill-opacity="0.85"/>
<circle cx="662.2" cy="1668.4" r="4.3" fill="#111" fill-opacity="0.85"/>
<circle cx="666.7" cy="1669.6" r="4.3" fill="#111" fill-opacity="0.85"/>
<circle cx="666.5" cy="1659.1" r="4.3" fill="#111" fill-opacity="0.85"/>
<circle cx="673.4" cy="1659.6" r="4.3" fill="#111" fill-opacity="0.85"/>
<circle cx="678.4" cy="1664.1" r="4.3" fill="#111" fill-opacity="0.85"/>
<circle cx="679.7" cy="1657.1" r="4.3" fill="#111" fill-opacity="0.85"/>
<circle cx="684.7" cy="1660.9" r="4.3" fill="#111" fill-opacity="0.85"/>
<circle cx="697.6" cy="1660.1" r="4.3" fill="#111" fill-opacity="0.85"/>
<rect x="837" y="1462.6" width="121" height="47.9" rx="3" fill="#fff" fill-opacity="0.85" stroke="#d0d0d0" stroke-width="1"/>
<circle cx="855.9" cy="1475.9" r="4.3" fill="#1f8c1f" fill-opacity="0.9"/>
<circle cx="855.9" cy="1497.5" r="4.3" fill="#111" fill-opacity="0.85"/>
<text x="881.7" y="1481.3" font-size="16.4" fill="#1a1a1a" textLength="71.2" lengthAdjust="spacingAndGlyphs">CNTRL+M</text>
<text x="881.3" y="1502.9" font-size="16.4" fill="#1a1a1a" textLength="63.6" lengthAdjust="spacingAndGlyphs">HGRY+M</text>
<text x="971.5" y="1451.9" font-size="35.5" fill="#000" font-weight="bold" textLength="10.1" lengthAdjust="spacingAndGlyphs">l</text>
<line x1="1047" y1="1466.9" x2="1047" y2="1881.3" stroke="#262626" stroke-width="1.4"/>
<line x1="1046.3" y1="1880.6" x2="1441" y2="1880.6" stroke="#262626" stroke-width="1.4"/>
<line x1="1041.7" y1="1861.9" x2="1047" y2="1861.9" stroke="#262626" stroke-width="1.2"/>
<text x="1012" y="1867.7" font-size="16.4" fill="#1a1a1a" textLength="23.8" lengthAdjust="spacingAndGlyphs">0.0</text>
<line x1="1041.7" y1="1776.4" x2="1047" y2="1776.4" stroke="#262626" stroke-width="1.2"/>
<text x="1012.5" y="1782.1" font-size="16.4" fill="#1a1a1a" textLength="23.4" lengthAdjust="spacingAndGlyphs">0.2</text>
<line x1="1041.7" y1="1690.9" x2="1047" y2="1690.9" stroke="#262626" stroke-width="1.2"/>
<text x="1011.8" y="1696.6" font-size="16.4" fill="#1a1a1a" textLength="23.8" lengthAdjust="spacingAndGlyphs">0.4</text>
<line x1="1041.7" y1="1605.3" x2="1047" y2="1605.3" stroke="#262626" stroke-width="1.2"/>
<text x="1011.9" y="1611.1" font-size="16.4" fill="#1a1a1a" textLength="23.9" lengthAdjust="spacingAndGlyphs">0.6</text>
<line x1="1041.7" y1="1519.8" x2="1047" y2="1519.8" stroke="#262626" stroke-width="1.2"/>
<text x="1012" y="1525.6" font-size="16.4" fill="#1a1a1a" textLength="23.8" lengthAdjust="spacingAndGlyphs">0.8</text>
<line x1="1137.4" y1="1880.6" x2="1137.4" y2="1885.9" stroke="#262626" stroke-width="1.2"/>
<text x="1089.1" y="1907.7" font-size="20.9" fill="#1a1a1a" textLength="97.4" lengthAdjust="spacingAndGlyphs">CNTRL+M</text>
<line x1="1289" y1="1880.6" x2="1289" y2="1885.9" stroke="#262626" stroke-width="1.2"/>
<text x="1244.8" y="1907.7" font-size="20.9" fill="#1a1a1a" textLength="88.5" lengthAdjust="spacingAndGlyphs">HGRY+M</text>
<text x="997.4" y="1705.6" font-size="22" fill="#1a1a1a" textLength="62.5" lengthAdjust="spacingAndGlyphs" transform="rotate(-90 997.4 1705.6)">R proj</text>
<path d="M1137.4,1508.1 V1486.3 H1289 V1508.1" fill="none" stroke="#262626" stroke-width="1.4"/>
<text x="1204.5" y="1478.6" font-size="16.1" fill="#1a1a1a" textLength="17.3" lengthAdjust="spacingAndGlyphs">ns</text>
<rect x="1111.8" y="1628.2" width="51.2" height="180.8" fill="none" stroke="#0b830b" stroke-width="1.5"/>
<line x1="1111.8" y1="1735.7" x2="1163" y2="1735.7" stroke="#0b830b" stroke-width="1.5"/>
<line x1="1137.4" y1="1628.2" x2="1137.4" y2="1515.8" stroke="#0b830b" stroke-width="1.5"/>
<line x1="1137.4" y1="1809" x2="1137.4" y2="1857.2" stroke="#0b830b" stroke-width="1.5"/>
<line x1="1124.1" y1="1515.8" x2="1150.7" y2="1515.8" stroke="#0b830b" stroke-width="1.5"/>
<line x1="1124.1" y1="1857.2" x2="1150.7" y2="1857.2" stroke="#0b830b" stroke-width="1.5"/>
<circle cx="1153.5" cy="1516.4" r="5.3" fill="#3a9a3a" stroke="#0b830b" stroke-width="1.2"/>
<circle cx="1136.7" cy="1539.9" r="5.3" fill="#3a9a3a" stroke="#0b830b" stroke-width="1.2"/>
<circle cx="1133.7" cy="1565.3" r="5.3" fill="#3a9a3a" stroke="#0b830b" stroke-width="1.2"/>
<circle cx="1129" cy="1601.1" r="5.3" fill="#3a9a3a" stroke="#0b830b" stroke-width="1.2"/>
<circle cx="1133" cy="1615.9" r="5.3" fill="#3a9a3a" stroke="#0b830b" stroke-width="1.2"/>
<circle cx="1142.1" cy="1632.3" r="5.3" fill="#3a9a3a" stroke="#0b830b" stroke-width="1.2"/>
<circle cx="1142.8" cy="1657.7" r="5.3" fill="#3a9a3a" stroke="#0b830b" stroke-width="1.2"/>
<circle cx="1142.8" cy="1665.4" r="5.3" fill="#3a9a3a" stroke="#0b830b" stroke-width="1.2"/>
<circle cx="1146.1" cy="1671.7" r="5.3" fill="#3a9a3a" stroke="#0b830b" stroke-width="1.2"/>
<circle cx="1135.4" cy="1720.6" r="5.3" fill="#3a9a3a" stroke="#0b830b" stroke-width="1.2"/>
<circle cx="1148.4" cy="1751.1" r="5.3" fill="#3a9a3a" stroke="#0b830b" stroke-width="1.2"/>
<circle cx="1160.2" cy="1774.2" r="5.3" fill="#3a9a3a" stroke="#0b830b" stroke-width="1.2"/>
<circle cx="1133" cy="1781.5" r="5.3" fill="#3a9a3a" stroke="#0b830b" stroke-width="1.2"/>
<circle cx="1132" cy="1795.9" r="5.3" fill="#3a9a3a" stroke="#0b830b" stroke-width="1.2"/>
<circle cx="1147.8" cy="1805" r="5.3" fill="#3a9a3a" stroke="#0b830b" stroke-width="1.2"/>
<circle cx="1100.9" cy="1820.4" r="5.3" fill="#3a9a3a" stroke="#0b830b" stroke-width="1.2"/>
<circle cx="1123.3" cy="1830.4" r="5.3" fill="#3a9a3a" stroke="#0b830b" stroke-width="1.2"/>
<circle cx="1130.7" cy="1840.1" r="5.3" fill="#3a9a3a" stroke="#0b830b" stroke-width="1.2"/>
<circle cx="1132.7" cy="1846.1" r="5.3" fill="#3a9a3a" stroke="#0b830b" stroke-width="1.2"/>
<circle cx="1143.4" cy="1857.2" r="5.3" fill="#3a9a3a" stroke="#0b830b" stroke-width="1.2"/>
<rect x="1263.4" y="1665.1" width="51.2" height="119.8" fill="none" stroke="#0a0a0a" stroke-width="1.5"/>
<line x1="1263.4" y1="1731.3" x2="1314.6" y2="1731.3" stroke="#0a0a0a" stroke-width="1.5"/>
<line x1="1289" y1="1665.1" x2="1289" y2="1547.6" stroke="#0a0a0a" stroke-width="1.5"/>
<line x1="1289" y1="1784.9" x2="1289" y2="1861.9" stroke="#0a0a0a" stroke-width="1.5"/>
<line x1="1275.7" y1="1547.6" x2="1302.3" y2="1547.6" stroke="#0a0a0a" stroke-width="1.5"/>
<line x1="1275.7" y1="1861.9" x2="1302.3" y2="1861.9" stroke="#0a0a0a" stroke-width="1.5"/>
<circle cx="1282.3" cy="1547.6" r="5.3" fill="#383838" stroke="#0a0a0a" stroke-width="1.2"/>
<circle cx="1294.4" cy="1612.5" r="5.3" fill="#383838" stroke="#0a0a0a" stroke-width="1.2"/>
<circle cx="1291" cy="1641.3" r="5.3" fill="#383838" stroke="#0a0a0a" stroke-width="1.2"/>
<circle cx="1263.9" cy="1653.3" r="5.3" fill="#383838" stroke="#0a0a0a" stroke-width="1.2"/>
<circle cx="1276.6" cy="1657.7" r="5.3" fill="#383838" stroke="#0a0a0a" stroke-width="1.2"/>
<circle cx="1293.7" cy="1667.7" r="5.3" fill="#383838" stroke="#0a0a0a" stroke-width="1.2"/>
<circle cx="1286" cy="1718.6" r="5.3" fill="#383838" stroke="#0a0a0a" stroke-width="1.2"/>
<circle cx="1277.3" cy="1725.6" r="5.3" fill="#383838" stroke="#0a0a0a" stroke-width="1.2"/>
<circle cx="1289.7" cy="1727" r="5.3" fill="#383838" stroke="#0a0a0a" stroke-width="1.2"/>
<circle cx="1314.5" cy="1723" r="5.3" fill="#383838" stroke="#0a0a0a" stroke-width="1.2"/>
<circle cx="1289.7" cy="1735.3" r="5.3" fill="#383838" stroke="#0a0a0a" stroke-width="1.2"/>
<circle cx="1289.7" cy="1753.8" r="5.3" fill="#383838" stroke="#0a0a0a" stroke-width="1.2"/>
<circle cx="1313.1" cy="1758.1" r="5.3" fill="#383838" stroke="#0a0a0a" stroke-width="1.2"/>
<circle cx="1278" cy="1766.8" r="5.3" fill="#383838" stroke="#0a0a0a" stroke-width="1.2"/>
<circle cx="1271.3" cy="1782.5" r="5.3" fill="#383838" stroke="#0a0a0a" stroke-width="1.2"/>
<circle cx="1281.3" cy="1791.6" r="5.3" fill="#383838" stroke="#0a0a0a" stroke-width="1.2"/>
<circle cx="1303.4" cy="1794.9" r="5.3" fill="#383838" stroke="#0a0a0a" stroke-width="1.2"/>
<circle cx="1283" cy="1811" r="5.3" fill="#383838" stroke="#0a0a0a" stroke-width="1.2"/>
<circle cx="1291.4" cy="1811" r="5.3" fill="#383838" stroke="#0a0a0a" stroke-width="1.2"/>
<circle cx="1284.3" cy="1861.9" r="5.3" fill="#383838" stroke="#0a0a0a" stroke-width="1.2"/>
<text x="199.9" y="1963.9" font-size="36.2" fill="#000" font-weight="bold" textLength="33.1" lengthAdjust="spacingAndGlyphs">m</text>
<g filter="url(#fm)"><rect x="240" y="1971" width="457" height="385" fill="#000"/>
<path d="M240,1972l456,0-214,0 0,74 0,6 0,2 4,0 42-5 18-1 14,0 26-3 3-3 1-4 2-6 2-4 4-2 6-2 28,0 6,0 0-2 0-8 3-10 3-2 4-2 14-1 4,1 4,2 2,2 1,4 1,14 2,2 2,2 2,0 3-8 3-3 2-2 4,0 4,3 0,135-1-1-3-11 0-1-6,0-6-2 0,1-1,69-1,6 0,66-1,4-7,10-10,8-2,2-1,8 0,8-3,8-2,3-7,1 0,2 5,4 1,2-1,4-2,3-6-1-12-8-4-4-2-2-140,0-2,2 0,22 214,0 0,2-456,0zM242,1972l0,382 216,0 0-14-1-4-1-1-46-1-6-1-8-7-6-2-12,0-20,6-6-2-4-4 0-8 2-2 4-4 24-6 16-2 2-2 2-8 6-5 8-2 22-1 4-2-2-2-10-3-20-2-38,4-10,3-18,7-6,3-6,6-4,2-4,1-6-2-2-3-1-4 1-4 7-10 9-8 26-11 10-2 26-3 2-2-7-10-3-8 0-8-3-2-39-8-34-4-6-4-2-4 0-2 0-4 2-2 4-3 4-1 10,0 28,3 34,7 28,6 20,4 28,2 2-1 0-3 0-16-1-2-1,0-10,0-10,3-6,3-8,4-2,1-6,0-4-3-3-2-2-6 1-4 1-4 3-3 4-2 14-1 14-4 14-2 1-2 1-2 0-4-2-4-2,0-10,2-20,1-24,1-4-1-4-3-2-4 0-4 2-6 3-4 5-5 8-3 32-11 6,1 4,3 2,3-2,8 2,2 4,1 2-3 0-16 0-40-2,0-2,10-2,5-6,4-4,0-4-2-4-7-2-6 0-8 1-4 3-5 2-3 4-2 2,0 4,2 4,4 4,5 5-11-1-6-2-4 0-6 0-76zM504,2228l6,6 6,1 14-1 4-2 2-4 0-2-4-1-10-1-14,0-2,2zM682,2037l-2,3-1,64 1,3 12,9 1-70-1-2-6-3zM452,2260l2,2 2,1 2-1 0-2-2-2zM460,2226l-2,2-2,2 0,6 0,2 4,0 2-4 0-6z" fill="rgb(5,5,5)"/>
<path d="M240,1972l456,0-216,0 0,80 0,2 6,1 40-5 18-2 16,1 28-4 2-3 1-6 4-6 3-3 6-2 26,0 8-1 1-2 0-6 1-6 4-8 2-1 4-1 14,0 2,0 4,2 2,4 2,18 4,4 2,2-1,38-1,6 0,32 2,2 6,5 6,7 1-4-1-32 2-40-1-2-5-2-3-2-3-4-1-4 1-8 2-4 2-2 4-1 3,1 3,2 0,123-4-6-4,1-2,0-6-2-2,2 0,72-1,6 0,66-1,2-7,10-11,8-2,12 0,6-2,8-4,3-6,1-1,0 7,7 0,3 0,2-4,2-4-1-18-13-140,0-3,0-1,4 0,20 216,1 0,1-456,0zM241,1972l0,382 219,0-1-18-3-3-46-1-6-2-7-6-7-1-14,1-12,4-6,1-6-2-2-3-1-4 1-4 1-2 5-3 22-6 18-2 2-3 3-8 3-3 4-1 6-2 32-2 10-2-6,0-26-7-18-2-10,1-35,4-25,10-10,8-2,2-4,0-4-2-2-2 0-4 2-6 8-8 4-4 26-11 10-2 27-3 4-2 1-2-6-6-4-6-2-8-1-8-1-2-6-1-36-7-31-4-6-2-3-6 1-4 3-4 6-1 8,1 26,2 38,8 26,6 20,3 28,3 2-1 2-3-1-20-1-2-4,0-16,3-6,2-8,5-4,2-4,0-4-2-4-4-1-4 0-2 1-6 2-2 4-2 14-1 12-3 16-3 2-2 1-3 0-8-1-2-12,2-44,2-4,0-3-2-3-4 0-4 2-6 8-7 36-13 8,0 3,2 1,4-4,8 0,1 10,3 2,0 0-2 2-20-1-12 1-28-1-8 3-12-2-10 0-80zM503,2226l1,2 5,6 7,2 14-2 4-2 4-4 0-2-2-1-14-2-14,1-2,1zM462,2224l-4,2-3,4-2,8 2,2 3,0 4-3 0-5 0-4zM447,2260l9,6 2,0 2-3 0-4-2-3-4,0-6,2zM442,2066l4,0 5,4 2,2 1,8 0,6-2,6-4,5-2,2-6-1-2-3-4-5 0-6 0-6 1-6 4-4z" fill="rgb(8,8,8)"/>
<path d="M240,1972l456,0-216,0-1,82 1,2 6,0 40-6 18-1 20,0 22-3 4-2 1-6 3-7 2-3 4-2 6,0 24,0 8-1 2-3 0-8 1-4 3-6 2-2 6-2 10,0 4,1 4,3 1,2 2,18 5,4 0,4 0,36-1,6 1,30 0,5 9,7 5,8 2-2-1-50 3-24 0,87 0,1-2-4-2,0-2,3-2,0-4-1-4-2-2,0 0,2-2,146-1,2-6,8-13,10-1,12 0,8-2,6-3,2-8,2 0,2 7,6 0,4-2,2-5-1-12-9-4-4-2-1-140,0-3,1-1,2 0,22 216,1 0,1-456,0zM242,1972l-1,382 219,0 0-18-2-3-2-1-48-1-4-2-7-5-9-2-10,0-14,5-6,1-6-2-2-4 0-4 1-2 5-4 22-6 16-2 4,0 1-2 3-8 2-3 4-2 10-1 38-2 2-1 1-3-1-4-8,2-22-5-20-3-10,0-30,4-12,3-16,7-6,2-10,8-4,1-2-1-2-2-1-2 2-6 3-6 10-7 10-5 20-7 37-5 2-2-11-12-3-10 0-8-3-2-6-2-36-8-28-2-7-2-2-2-1-3 0-3 1-2 5-3 26,1 12,2 36,7 28,7 18,2 22,2 8,2 2-2 0-22 0-3-2-2-12,1-10,2-6,3-8,5-4,1-2-1-4-2-2-2-2-4 0-4 2-4 4-3 6-1 6,0 16-4 16-3 2-3 0-4 0-8-2-3-2,0-4,2-8,2-42,2-6-3-2-2-1-4 1-2 2-4 7-6 37-13 4,0 2,1 2,4-2,3-4,5-1,2 1,0 10,2 6,2 2-2 1-22-1-50 2-8-2-12 0-80zM502,2226l0,2 6,6 4,2 2,0 12-1 8-1 3-2 3-4 0-2-2-1-12-2-18,1-4,1zM401,2228l1,2 3,0 1-2-2-1-2,1zM462,2223l-2,0-4,3-3,8-1,2-4,2-24,2 0,2 16,0 10-2 8,1 3-3 1-4 1-6zM443,2260l1,2 14,6 2-2 1-8-3-3-2,0-12,3zM688,2016l4,0 2,2 2,2 0,19 0,1-8-1-4-3-2-4 0-6 1-4 2-4zM442,2067l4,1 4,3 3,5 1,4-1,6-1,5-4,5-4,1-4-1-3-4-3-8 0-4 2-6 4-5z" fill="rgb(11,11,11)"/>
<path d="M240,1972l456,0-217,0-1,78 1,6 5,0 46-6 12-1 20,0 26-4 2-1 2-6 3-6 2-4 3-1 4-1 28,0 6,0 2-2 0-1 0-9 1-4 3-6 2-2 8-2 6,0 6,1 4,3 1,2 1,18 5,4 1,4 0,36-1,6 0,34 2,2 5,4 4,4 4,8 0,4-2,2-2,2-4,0-5-4-1,2-1,2 0,64-1,22 0,60-2,4-6,8-12,8 0,6-2,4 0,8-2,8-4,2-7,2 7,8 0,4-2,1-4-1-10-8-5-4-3-2-16,1-124-1-4,2-1,2 0,22 217,1 0,1-456,0zM242,1972l-1,382 220,0 0-18-1-2-2-3-48-1-6-2-6-5-10-1-13,0-17,6-4-2-3-2-1-4 2-5 6-3 22-6 18-2 2-2 2-8 2-2 4-2 8-1 42-3 2-2 1-2-1-7-2-1-4,4-6,1-24-6-22-2-38,5-8,2-16,6-6,4-10,7-4,0-3-1-1-2 2-6 8-10 6-3 26-11 36-5 6-1 2-2-12-12-3-8-1-10-3-4-7-2-34-6-32-4-4-2-3-4 0-2 2-2 5-2 24,1 42,8 34,7 22,4 18,1 4,1 4,2-1,2-4,6-1,6-2,1-4,2-22,1-6,2-2,2 2,0 4,1 16,1 12-2 8,0 4-2 1-6 0-6-1-8-1-26-1-5-6-1-16,4-8,2-8,5-4,1-5-2-3-2-2-4 1-6 3-3 6-2 10-1 16-4 12-1 4-2 0-2 1-9-2-12 2-12 0-66 1-10-1-12 0-14 0-64zM500,2228l10,7 8,1 16-2 4-2 6-6-1,0-7-2-18-2-14,2-3,2zM551,2226l5,0 2,0 0-2-2,0-2,0zM399,2228l1,3 2,1 4-1 3-3-1-2-4-1-4,1zM439,2258l0,2 2,2 11,4 6,6 2-1 2-7 0-6-1-2-1-2-4,0zM688,2017l2,0 4,1 2,4 0,14-2,2-4,1-2,0-2-3-3-6 0-6 3-4zM696,2054l0,74 0,2-2-2 0-44 0-24 2-6zM444,2068l4,2 2,2 2,4 1,4-1,4-2,7-2,3-4,2-2,0-4-4-3-8 1-6 2-6 2-3zM457,2150l-2,4-5,3-6,1-20,1-22,1-6-2-2-4 2-6 4-5 4-2 36-12 2,0 2,1 2,2-1,2-3,3-6,5 4,2 8,0 4,1 4,3z" fill="rgb(14,14,14)"/>
<path d="M240,1972l456,0-218,0 0,80 0,4 4,0 52-6 30-1 24-3 2-2 2-6 4-8 4-2 6-2 26,0 6,0 2-2 1-2-1-8 2-4 2-6 2-2 4-1 10-1 6,2 4,2 2,20 4,4 2,4 0,30-2,12 1,34 1,2 6,5 4,5 2,4 1,6-1,2-2,1-4,0-4-3-2,0-2,4 0,72 0,6-1,68-1,2-6,8-12,10-1,6-1,6 0,8-4,6-2,2-7,0-1,2 8,7 1,3-1,2-2,1-4-1-10-8-4-4-4-2-18,1-54,0-32-1-38,0-3,2-1,2 0,22 218,1 0,1-456,0zM242,1972l-1,382 221,0 0-20-2-2-2-2-46,0-6-2-8-5-12-2-13,1-15,5-4-1-2-2-1-4 1-4 6-4 22-6 20-2 1-2 3-8 2-2 4-1 8-1 38-2 4-2 2-4-1-10 1-14-2-4-2-2-22,5-2,1 2,2 12,5 7,5 1,4-4,3-4,1-20-5-20-3-8,0-24,3-18,3-23,10-11,8-2,0-2,0-2-2 1-6 7-8 8-6 26-10 40-5 4-1 0-2-2-2-8-7-4-5-3-8 1-8-2-4-8-2-34-7-32-3-6-2-2-4 2-4 4-2 24,2 46,8 28,7 24,4 19,1 3,2 2,2-4,6-1,4-2,2-9,2-20,2-5,2-2,2 1,1 4,1 20,0 14-1 6,0 2-1 2-2 1-6 0-8-1-6 0-26-1-4-1-2-4,0-12,1-8,3-16,7-6,0-2-2-2-3-1-4 1-4 4-4 6-1 6,0 16-4 16-2 2-1 2-4 0-10-1-8 1-28 0-52 1-10-1-10 0-20 0-60zM499,2228l11,8 4,1 6,0 12-2 14-7 14-1 2-1 0-2-2-2-6,0-8,2-20-2-10,0-14,2-2,2zM397,2226l1,4 2,3 2,1 6-2 4-4-1-2-7-2-4,0zM690,2018l4,1 2,5 0,10-2,3-4,1-4-2-2-2-1-4 0-4 2-4 1-3zM696,2060l0,60-2-12 0-28 2-20zM444,2069l4,1 2,2 2,8 0,4-2,6-2,3-4,2-2,0-3-3-2-4-1-4 0-4 1-4 3-5zM455,2150l-1,4-4,2-8,1-40,2-4-2-2-3 0-2 2-4 6-6 34-12 4,0 1,2 0,2-3,3-8,5 0,2 4,1 16,1 2,2z" fill="rgb(17,17,17)"/>
<path d="M240,1972l456,0-218,0 0,84 2,1 32-3 24-4 28-1 22-3 5-2 1-6 4-6 2-4 2,0 6-2 26,0 6,0 2-1 2-3-1-6 1-6 2-4 2-4 6-1 10,0 6,2 2,5 2,16 4,4 1,4 0,36-1,4 0,36 3,4 5,3 2,3 4,4 0,4 0,4-2,2-4,0-6-4-1,0-1,4-1,146-1,4-6,8-5,4-8,6-2,12 0,8-3,6-3,2-7,0-1,2 8,6 1,4 0,2-2,0-4,0-8-7-6-6-2-1-72,1-32-1-38,0-4,0-2,2 0,24 218,2-456,0zM241,1972l0,382 221,0 0-20-1-4-3-1-46,0-6-2-8-5-10-1-10,0-8,2-8,3-4,1-4-2-2-3 0-4 0-2 4-3 22-5 8-2 12,0 3-2 3-9 4-3 6-1 42-2 4-1 2-3 0-3 0-24 0-4-2-2-3,0-13,3-12,1-2,2-1,0 22,10 4,4-1,2-2,2-6,1-18-5-20-2-8,0-34,4-10,2-24,10-8,6-4,0-1-2 3-6 6-7 8-5 22-8 8-2 36-4 4-2 0-2-2-3-8-5-5-6-2-4-1-4 0-4 2-4-2-4-14-4-28-6-32-3-6-2-2-1-1-2 2-4 5-1 22,2 44,8 32,7 16,3 24,3 2,0 1,2-3,4-1,6-1,2-6,1-22,1-8,3-1,1 0,2 3,2 4,1 18,1 14-2 8,0 2,0 2-2 0-4 1-10-1-36-1-4-2,0-3-1-15,3-9,2-12,7-4-1-4-2-2-2 0-4 1-4 5-4 10,0 16-4 15-2 3-2 2-4 0-100 1-6-1-20 0-72zM478,2228l0,4 1-2-1-2zM564,2224l0-2-4-1-16,2-32-1-12,2-2,2 0,2 0,1 10,7 4,1 8,0 14-3 14-6 14,0 2-2zM395,2224l0,2 3,6 4,3 2,0 10-5 1-2-3-3-8-2-6,0zM690,2018l3,2 2,2 1,4 0,8-2,2-4,2-4-2-2-6 1-8 1-2zM696,2067l0,46-2-11 0-24zM442,2070l6,2 1,2 2,4 1,4-2,6-2,4-4,2-2,0-2-2-2-4-2-4 1-8 3-4zM454,2150l-1,2-3,3-4,1-42,2-4-1-2-1-2-4 3-4 3-4 4-2 32-9 1,1-1,0-10,7-2,1 0,2 6,2 16,0 4,2z" fill="rgb(20,20,20)"/>
<path d="M240,1972l456,0-218,0 0,84 0,2 30-4 26-4 32-1 22-3 3-2 1-6 4-6 4-4 6-1 22,0 12-1 2-4-1-6 2-8 3-5 6-2 10,0 6,3 2,4 1,16 5,6 1,2 0,34-1,8 0,36 2,3 4,2 4,2 2,3 2,6 0,4-2,2-4-1-6-4-2,1 0,4 0,74-1,6-1,68-2,4-6,7-12,9 0,6-1,4-1,10-2,6-2,1-9,1 0,2 7,6 2,2 0,2-2,2-4-1-10-8-4-5-4,0-20,0-68,0-12-1-42,1-4,0 0,2 0,24 218,2-456,0zM242,1972l-1,382 221,0 0-20 0-4-2-2-48,0-5-2-7-4-14-2-10,1-18,5-4-2-2-4 1-4 5-3 26-6 16-1 2-2 3-8 5-4 10-1 36-1 4-2 2-4 0-28 0-4-2-2-2,0-10,3-18,3-8,2 4,2 24,8 4,4 0,2-2,2-6,0-18-5-20-2-10,0-36,5-8,2-18,8-12,7-2,0-2-3 2-2 7-8 7-4 14-6 14-5 34-4 11-3-3-4-10-8-4-4-2-6 0-6 2-1 2,0 6,9 4,1 12-7 2-2-4-3-12-3-8,0-8-4-8-2-36-7-28-3-4-1-3-3 1-2 4-2 30,3 38,7 28,7 20,3 20,2 3,2-5,6 0,4-2,0-4,2-16,1-9,1-7,3 0,3 4,3 8,1 18,0 12-1 8,0 2-1 3-6 1-6-2-38 0-6-4-1-14,1-11,4-11,6-4,0-4,0-2-2-2-2 0-4 2-5 4-2 12-1 16-4 12-2 4-1 2-2 0-7 0-14 0-12 0-70 1-6-1-28 0-64zM478,2227l-1,5 1,2 2-4-1-2zM566,2223l-1-1-5-2-4,0-12,2-18,0-22,0-6,2-2,4 2,2 10,6 4,1 6,1 16-3 14-6 16-1 2-2zM525,2260l3,2 4,1 5-1 2-2-7,0-6,0zM690,2019l2,1 2,2 2,4 0,6-1,2-3,3-4-1-2-1-2-3 0-4 1-6 2-2zM444,2071l2,0 2,3 3,8-1,6-2,2-4,3-2-1-2-2-3-8 1-6 2-4zM696,2074l0,32-1-6zM398,2154l0-4 4-4 6-3 8-2 5,1 1,2 2,2 8,1 16,0 3,1 1,2 0,3-6,2-42,3-4-2z" fill="rgb(23,23,23)"/>
<path d="M240,1972l456,0-219,0 0,84 1,2 30-3 28-5 28,0 24-4 4-3 2-7 2-4 4-4 4-1 24,0 10-1 4-2 0-10 2-6 2-4 2-2 6-1 10,1 2,1 2,1 1,2 2,18 4,4 1,4 0,36-1,4 1,36 2,6 4,1 4,3 3,8 0,2-3,3-3-1-5-4-2,1 0,3 0,76-2,6 0,68-7,10-13,10 0,6-2,6 0,6-2,7-2,1-10,2 0,2 9,8 0,2-1,2-4-1-10-7-4-6-4-1-18,1-70,0-18-1-38,0-2,1-1,4 0,22 219,2-456,0zM242,1972l-1,382 222,0-1-22 0-3-2-1-46,0-8-2-6-4-14-2-8,0-8,2-8,4-4,0-5-2-1-4 0-2 2-2 4-3 24-6 19-1 2-2 2-6 1-2 6-3 46-3 2-1 2-1 0-4 1-28-1-6-2-2 3-8 1-14-1-6 0-24-1-8-2-2-4,0-12,2-12,4-12,6-6-1-2-1-1-2-1-4 2-4 4-3 12-1 16-4 14-2 4-2 0-4 1-198zM478,2226l-1,6 1,2 0,1 2-3 1-2-3-4zM542,2086l4,2 10,1 7-1-1-2-10-1-4,0zM567,2222l-2-2-5-1-20,3-16-1-20,1-7,2-3,4 14,8 4,2 6,0 16-2 10-5 6-1 14-2 2-2zM545,2258l-1-2-8,2-12,0-4,2 8,3 8,1 6-2 2-3zM690,2020l4,1 1,3 1,4-1,6-2,2-3,0-2,0-2-2-2-4 2-8 2-2zM444,2072l2,0 2,2 2,8-1,6-3,4-2,0-2,0-2-2-2-8 2-8zM696,2086l0,8zM399,2152l1-2 4-4 2-2 6-1 4,1 4,2 4,2 22,0 3,0 2,2-1,3-6,1-36,3-6-1-2-2zM308,2202l4-3 30,3 38,7 28,7 34,5 4,1 0,2-5,4-1,2-2,2-8,2-14,0-2,0 8-6 0-2-6-2-14-3-8-1-16-5-30-6-34-3-4-2-1,0zM391,2232l1-2 2,0 4,6 6,4 4,4 4,2 24,1 18-1 3,2-3,2-12,3-28,2-4-1-14-10-4-5zM452,2272l0,2-2,1-4,0-20-5-18-2-8,0-34,4-8,2-24,9-8,5-2,1-2-1 1-2 3-4 8-6 22-10 10-2 48-6 30,8 7,4z" fill="rgb(26,26,26)"/>
<path d="M240,1972l456,0-219,0 0,82 1,4 0,1 4-1 26-3 24-4 12-1 20,0 24-4 4-2 1-6 4-6 5-4 2-1 24,1 12-2 2-4 0-8 1-4 2-4 3-3 6-2 6,0 4,1 4,2 1,2 1,18 5,4 1,6 0,34-1,4 1,38 2,4 4,2 4,2 2,6 1,2-1,4-4,0-6-5-2,1-1,4 0,76-1,6 0,66-2,4-6,8-4,4-8,6 0,6-2,6 0,6-3,6-3,2-6,1-3,1 1,3 8,5 1,2 0,2-1,1-4,0-10-9-4-4-2-1-18,1-60,0-28-2-40,1-2,1-1,2 0,24 219,2-456,0zM242,1972l-1,382 221,1 1-21-1-6-2-1-46,0-6-1-9-4-13-2-10,0-14,5-4,1-4-2-2-4 2-4 4-2 24-6 14-1 6-1 2-4 2-5 3-3 3,0 8-2 36-1 4-1 2-2 1-4 0-24-1-14 2-18-1-36-1-5-4-1-16,2-10,3-8,5-4,2-4,0-2-2-2-2-1-4 1-4 4-2 12-1 14-4 16-3 4-2 0-2 1-108 0-92zM478,2224l-1,8 1,3 1,1 3-6zM517,2116l2,2 4,0 2-2-1-2-4,0-2,2zM532,2086l20,3 8,0 6-1-2-2-14-3-16,3zM568,2224l-1-4-7-1-18,2-40,0-6,1-4,6 0,2 8,2 8,5 4,1 8,0 16-2 8-4 6-2 12,0 4-2 2-2zM546,2258l0-2-4,0-8,1-12,0-5,1 2,2 7,4 10,1 5-1 4-4zM545,2284l5,1 3-1-1-1-4-1-3,0zM690,2020l2,0 2,2 2,4-1,6-2,2-3,2-2,0-2-2-1-6 1-6zM444,2072l2,1 2,1 2,8-2,6-4,4-2-1-2-1-2-6 0-4 2-4 2-3zM400,2152l0-2 4-2 6-3 14,4 20,0 4,1 0,2-4,1-34,3-8-1-1-1zM311,2202l3-2 30,3 34,7 30,7 30,5 1,2-5,2-4,1-14-5-22-3-14-5-26-5-20-3-19-2-3,0zM394,2232l8,10 1,2-5-1-2-3-4-5zM406,2247l14,1 20,0 12-1 1,1-3,2-8,2-24,2-8-2zM451,2272l-1,2-4,0-18-4-20-2-10,0-36,4-8,2-26,10-1,0 2-4 5-4 26-10 42-6 12,0 12,2 20,6 3,2z" fill="rgb(29,29,29)"/>
<path d="M240,1972l456,0-219,0 0,84 1,3 0,1 6-2 26-3 26-5 26,0 26-4 4-2 5-12 4-4 7-1 20,1 12-2 2-2 0-10 2-8 3-2 5-2 10,0 4,1 3,3 1,18 5,6 1,2 0,36-1,4 0,38 1,4 8,4 3,2 1,6 0,2-2,2-2,0-2-2-4-4-2,0-1,6 0,74-1,8 0,66-2,4-6,8-4,4-9,6 0,6-2,6 0,8-3,4-2,2-8,2-1,0 1,2 8,8 0,2-2,1-2-1-10-7-4-6-2,0-18,1-72,0-14-2-44,1 0,1-1,2 0,24 7,1 212,1-456,0zM242,1972l-1,0 0,382 1,1 214,0 7-1 0-22-1-4-2-2-48,0-4-1-8-3-14-2-10,0-18,6-3-2-2-4 1-4 4-2 24-6 18-1 3-1 2-2 2-6 3-3 10-2 38-1 4-1 0-3 1-32-1-10 2-10-1-42 0-4-1-4-2,0-4,0-18,2-8,3-8,5-2,1-4,0-2-1-2-4-1-2 1-4 4-2 12-1 14-4 16-2 2-1 2-4 1-102 1-8-1-26 0-64zM478,2223l-2,9 1,4 1,0 7-6-3-2zM478,2116l0,3 2-1 0-2zM497,2190l1,2 4,0 2-1 0-1-4-2-2,1zM501,2086l5,0 8-2-8,0-4,0zM515,2116l3,2 4,0 4,0 1-2-3-2-4-1-4,2zM524,2086l12,2 14,2 12,0 6-2 0-2-18-4-12,2-12,0zM570,2222l-4-2-4-2-8,0-14,2-40,0-4,2-8,8 10,2 10,6 6,0 6,0 18-3 12-5 16,0 3-2zM547,2258l-1-3-6,0-6,1-18,1-3,1 1,2 12,4 6,2 6,0 4-2 4-4zM563,2290l1,0 4,2 3-2-5-1zM542,2282l0,2 6,2 6,0 3,0-1-2-6-2-4-1zM690,2021l2,0 2,2 1,5-1,4-2,2-2,1-2,0-1-1-2-4 1-6 1-2zM444,2073l2,1 2,2 2,4-1,6-1,3-4,2-2-1-2-2-2-4 1-6 1-2zM402,2152l1-2 5-3 16,4 14,1-28,3-6,0zM414,2250l20,0-14,2zM449,2272l-1,0-2,1-18-4-18-2-10,0-38,4-10,3-14,6-6,0 4-3 24-10 8-2 36-4 10,0 12,2 19,5z" fill="rgb(32,32,32)"/>
<path d="M240,1972l456,0-218,0-1,86 1,5 2-3 2-2 24-2 30-5 26-1 24-3 4-1 2-2 2-6 4-6 4-4 28,0 8-1 4-1 1-2-1-10 3-8 2-2 5-2 8,0 4,0 4,2 0,2 2,18 4,5 2,3 0,36-2,4 1,40 1,4 2,0 4,0 4,4 1,2 1,4-2,3-2,0-8-6-1,3-1,152-2,4-6,9-14,9 1,6-2,6 0,6-3,6-2,2-6,0-4,2 0,2 9,6 1,4-2,1-2-1-10-7-4-5-2-2-22,2-70-1-16-1-16,0-24,0-1,4 0,24 5,1 214,1-456,0zM242,1972l-1,0 0,382 1,1 216,0 5-1 0-24-1-4-2,0-46,0-4-1-9-3-15-3-12,1-16,5-2-1-3-2 1-4 4-4 26-6 18-2 3-2 3-6 4-3 30-2 16,0 4-1 0-2 1-32-1-12 2-12-1-42-1-6-2-1-4,0-16,3-8,2-8,5-6,2-4-1-2-2 0-4 1-4 3-2 12,0 16-4 14-2 4-2 0-2 2-110-1-92zM478,2110l0,6 0,4 6-2-3-4zM495,2190l1,2 4,1 4-1 2-2-2-2-4,0-4,0zM504,2062l6,2 4,0-2-3-4-1-2,0zM570,2088l-2-2-18-5-14,2-32,0-6,1-1,2 5,1 18-1 14,3 16,1 14,0zM514,2116l0,2 2,0 8,1 4-1 0-2-2-4-6,0-4,2zM571,2222l-3-2-8-2-20,2-40,0-6,2-4,5-6,1-4-2-2-5-2,12 2,4 6-4 8-1 6,1 6,3 4,2 16,0 12-2 10-4 4-1 18-1 2-2zM548,2258l-2-3-4-1-32,4-1,0 17,7 6,1 6,1 4-2zM540,2282l2,3 16,3 6,4 4,0 4,0 0-2-10-3-8-5-6-1-4,0zM690,2021l2,1 3,4-1,6-4,3-3-1-1-4 0-6zM444,2074l2,0 1,2 2,4 0,4-1,4-4,2-2,0-1-2-2-4 1-6 2-3zM404,2152l3-2 5,0 2,2-1,0-7,1zM357,2270l5-2 8-2 30-4 12,0 20,4 12,4-38-4-8,0-40,4z" fill="rgb(35,35,35)"/>
<path d="M240,1972l456,0-212,0-7,0 0,86 1,6 0,1 2-5 4-2 22-1 18-5 14-1 24-1 28-4 2-2 3-6 5-8 6-2 24,0 10-1 2-3 0-10 2-4 2-6 2-1 4-1 10,0 4,2 2,2 2,18 5,6 1,4-1,34-1,4 0,36 1,6 1,3 6,0 2,1 2,4 2,2-2,4-2,0-3-2-5-5-1,3-1,4 0,78 0,6-1,66-1,4-8,10-12,8 0,6-2,6 1,6-4,6-3,2-6,0-2,2 0,2 8,6 2,4-2,0-11-8-5-5-2-1-20,2-72-1-16-1-16,0-22,0-2,1-1,3 0,24 3,1 216,1-456,0zM242,1972l-1,0 0,382 1,1 218,0 3-1 0-24-1-4-2-1-46,1-4-1-14-5-18-1-8,1-8,4-4,1-2-1-2-3 0-4 4-3 26-6 20-2 3-2 1-5 4-3 26-2 22,0 2,0 0-3 1-7 0-30-1-8 2-14-1-40-1-5 0-2-2-1-18,2-10,4-8,5-4,1-4,0-2,0-2-4 0-2 2-4 2-2 4,0 10,0 14-4 12-2 5-2 1-2 1-6 0-196-7,0zM478,2107l0,5 0,8 0,1 4-1 8,0-8-6-2-6zM501,2062l3,2 4,1 6,0 2-1 0-2-2-1-6-2-4,0zM572,2088l0-2-22-6-16,2-30,1-8,1-2,2 2,1 4,1 20-1 16,3 14,1 14-1zM494,2190l0,2 4,2 8-1 2-3-2-2-4-1-6,0zM512,2116l0,2 2,1 8,0 6-1 2-1 0-1-2-4-6-2-6,2zM572,2222l-1-2-2,0-9-2-22,2-16-1-22,0-6,2-5,5-5,2-4-2-2-6-2,12 2,6 6-4 10-1 4,1 10,4 10,1 18-3 14-5 20,0 2-3zM478,2302l0,2 2,0 0-2zM548,2256l-2-2-6-1-10,2-26,3 1,0 13,4 10,5 10,1 2-1 4-3 4-4zM539,2282l3,4 14,3 6,3 6,1 6-1 0-2-2-1-10-3-7-4-11-2-2,0zM690,2022l2,1 2,5-1,4-3,2-2,0-1-2-1-4 1-4zM444,2075l2,1 2,4 0,6-1,2-3,1-2,0-1-1-1-4 0-6z" fill="rgb(38,38,38)"/>
<path d="M240,1972l456,0-214,0-6,0 0,84 1,8 1,2 4-6 10-2 8,0-1,4 3,2 8,2 6,0 3-2-8-6 3-2 7-2 19-3 24-1 26-4 3-2 3-9 4-5 6-2 24,0 10-2 3-2 0-2-1-6 2-6 2-6 4-2 4,0 8,0 4,2 2,2 2,18 4,6 1,2 0,36-1,4 0,36 2,10-2,10-1,150-1,4-6,7-4,5-11,6 1,6-2,6 0,6-2,5-2,2-8,1-3,2 1,2 8,6 2,2 0,2-4,0-10-8-4-5-2-1-18,1-74,0-18-2-16,1-22,0-1,2-1,4 0,22 4,1 216,1-456,0zM242,1972l-1,0 0,382 1,1 218,0 4-1-1-22-1-6-2-2-14,1-32,0-18-5-18-1-8,1-8,4-4,1-2-1-2-4 0-2 4-4 8,0 18-6 20-2 3-2 2-4 5-3 30-2 10,0 6,1 2-1 0-3 2-24-1-24 1-10 0-38-2-10 0-1-2-1-18,2-10,3-10,6-2,1-6-1-2-3 0-2 1-2 4-4 13,0 12-3 16-3 3,0 1-3 1-5 1-198-6,0zM478,2084l0,2 0,3 2-3zM574,2086l-24-6-6,0-12,2-30,0-8,2-3,2 1,1 6,1 20,0 18,2 16,1 14-1 5-2zM550,2060l-3,0-3,2 2,0zM478,2105l-1,5 1,11 16-1-8-5-3-3-1-4zM492,2190l1,2 1,1 4,1 6,0 4-2 2-2-2-2-4-2-10,1zM511,2118l1,0 2,1 12,1 4-2 1-4-1-4-4,0-6-1-4,2zM478,2134l0,7 2-3zM476,2226l0,8 2,4 0,1 4-3 8-2 7,0 9,4 8,2 20-2 18-6 14,0 10,4 4,0 2-2-8-4-1-8-1-2-10-2-28,1-20-3-4,2-16,2-2,1-4,4-2,1-4,0-3-6-1-1zM478,2299l0,3 0,4 4-2 0-2zM549,2256l-1-1-2-2-8-1-10,2-16,2-12,0-2,2 18,4 14,6 4,2 6,0 4-4 4-6zM538,2282l0,2 4,2 12,3 10,5 6-1 5-1-3-3-8-3-6-4-5-2-7,0-4,0zM690,2022l2,0 2,4 0,4-2,3-2,1-2-2-2-2 0-4 2-2zM443,2076l3,0 0,1 2,3 0,6-4,2-2-1-2-3 0-6zM678,2118l2,0 4,2 2,2 0,6-2,0-4-2-2-4z" fill="rgb(41,41,41)"/>
<path d="M240,1972l456,0-216,0-4,0 0,86 2,8 0,1 3-3 1-4 2-1 10-1 3,2-1,2 4,2 8,2 8,0 4,0 2-2-8-6 0-2 4-2 18-3 10-1 14,1 30-4 4-3 2-6 2-6 2-2 8-2 20,0 12-1 3-3 1-2-1-6 1-6 3-6 5-2 8,0 6,2 2,4 1,16 5,6 1,2 0,30-1,16 0,28 1,10-1,12 0,80-1,6 0,66-5,6-4,6-14,8 2,6-2,6 0,6-2,4-3,2-9,2-1,2 1,2 9,8 0,2-3-2-8-6-4-4-4-2-24,1-64,0-20-2-32,1-8-1 0,1-2,4 0,24 6,2 214,0-456,0zM242,1972l-2,0 0,382 2,2 216,0 6-2-1-24-1-4-1-2-19,1-30-1-14-4-20-2-10,2-6,4-4,0-2-1-2-3 0-2 4-3 6-1 20-6 20-1 4-3 4-5 4-1 36-2 8,2 2,0 2-14-1-40 1-10 0-42-2-6 0-2-2,0-18,2-10,2-12,8-6-1-2-5 2-2 2-3 4-1 10,0 12-3 16-2 4-2 1-3 1-6 0-196-4,0zM478,2082l-1,2 1,6 0,1 4-5zM553,2060l-1-2-4,1-10,5 2,1 6-1 6-2zM478,2104l-1,8 1,10 6-1 10,1 4-2-12-6-2-2-2-5-2-3zM576,2086l-1,0-13-3-12-4-48,3-10,2-5,2 3,2 8,1 18-1 16,3 12,1 20-1 8-2zM478,2132l0,1 0,7 0,5 4-7-1-2zM495,2150l1,0 4,1 6-1 2-2-6,0-4,0zM509,2118l9,2 11,0 3-2 2-8-8-2-6,0-4,1-2,1-4,6zM478,2206l0,2 0,1 2-1zM491,2190l1,3 6,2 8-1 4-1 1-3-3-2-4-2-9,0-3,2zM476,2228l0,8 2,3 0,1 6-4 6-1 6,0 12,5 10,0 18-3 16-5 10,0 14,4 4,0 4-2-6-3-2-2-3-9-3-1-10-2-24,1-8,0-7-2-7-1-9,3-13,2-2,2-2,2-4,2-3-2-1-4-2-2zM478,2294l-1,8 1,5 8-5-6-4zM488,2298l1,2 3,0 6,0 1-2-5-2-4,0zM550,2256l-2-3-4-2-8-1-6,3-18,3-14,0-4,0 0,2 22,5 14,7 6,1 4,0 2-1 2-4 5-8zM536,2282l0,2 4,2 14,4 8,4 8,0 4-1 2-1-2-3-19-9-13-1-4,2zM690,2023l2,1 2,4-2,4-2,1-2-1-2-2 1-4zM444,2076l1,0 1,2 2,2-1,4-1,2-2,2-2-2-2-4 1-4zM680,2119l2-1 2,2 2,4 0,4-2,0-4-4-1-4z" fill="rgb(44,44,44)"/>
<path d="M240,1972l456,0-216,0-4,0 0,84 1,8 1,3 0,1 3-4 1-3 3-1 7,0 4,3 10,3 12,1 4-1 3-2-7-4-2-2 1-2 3-2 18-3 24,0 30-4 2-3 1-4 3-8 4-3 4-1 22,1 13-3 3-2-1-8 1-4 2-6 2-2 2-2 10,0 4,1 3,3 2,18 5,5 1,3 0,30-1,10 0,34 1,14-1,10-1,148-1,4-7,8-7,5-8,5 2,6-3,6 1,6-2,2-4,4-8,2-2,2 2,2 8,8 0,1-10-7-4-6-4-1-22,2-68-1-24-2-18,2-10-1-6-1-1,2-1,2 0,26 6,2 10,0-44,0 10,0 6-2 0-24-2-6 0-1-2,0-16,1-30,0-16-4-10-2-10,0-8,2-10,4-4,0-2-2 0-4 2-2 2-1 10-1 18-6 14,0 6-1 2-1 4-6 4-1 36-2 4,1 4,5 2-1 2-16 0-30-1-10 1-14 0-42-2-5-2-2-20,2-8,3-8,6-4,2-5-2-2-2 0-2 1-2 4-3 14,0 12-4 16-2 2-1 0-2 2-6 0-40 0-158-4,0-218,0-2,0zM555,2060l-1-2-6,0-6,2-7,4-1,0 4,2 8,0 6-3zM580,2086l-14-2-12-4-8-1-48,3-12,2-4,0-4-2-1,6 1,3 0,1 2-2 4-2 14,1 20,0 18,3 22,0 12-2 7-2zM478,2101l-1,7 0,12 1,3 6-1 10,0 7-2 1,0-8-3-8-3-1-2-1-6zM549,2108l-3-1-8,1-20,0-4,1-3,5-5,4 2,2 4,0 18,0 3-2 1-4 2-2 6-2 6,0zM478,2131l-1,1 0,10 1,6 2-5 4-5-1-2zM493,2150l1,1 4,1 6-1 8-3-2-1-8,0-8,1zM544,2134l0,1 4-1-2-1zM490,2188l1,4 3,2 4,2 8-1 6-3 0-3-2-2-6-1-10,0zM478,2205l-1,1 1,4 3-2zM476,2222l0,14 2,4 6-4 10,0 14,4 10,0 19-2 9-4 8-2 8,1 12,4 8-1 4-2-1,0-7-4-2-4-1-4-5-3-10-2-24,1-18-4-8,0-6,3-12,3-8,5-2-1-2-4-2-3zM478,2307l0,1 12-4 11-4 1-2-2-2-8-1-4,0-6,1-4-3 0,1zM550,2258l0-4-2-2-6-3-4-1-6,0-2,3-8,3-12,1-14,0-4,1 0,2 2,0 22,5 16,8 6,1 6-1 1-5zM535,2282l1,2 2,2 14,4 6,4 14,0 2-1 2-1-4-4-14-7-6-2-10-1-4,1zM690,2023l1,1 2,2 0,4-3,3-2-1-1-4 1-4zM444,2077l2,1 1,2 0,4-3,3-1-1-2-2 0-4zM680,2119l3,1 3,4 0,2-3,0-2-2-1-2zM242,2356l-2,0 0-2z" fill="rgb(47,47,47)"/>
<path d="M240,1972l456,0-218,0-2,0 0,86 1,8 1,2 5-4 1-2 2-2 3,0 3,3 10,3 10,2 8,0 8-2 18,0 4,0 6-4 1-2-1-2-6-1-18,6-6,0-6-2-2-3 0-2 4-2 14-2 26-1 20-3 10,0 6,3 22-7-1,0-7-1-12,3-4,0 0-6 2-5 2-5 6-2 22,1 12-2 3-1 1-2-1-10 2-6 3-4 4-2 12,1 3,3 2,18 5,5 0,3 0,32-1,8 1,32 0,16 0,10-2,148 0,4-10,10-14,8 2,2 1,4-2,6 0,6-1,3-4,3-8,1-3,3 2,2 8,8-3-1-6-5-4-6-4-2-20,3-70-1-22-2-8,0-10,1-12,0-6-1-2,6 0,24 6,2-24,0 6-2 0-24-2-6-2-2-18,2-26,0-6-1-14-3-20-2-6,2-10,4-2,0-2-2-2-2 1-2 1-2 2-1 8-1 20-5 16-1 8-2 6-5 34-1 3,0 5,5 2,0 2-1 2-20-1-40 1-18-1-38-1-5-2-1-22,2 8-2 14-2 2-4 2-4 0-200-2,0-220,0-2,0zM590,2084l-2-1-10,1-10,0-16-6-8,0-18,1-40,5-4-1-4-2-1,5 1,7 0,2 2-4 4-2 14,1 20-1 16,3 24,0 11-2 19-4zM627,2300l7,1 8-1-4-2-11,2zM476,2120l2,4 4-2 14,0 10-2 28,0 2-6 0-1 6-2 7-1 2,0 0-2-5-2-12,2-18-1-4,1-2,5-4,4-2,1-6,0-4-2-7-4-1-2 0-4-6-4-2-3-1,7zM478,2130l-1,4 0,14 1,3 4-7 6-4-1-2zM491,2150l1,2 6,0 10-2 7-2-3-1-8-1-10,2zM537,2122l3,1 4-1zM549,2132l-5,0-2,3 2,1 2,0zM478,2162l0,1 0,4 0,1 2-2zM489,2190l0,2 3,2 6,3 8-1 6-2 2-2-2-3-2-2-8-2-10,1-2,2zM484,2206l-6-2 0,7 6-3zM476,2220l0,10 2,11 4-3 6-2 8,1 16,4 6,0 14-2 22-6 6,0 8,3 8,1 7-1 4-2-1-1-7-3-2-4-1-6-12-3-10,0-18,1-14-4-14,0-8,3-10,3-6,4-2-1-4-6 0-1zM478,2253l0,1 0,4zM550,2258l0-4-3-4-3-2-8-1-6,1-4,4-6,2-8,1-18,0-4,1 0,2 4,1 22,5 12,7 10,2 6-1 1,0 1-6zM478,2308l0,1 8-3 14-4 4-2 1-2-2-2-7-2-14,0-4-3-1,3zM534,2284l2,3 6,2 9,3 1,0 0,2 2,2 14-1 9-3 0-2-4-2-15-8-12-2-6,0-4,2zM568,2316l4,2 8-1 4-1 0-2-4,0-8,0-3,2zM690,2024l2,0 1,4-1,2-2,2-2,0-1-2 1-4zM444,2078l1,0 1,2 0,4-2,2-2-1 0-2 0-3zM682,2120l2,0 2,4-2,2-2,0-2-4 0-2zM413,2192l1-4 4-3 4,0 10,1-12,9-5-1zM242,2356l-2,0 0-2z" fill="rgb(50,50,50)"/>
<path d="M240,1972l456,0-214,0-6,0 0,90 2,7 4-4 6-2 20,5 8,0 30-1 4-1 8-4 0-2-2-2-2-2-4,0-16,6-6,0-6-2-3-2 1-2 4-2 14-2 24,0 18-3 8,0 6,3 4,0 24-6 2-2-1,0-7-2-4,0-12,3-4,0 0-3 0-4 5-8 3-1 4-1 20,1 14-2 2-3 0-10 1-6 3-4 4-2 8,0 5,2 2,2 2,18 5,5 0,3 0,34-1,6 1,46 0,8 0,72-2,14 0,66-1,4-7,8-8,6-8,2-14,0-10,0-2,2 2,1 6,1 14-2 4,0 2,2 1,4-3,6 0,6 0,2-4,3-10,2-2,1-6-2-24,3-18-1-28,0-24,0-28-4-6,2-10,1-8-1-2-2-2,6 0,26 4,2-20,0 4-2 0-22-2-9 0-1-18,2-30,0-16-4-22-2-8,2-6,3-4,1-2-1-1-3 0-2 3-2 8-1 20-6 18-1 14-3 34-1 8,2 2-2 2-18 0-44 0-18 0-34-2-6-1-4 2-4 1-6 0-198-6,0-216,0-2,0zM592,2084l-1-2-3,0-12,2-10-1-4-1-6-3-6-1-22,0-12,2-32,3-6-3-1,4 1,16-2,10 0,10 2,5 4-3 14,1 16-2 16,0 9,3 7,0 3-2-1,0-8-3-2-1 1-4 4-2 9-1 2-3-2-2-6-1-10,2-20-1-4,2 0,4-4,4-4,1-6-1-8-4-1-2 1-4-8-6 0-2 0-2 0-4 2-2 4,0 32,0 14,3 20,0 16-2 12-3 10-2zM478,2128l-1,12 1,16 0,1 2-6 2-5 2-2 5-2 3-2-12-9-2-3zM489,2150l3,2 6,0 20-4 0-1-4-1-12,0-10,1zM535,2150l5,0-2,0zM550,2132l-2-1-4,1-2,2 0,2 1,0 3,0 3-2zM478,2161l0,1-1,2 1,4 3-2zM488,2188l2,6 2,1 4,2 10,0 6-2 4-3-2-4-4-2-4-1-8,0-8,1zM476,2218l0,14 2,10 6-4 4-1 8,1 16,4 8,0 20-4 12-4 6,0 14,4 10-1 6-3 0-1-8-5-4-8-10-3-6-1-22,1-14-3-16-1-4,1-4,2-12,3-4,2-2,0-4-6zM478,2212l4-3 10-1 0-2-4,0-6,0-4-2zM478,2248l0,2-1,2 1,8 2-4zM551,2256l-1-5-4-3-6-2-10,0-2,0-2,4-4,2-10,2-20,0-4,2 4,3 18,3 6,3 14,7 10,2 6-2 0-6 4-8zM478,2309l0,1 6-3 18-4 4-3 2-2-4-2-10-3-12,0-4-3-1,14zM518,2292l2,1 14,1 20,3 20-3 4-2 0-2-4-2-16-8-16-4-6,2-3,4 0,2 3,4 0,2-6,1-12,0zM478,2316l2,1 0-1zM564,2316l2,2 6,0 13-2 2,0 0-2-5-1-10,0-4,1-4,2zM690,2024l1,0 1,2 0,4-2,2-1,0-1-3 0-3zM444,2079l2,1 0,4-2,1-1-1-1-4zM682,2120l2,2 0,3 0,1-2-2zM414,2192l0-4 4-2 8,0 2,0 1,2-7,6-4,1-2,0z" fill="rgb(54,54,54)"/>
<path d="M240,1972l456,0-214,0-6,0 0,84 0,8 2,6 6-4 4-2 6,0 14,4 10,1 28-1 6-2 6-4 2-2 0-1-2-2-4-1-6,0-12,4-8,2-4-1-4-3 0-2 2-1 4-1 18-3 16,1 20-3 7,1 7,3 4,1 16-6 10-2 2-2-2-1-10-2-4,0-10,3-2,0-2-2 0-3 4-8 4-2 2,0 22,1 12-3 4-3 0-2 0-6 1-6 3-6 4-2 8,0 4,2 3,2 1,18 6,6 0,2 0,34-1,8 1,44-1,8 0,80-1,6 0,66-1,4-7,9-10,6-6,1-30-1-2,1 0,2 2,1 10,2 6,0 10-2 4,1 2,2 1,2-3,6 0,8-4,2-12,2-8-1-10,3-10,0-40,0-34-1-18-3-14-5-6,0-4,1 9,4-1,2-12,0-2,0-2-2 2-6-3-4 1-2 4-2 22-6 3-2 1-2-4-3-12-3-12,0-3-2-1-8 0,6-1,4-1,10 1,6 1,4 0,8-2,8 0,26 4,2-20,0 4-2 0-24-1-6-1-2-18,1-30,0-16-3-12-2-10,0-8,2-6,3-4,1-2-1-1-3 0-2 3-2 10-2 12-4 8-1 14-1 10-2 28,1 14-1 8,1 0-2 2-17 0-44 0-12 0-42-2-10 2-10 0-198-6,0-216,0-2,0zM594,2084l-4-3-6,0-8,2-10,0-12-5-4-1-22,0-10,3-30,2-6,0-4-3-2,5 1,16-1,16 2,10-2,8 2,35 6-3 0-2-4-2-1-2 3-12 2-3 9-3 1-2-12-9-3-3 1-4 2-1 12,1 16-3 18,1 12,3 7-1 2,0 1-2-1,0-9-3-2-1 0-2 4-3 8-1 2-1 1-3-2-2-7-1-12,1-20,0-4,2 0,4-1,2-5,2-4,0-4-1-6-3 0-2 2-4 0-2-8-3-2-3 0-4 3-2 3-2 30,0 16,4 22,0 38-8 2,0zM478,2184l0,2 0,10 1,0 1-8 0-2zM488,2150l2,2 4,1 29-5-7-2-12-1-14,1-2,2zM542,2150l-1-4-12,4 4,2 5,0 2,0zM552,2131l-2-1-6,2-3,2 0,2 1,1 4,0 4-3zM478,2202l-1,4 1,8-2,12 0,8 2,10 2-4 4-2 10,0 22,5 6,1 3,4-1,2-1,2-5,1-8,1-18,0-5,2 0,2 3,1 24,5 11,8 11,4 1,0-6,8 1,4-16,2-2,2-1,0 1,2 4,0 12,0 22,4 6,0 20-4 1-2-3-4-18-8-12-4 2-4-2-4 1-4 4-6 1-2-1-4-3-4-6-2-19-2 3-2 12-3 14-5 6,0 10,4 6,0 12-2 2-1 1-1-7-6-4-7-4-2-12-3-26,1-24-4-8,0-8,3-12,4-5-4-1-2 1-2 3-2 2-1 10-1 1,0-1-2-2-1-8,0zM486,2188l1,2 3,5 4,2 2,1 10-1 13-3-5-6-6-3-8-1-8,1-4,1zM544,2182l4,1 5-1-5-1zM478,2245l0,1-1,6 1,12 3-8zM565,2306l1,2 4,1 6-1 2-2-2-1-6-1-4,1zM561,2318l3,1 8,0 12-1 6-2-2-2-4-2-14,0-6,2-2,0zM690,2025l2,1 0,2 0,2-2,1-2-1 0-2 0-2zM444,2081l0,2zM682,2122l2,0 0,2-2,0zM428,2188l-3,4-3,2-4,1-2-1-2-2 0-4 4-2 4,0z" fill="rgb(57,57,57)"/>
<path d="M240,1972l2,0zM457,1972l26,0-7,0 0,88 2,11 6-5 4-1 6,0 16,3 16,3 8-2 18-1 9-6 0-2-3-4-4,0-6,0-10,3-8,2-6-1-2-4 2-2 4-1 16-1 16,0 22-2 4,0 6,4 6,1 16-6 10-2 3-1 0-2-1-1-8-3-8,0-10,3-2,0-1-1 2-8 3-4 4-1 22,1 12-2 4-4 0-10 2-6 2-4 6-2 6,0 4,1 2,3 2,18 5,6 1,2 0,28-1,12 1,50-2,158-2,2-7,10-5,2-4,2-8,2-30-3-8,0-3,1 5,2 1,2 13,3 8,1 12-2 5,0 1,4-3,6 1,6-4,3-12,2-8-1-2-4-4,0-2,0 0,2 4,2-1,2-11,2-68,0-12-2-14-2-16-6-12,0-4-2-2-2 1-2 2,0 23-7 5-3 2-4 3,0 12,0 28,3 24-5 0-2-1-2-5-3-15-7-11-4 1-4-2-6 5-8 0-6-1-2-3-3-17-5 1-1 20-6 4,0 12,3 10,0 8-2 4-2-4-4-7-10-5-1-10-2-26-1-18-2-18-2-4,3-6,2-6,2-4,0-3-3 0-4 1-1 4-1 11,0 2-2-1-2-2-2-12,0-3-2-1-2 2-6 2-6-4-5-1,3 1,16-2,4 1,8-1,14 1,14 0,18 1,10 0-1 1-7 2-4 3-1 6,3 24,5 11,7 9,4-4,6 0,5-2,1-14,2-6,4-14-2-12,0-2-4 0-4-2-4 0-1-2,25 2,10 0,8-2,8 0,24 3,2-18,0 3-2 0-26-2-6 0-1-20,2-28,0-20-4-12-2-8,0-6,2-8,4-2,0-2-1 0-4 2-2 8-1 14-4 8-2 12-1 12-1 14,1 14,0 12-1 8,1 2-2 2-22 0-38 0-12 0-42-2-10 2-14 0-196zM596,2084l-3-2-3-2-4,0-10,3-6,0-8-1-10-5-12,0-12-2-2,1-8,3-24,3-10,0-6-4-2,4 1,18-1,10 1,14 0,42 1,4 4-3 12-1-1-2-1,0-8-1-4-1 0-4 1-6 3-3 4,3 4,2 30-4 12,3 6,0 3-1 1-8-2-1-5,1-9,3-16-3-19,0 5-4-1,0-15-10-2-4 0-2 2,0 18,0 10-2 14,0 4,0 10,3 10,0 3-1 0-2-11-4 0-2 2-2 8-2 3-2 1-2-4-2-6-2-14,2-16-1-8,3 1,4-1,2-6,2-6-2-4-2 0-2 2-3 0-1-4-4-6-2-1-4 2-4 7-1 26,0 14,3 22,1 28-7 14-2 2,0zM558,2318l0,2 2,0 12,0 14-2 5-2 1,0-2-2-2-2-9-2 5-2 0-2-8-2-10,0-2,0-2,2 2,4-4,4zM485,2188l1,2 2,4 4,4 4,0 4,1 10-1 12-4 0-2-4-1-6-5-4-2-14,0-6,2zM531,2166l1,1 2-1-2-1zM541,2182l7,2 4,0 4-2-2,0-6-2-6,0zM553,2130l-1,0-8,1-2,1-2,4 2,2 4-1 5-3zM594,2226l4,0 3,0 0-2-3,0-4,0zM690,2026l2,2-2,2-2-2zM414,2190l1-2 3-2 6,0 3,2-1,2-1,2-5,2-4,0-2-2zM479,2244l1-2 4-3 12,0 8,1 16,6 2,2 1,2-2,2-7,1-22,0-4,1-4,2-3-4zM481,2320l1-1 4-1 6,3 1,1-3,2-6,0-2-2z" fill="rgb(60,60,60)"/>
<path d="M240,1972l2,0zM459,1972l22,0-5,0 0,92 2,8 4-4 2-2 8,0 26,4 3,2 1,2-1,2-4,2-21,3-12,0-3-1-3-2-2,6 0,82 2,5 4-3 12-1 2-1-2-2-12-2-2-4 2-6 2,0 6,2 28-3 8,0 14,3 4-2 2-6-1-2-3-2-6,0-10,3-26-2 0-3-18-10-2-2 1-4 3,0 12,0 16-2 10,0 6,0 12,4 6,0 6-1 1-3-1-2-10-2 0-2 8-3 4-3 0-2-2-2-8-2-14,1-18,0-8,3 2,4-1,2-1,0-6,1-4-1-3-4 2-2 0-2-3-4-6-2-2-2 1-4 1-1 6-1 28,0 10,2 16,0 6,2 30-7 14-2 2-1 1-2-2-2-5-2-4,0-8,2-8,1-6-1-10-6-14,0-8-1-2-1 0-2 2-1 4-1 12-1 6-1 6-4 3-4-3-2-4-3-8,1-18,4-6-2-1-2 1,0 5-2 7-2 12,0 10,1 18-3 9,0 7,5 8,1 18-7 6-1 4-2 0-2-2-2-8-2-6,0-12,2-2,0 0-2 3-8 5-3 22,1 12-2 2-2 2-2 0-10 2-6 2-4 4-1 6-1 4,1 4,3 2,18 4,5 2,3 0,30-2,10 2,46-1,12 0,58 0,20-1,8 0,64-2,2-8,10-6,3-6,2-20-1-16-2-6,0-10,2 4,2 2,2-1,0-3,3-8,2-6,0-16-2-8,0-1,1-1,6-6,10 2,1 14,0 22-3 2-1 0-1-6-6 2-2 20-5 8,0 12,1 16-2 4,2 0,2-4,6 1,6-1,2-6,2-10,0-4-2-4-3-4,0-5,1 1,2 4,2-1,2-9,2-68,0-10-2-18-4-12-4-16-2-2,0 0-2 2-2 24-6 4-2 3-4 3-1 12,0 26,3 26-6-6-6-26-12 0-4-2-4 0-2 4-8 0-8-4-4-10-3-1-1 9-5 6-1 4,0 8,2 6,1 14-1 6-3 1-1-3-4 0-2 2-1 10,0 2-1 1-2-3-1-6,0-8,2-6-5-14-3-6-1-22,0-16-2-22-3-2,1 0,2-2,2-12,2-4-2 0-3 0-1 4-2 6,0 8,1 0-5-4-2-12,0-2-2-1-2 3-10 2,0 6,8 6,2 16-2 10-4 3-2-5-2-8-5-4-1-12,0-12,2-6-4 0,1-1,3 0,28-1,12 0,6 1,10-1,18 2,11 1-3 1-6 0-2 2-2 2,0 28,7 11,7 8,4 1,2-5,8-15,4-8,2-12-2-10,0-2-2 0-6-2-5-2,25 2,12-2,14 0,26 2,2-16,0 2-2 0-22 0-6-2-5-22,2-26,0-18-4-20-2-6,1-10,5-2,0-2-1 0-2 0-2 2-2 10,0 12-5 8-2 22-1 16,1 14,0 10-1 12,0 0-1 2-21 0-44 0-8 0-44-2-10 2-10 0-198zM528,2164l0,2 2,2 4,2 2-2 0-4-2,0-4-1zM538,2180l1,2 3,2 6,1 6-1 4-2-1,0-13-2zM555,2130l-3-2-8,3-5,3 1,2 2,2 4,0 6-4zM690,2026l1,2-1,2-1-2zM414,2192l1-4 2-2 5,0 4,1 0,1-3,4-3,2-2,0zM480,2244l2-3 4-1 10,0 24,8 2,2-2,2-8,1-22-1-6,2-2-2zM482,2322l2-2 4,0 1,2-5,1z" fill="rgb(63,63,63)"/>
<path d="M664,2004l2,3 2,17 4,4 2,4 0,14 0,18-2,8 1,48-1,158-2,4-6,8-4,3-4,2-6,2-34-3-23,2 7,4-1,0-3,2-8,2-12,0-14-3 0-2 4-1 14-3 3-1-7-6-24-12-4-8 0-2 4-8 0-8-3-4-7-4-1,0 0-2 5-2 5-2 3,0 10,3 14,0 7-1 7-4 0-2-1-2 1-1 10-2 2-1 0-2-2-1-4-1-12,1-10-5-18-2-20,0-36-5-2-1 0-4-4-3-6-1-6,1-3-1-1,0 0-4 2-4 2,0 10,6 4,0 16-2 14-6-2,0-4-2-12-6-12-1-14,2-3-1-3-4-1,6 0,14-1,24 0,10 1,8-1,14 2,16-2,22 1,24-1,10 0,26 2,2-16,0 2-2 0-24-1-8-1-2-18,2-28,0-24-4-20-2-2,1-10,5-2,1-2-1 0-2 2-4 10,0 10-4 12-3 24-1 12,1 16,0 10-1 10,1 0-1 2-20 0-44 1-12-1-42-2-8 2-12 0-198-4,0 20,0-4,0 0,86 2,16 2-4 4-2 4-2 4,0 24,5 2,2 2,3-2,2-6,1-20,2-10-1-2,0-2-4-2,6 0,86 2,4 4-4 12,0 4-1 0-1 0-2-4-2-10,0-2-2-1-2 3-3 8,0 24-4 10,1 12,2 4,0 2-2 3-8-5-3-4,0-14,3-18-2-4-3-19-9-2-2 1-3 2-1 14,0 16-2 12,0 14,4 8,2-9,6-1,2 4,4 2-1 6-3 4-4 2-4-2-2 0-4-1-2-10-4 1-1 8-2 2-3 1-2-1,0-3-2-7-3-6,0-8,2-20,0-9,3 3,3 0,1-4,2-6-1-2-3 4-2-1-2-5-5-6-3 0-2 2-2 8-2 22,0 14,3 14,0 6,2 28-7 15-2 3-2 2-2 0-2-2-1-6-2-6,1-8,2-8,0-6-2-8-4-12,0-6-1-3-1 1-2 4-2 12,0 4-2 10-6 0-2-8-6-24,5-6-1-1,0 0-2 5-2 8-2 10,0 10,2 14-3 8-1 4,1 8,5 6,0 26-7 4-3 1-2-2-2-11-3-4,0-12,3-2-2 2-8 4-2 4-1 20,1 12-2 2-1 2-3 1-2-1-6 2-8 2-4 6-1 6,0zM526,2164l2,4 2,2 4,1 4-1-2-6-2-2-4,0-3,2zM536,2180l3,2 9,4 6,0 5-4-1-1-10-2-10,0zM415,2190l1-3 4-1 4,1 2,1-4,5-2,1-2,0-2-1zM480,2214l0-2 2-1 4-1 8,1 2,3-4,2-6,2-4-1zM481,2244l1-2 2-2 14,0 20,7 2,3-2,2-6,1-28-1-1-2zM478,2274l2-6 0-6 2-2 2-1 28,7 10,7 8,3 1,2-5,8-4,1-18,4-12-2-8,1-2-2 0-4zM488,2284l0,2 1,0 3,0 1,0-1-2-2,0zM484,2312l2-2 26-7 8-5 22,1 16,3 1,8-5,6-4,4 2,2 24-1 19-3 1-2-5-6 1-1 20-5 6,0 14,1 14-3 4,2-2,5-5,3 3,6-2,2-6,2-6,0-4-2-4-4-6,0-8,2 5,4-1,2-6,2-8,0-18-1-20,1-28-1-24-6-10-3-14-2zM628,2314l4,0 8-2-2-1-6,0-4,1z" fill="rgb(66,66,66)"/>
<path d="M664,2004l2,2 2,18 4,6 2,2 0,26-2,14 1,48-1,88 0,6 0,62-2,6-6,8-6,4-8,2-34-2-28,0-4-1-10-7-19-10-6-8 0-4 3-6 1-8-3-6-4-2-1-2 3-2 4,0 10,2 16-1 8-1 6-4 2-2-1-2 1,0 10-3 1-1-1-2-6-2-14-1-8-3-14-2-24,0-34-5-3-1 0-6-2-2 1,0 14-2 14-6 1-2-7-2-8-6-6-1-6,0-14,1-6,0-2-2-2-6 0,2-2,10 0,26-1,12 1,16 0,18 1,12-1,20 1,28-1,10 0,24 2,2-16,0 2-2 0-20 0-10-2-3 0-1-18,2-28,0-18-3-25-3 2-2 5-3 12-2 20-1 14,2 16,0 10-1 10,0 1-1 1-24 0-38 1-14-1-40-1-10 1-16 0-194-3,0 18,0-3,0 0,90 1,12-1,10 0,82 2,8 2-4 2-1 16-1 2-2-1-2-5-2-10-2-2,0 1-2 1-1 34-5 8,0 12,3 6-1 1-2 3-6 0-2-3-4 10-8 3-4-3-6-1-2-8-4 6-3 3-3 0-2-5-3-6-3-4,0-10,2-16,0-16,2-4-1-8-7 0-2 2-2 6-1 22,0 12,3 16,0 6,2 26-8 20-3 3-3-1-2-4-2-8-2-10,4-6,0-7-2-7-5-16,0-5-1 0-2 5-2 12,0 4,0 4-4 8-4-1,0-8-8 5-2 10-1 6,0 4,1 6,4 8,1 6-1 10-4 8,0 6-5 2-3-1-2-3-2-8-2-6,0-12,2-1-4 3-4 2-2 4,0 18,1 16-3 2-4 0-10 4-8 2-2 4-1 8,0zM524,2164l2,6 2,2 10-1 2-1-1-2-1-4-2-2-8,0-2,1zM534,2180l10,6 4,0 6,0 6-4-2-1-12-2-10,0zM551,2054l-19,4-4,0-2-2 0-1 2-1 10-2 8,0zM478,2074l4-5 6-2 6-1 18,4 4,2 2,4-2,2-6,1-24,2-6-2-1-3zM495,2110l3-1 2,1 1,2-1,0-2,1-2-1zM544,2128l-6,6 0,5-2,1-10,3-12,0-7-1-3-3-16-8-5-3-1-2 2-1 12,0 16-2 12-1zM424,2188l0,2-4,4-3,0-2-2 1-3 2-2 4-1zM480,2200l2-4 2,0 4,2 2,2-2,2-6,0-1,0zM480,2215l2-3 4-1 6,1 2,2 0,1-4,1-6,2-2-2zM482,2244l2-3 12,0 4,1 8,3 6,2 4,3-2,2-4,0-16,0-10-3-4-3zM481,2262l1-2 2,0 24,5 6,3 8,6 6,2 1,2-5,6-4,2-14,4-8,0-2-2 0-4-2,0-4-2-6,1-3-3-2-4 0-4 2-6zM565,2300l3-2 6-2 12-1 8,3 2,2-6,3-8,1-14-2-3-2zM486,2312l4-2 22-6 14-1 8-3 6,0 10,1 5,1 2,4 0,2-3,7-6,5-1,0 1,2 2,1 4,1 22-3 22-3 1-2-6-4 1-2 18-5 6-1 14,2 14-3 2,1 1,2-1,2-4,2-14,0-8,4-14,4 6,4 0,2-4,1-8,1-18-1-20,1-12-2-8,1-8-1-26-5-10-4-11-1-3-2zM628,2318l4-3 6-1 6,1 1,3-3,2-6,1-4-1-2,0zM356,2320l0-2 2-1 4-1 4,2-2,2-4,2-2,0z" fill="rgb(69,69,69)"/>
<path d="M462,1972l16,0-2,0 0,92 1,10-1,8 0,86 1,6 0,6-1,10 0,26-1,16 1,12 0,60 1,8-1,16 0,26 1,2-14,0 1-2 0-24 0-6-2-4-18,2-28,0-38-6-3-2 5-2 10-3 20-1 18,2 22-1 12,1 1-2 1-22 0-44 1-8-1-42-1-12 1-10 0-198zM663,2004l3,2 0,2 2,16 1,2 3,4 1,2 0,34-1,6 1,48-2,160-7,10-2,2-6,3-4,1-36-2-12,0-18,0-4-3-6-5-10-4-10-6-6-8 0-4 4-8 0-4-2-6 4-4 6-1 26-4 4-2 4-5 8-3 2-1-2-2-4-2-14-1-22-5-26,0-34-6-2-2 2-5 8-1 6-4 14-6-10-3-7-5-5-1-10-1-16,2-2-2-2-2-1-4 1-4 2-3 16-1 3,0 1-2 0-2-2-1-13-3-1-2 16-4 12-2 10,0 14,3 4,0 2-1 5-8-1-3-2-3 12-12 0-2-2-4-6-6 6-6 0-2-2-2-6-3-4-1-6,0-8,2-16-1-16,3-2-1-4-3-3-4 0-2 5-2 16-1 18,3 14,0 6,3 28-8 18-3 4-2 2-2-2-2-10-4-2,0-8,2-6,2-4,0-6-2-2-2 0-2 7-4-4-4 1,0 2-2 10-1 6-3-14-2-4-2-3-4 9-2 10-1 4,1 6,6 6,0 10-2 6-2 12-2 6-6 0-2-2-3-6-4-2,0-8,0-10,2-2-1 0-4 2-2 4-2 12,0 10,2 12-4 3-2 2-2-1-10 4-8 4-3zM523,2164l1,6 2,2 6,0 10-2-3-4-1-2-2-2-8,0zM532,2180l4,2 10,5 8-1 4-2 3-2-1-2-12-2-14,0zM528,2056l1-2 5-1 10-1 4,2-12,4-6,0zM479,2074l2-4 3-2 4-1 6,0 16,3 4,2 2,4-2,2-6,1-12,1-12,0-4-2zM538,2074l0-2 4-1 6,0 4,1-2,2-6,1zM483,2126l1,0 12,0 18-3 8,0 20,5 0,2-6,4-1,4-1,2-10,2-10,0-6-1-4-3-14-6-6-4zM416,2192l0-2 2-3 2,0 4,1 0,3-4,2-2,0zM481,2200l1-2 2-1 2,1 2,2-2,2-4,0zM481,2214l1-2 2-1 8,1 0,2-1,2-5,1-2,0zM483,2244l3-2 12,0 8,4 8,2 2,2-4,2-12-1-6-1-3-4-7,0zM482,2262l2-1 22,5 4,1 10,8 6,2 1,3-4,4-5,2-10,2-7,0-2,0-2-4-7-2-6,0-2-2-3-4 0-4 3-6zM496,2268l0,2 4,0 3,0-1-2zM567,2300l3-2 4-2 10,0 6,2 4,2-4,2-8,1-11-1-3-2zM556,2308l-4,6-7,6 0,4-5,0-8,0-8-4-10-1-10-3-14-4-2,0 2-2 22-6 16,0 12-3 6,0 6,1 2,2zM649,2306l-3,3-2,1-10-2 2-2 8-3 4,1zM629,2308l-11,6-10,2-6,0-7-4 1-2 4-2 16-3 6,1zM631,2318l1-1 4-1 4,0 4,2-2,1-4,1-4,0zM356,2320l1-2 3-1 5,1-1,2-4,2-2,0zM612,2322l0,2-2,0-8,2-18-2-24,0 40-6 6,1z" fill="rgb(72,72,72)"/>
<path d="M462,1972l16,0-2,0 0,86 0,14 0,94 1,8-1,40-1,10 0,10 1,8 0,64 1,6-1,22 0,20 1,2-14,0 1-2 0-24 0-8-2-3-18,3-28,0-32-6-7-2 5-2 10-3 18,0 14,1 18,0 12,0 6,0 2-1 2-3 0-38 0-24 1-14-1-40-1-8 1-12 0-198zM662,2004l2,0 2,4 1,16 5,6 1,2 0,30-1,10 0,40 0,88-1,12 0,68-9,11-3,3-5,2-6,0-32-3-18,1-12-1-4-2-6-4-12-7-7-4-7-8 0-2 0-2 3-6 1-8 0-4 4-4 12-2 12-1 8-3 8-5 6-3 2-2-1-2-5-2-14-2-22-4-6-1-20,0-32-4-4-3 4-3 8-3 6-4 15-8-11-1-10-6-6-1-20,1-4,0-3-3-1-6 2-4 4-1 14,0 4-1 0-3-2-1-9-6 3-2 10-2 10-2 8,0 12,4 4,0 6-2 4-9-3-5 1-2 8-6 4-4-2-6-6-6 4-8-1-2-7-3-6-2-12,2-16,0-10,1-6,1-6-3-1-4 0-2 1-1 6-1 14,0 16,3 14,0 6,2 24-7 20-4 6-2 2-2-1-2-5-3-6-2-4,1-10,3-6,0-5-1-1-2 0-3 9-3 0-4 1,0 10-4 4-4-12,0-6-1-5-3-1-2 6-2 12,0 4,2 4,4 6,1 9-1 9-3 12-1 6-6 1-2-1-4-2-4 1-6 3-2 10-2 2-2 1-4-1-6 2-6 2-4 4-3zM522,2164l0,8 2,2 4,0 14-2 2-2-4-4-1-4-3-1-8,0-4,1zM528,2178l2,3 8,3 3,4 1,0 13-2 5-2 2-2-1-2-15-2-16,0zM600,2036l2-4 4-2 10,0 5,2 3,2-4,2-16,2-3,0zM529,2056l7-3 10,1-6,2-6,1-4,0zM480,2074l2-3 2-2 6-1 6,0 14,3 4,3 0,2-1,2-7,1-20,1-4-1-2-3zM486,2128l2-2 32-3 8,1 11,4 1,2-6,4 0,4-2,2-8,1-10,1-4-1-6-4-12-5zM416,2190l0-2 2-1 2,0 4,1 0,2-4,3-2,0zM482,2200l2-1 1,1-1,1zM482,2214l0-2 2,0 6,0 1,2-1,1-4,1-4,0zM497,2248l1-2 4,0 10,2 2,2-2,1-8,0-6-1zM480,2274l2-6 0-6 6,0 8,2 5,2-9,2 2,2 4,2 14-1 6,5 7,2 0,2-3,2-6,4-12,2-2-2-1-2-3-2-16-2-2-2zM569,2300l1-2 4-1 8-1 6,2 3,2 1,0-2,2-6,0-10,0zM554,2308l-4,6-7,6-1,3-6,1-10-4-12-1-10-4-10-2-2-1 2-2 18-5 16,0 14-3 4,0 6,2zM638,2306l6-2 2,0 2,2-2,2-2,1-2,0-4-1zM624,2308l0,2-6,4-8,2-8-1-6-3 1-2 3-1 14-3 4,0zM357,2320l3-3 4,1-4,4-2,0zM634,2318l1,0 1-1 4,1-2,1zM610,2324l-2,0-6,1-20-1-16,0 10-1 8-2 12-1 6,0 4,0 4,2z" fill="rgb(75,75,75)"/>
<path d="M462,1972l16,0-2,0 0,92 0,10 0,10 0,84 1,10-2,50 1,14 0,80 0,8 0,24 1,2-14,0 1-2 0-22 0-10-2-3-20,2-26,1-32-6-6-2 4-2 10-2 18-1 18,2 22-1 12,0 2-4 0-22 0-38 1-14-1-40-1-12 1-14 0-194zM662,2004l2,1 2,1 2,18 4,6 1,2 0,32-2,8 1,38 0,96-1,8 0,62-1,4-8,11-4,3-6,2-32-3-22,1-12-2-10-6-12-6-14-12 0-4 4-6 1-6-1-6 6-3 6-2 18-2 6-3 16-8 1-2-1-2-6-2-14-2-22-4-26-1-26-3-8-2-1-2 3-3 10-3 6-6 16-6 16-3 8-5 0-2-4-1-24-2-2-1 0-2 14-2 0-2-6-4 0-4-2-2-10,0-6,2-2,2 1,4-1,4 4,6 14,8 0,2-4,1-10-1-10-5-4-1-26,0-2-2-2-6 2-4 4,0 14,0 5-2 1,0-2-4-8-6 4-2 10-3 6-1 8,1 12,3 4,0 5-2 3-3 2-7-2-4 0-2 10-8 2-2 0-4-6-8 0-2 3-4-1-2-8-6-1-2 25-8 25-4 3-2 1-2-1-3-12-5-4,1-6,3-6,1-6-1-3-2 0-2 1-1 8-2 2-1 0-4 1,0 13-8 14-2 12-3 8-1 4-1 6-7 0-2-2-6 1-6 3-2 8-2 3-4 1-2-1-6 3-10 4-2zM601,2036l1-4 4-2 8,0 7,2-1,2-6,2-12,1zM564,2054l8-2 6,0 4,2 3,4-3,1-10,1-6-2-2-2zM542,2054l-8,2-3,0 7-2 4,0zM480,2074l1-2 3-2 4-2 6,0 14,3 4,2 1,3-1,1-4,1-22,2-4-2zM492,2098l2-2 2-1 16,0 16,3 12-1 5,3-1,0-6,1-8,2-16-1-10,2-6,0-5-2zM538,2130l-2,1-5,1 0,2 1,4-2,1-6,2-10,1-4-2-10-6-7-2-4-4 1,0 26-4 6,0 6,0zM422,2188l1,2-1,2-4,1-2-1 0-2 2-2zM482,2214l4-2 3,2-3,2-2,0zM502,2248l4,0 5,2-5,0-4,0zM480,2274l4-6-1-4 2-2 3,1 6,1 0,2-6,2 2,2 6,2 14,1 6,5 4,2-1,2-5,2-8,2-9-4-13-2-2-2zM571,2300l1-2 4-1 6,0 5,1 2,2-3,2-6,0-6-1zM552,2306l0,2-5,6-9,8-2,0-26-4-15-6 3-2 14-4 14,0 18-2 6,0zM640,2307l1-1 3-2 3,0 0,2-1,1-2,1zM621,2308l-3,4-6,2-8,1-4-2-2-1 0-2 2,0 10-2 8-1 2,1zM357,2320l1-2 4-1 1,1-3,3-2,1zM584,2322l10-2 8,0 6,2 1,2-5,1-8,0-8-1z" fill="rgb(80,80,80)"/>
<path d="M463,1972l14,0-2,0 0,90 1,12 0,10 0,84 0,6-1,50 1,18 0,68-1,44 2,2-14,0 2-2-1-26 0-7-2-3-8,2-10,0-32,1-24-4-6-2-1-1 3-2 4-2 14,0 10,0 14,2 16,0 10-1 10,1 1-2 1-2 1-30-1-34 1-14-1-40 0-8 0-12 1-198zM660,2004l4,0 1,2 2,18 5,6 0,2 0,26-1,14 1,12 0,124-2,8 0,62-1,4-7,9-6,3-4,1-34-2-20,1-9-2-5-2-6-4-12-6-6-5-8-6-1-3 5-10 0-4 0-6 4-2 12-3 12-2 8-2 14-7 2-4-1-2-1-2-6-1-16-2-22-4-22,0-28-3-4-2-3-2 3-2 8-4 6-4 4-2 12-4 18-4 4-3 4-3 1-2-1-1-22-3 0-2 6-1 2-1-6-4-2-2 0-8 6-4 4-8-2-8 10-8 2-4-6-10 0-2 2-6-2-2-6-3 0-1 0-2 20-6 10-3 16-3 5-2 2-2-1-3-12-5-10-2-2-4 0-2 12-7 22-5 10-1 6-2 5-7 0-4-1-4 1-6 2-2 7-2 4-4-1-10 3-8 2-2 4,0zM610,2252l2,0 1,0-1-1zM603,2034l1-2 4-1 6,1 1,0 0,2-3,0-6,2-2-1zM566,2055l3-1 7-1 2,1 3,2-3,2-4,0-6-1zM481,2074l1-2 4-2 10-1 9,3 3,2 1,2-1,1-4,1-16,1-6-1zM566,2078l2-2 8-1 2,1 1,0-2,2-5,2-4,0zM494,2100l0-1 4-2 14,1 3,2-13,3-6,0zM521,2100l9,0 1,0-5,1-4-1zM530,2128l-4,4 2,4-1,2-11,2-5,0-7-7-8-3 0-2 22-4 8,2zM502,2158l6-4 8-1 10,1 6,4-6,2-14,2-8-2-2-2zM511,2164l3,0 1,2-3,0zM482,2173l1-1 5-2 22,2 4,2 4,6 10,3 5,3-1,0-2,1-6-1-6-4-2-1-14-1-14,2-4-1-2-5zM417,2190l3-2 2,2 0,1-2,1-2,0zM482,2273l0-1 4-1 10,3 8,0 2,2 2,2-2,2-2,0-18-2-4-1zM502,2312l6-4 4-2 14,1 14-1 4,1 1,1 0,4-3,4-4,2-4,1-20-1-4-2-6-2zM603,2312l1-2 4,0 4,0 2,0-1,2-3,1-4,0zM358,2320l1-2 2,0 0,2-1,0zM594,2322l6,0 2,0 0,2-6,0-2,0z" fill="rgb(88,88,88)"/>
<path d="M463,1972l14,0-2,0 0,84 1,18-1,10 1,98-1,42 1,18 0,64 0,8-1,14 0,26 1,2-12,0 1-2 0-24-1-10-2-4-8,3-12,1-30,0-26-4-3-2 3-3 8-1 16,0 16,2 16,0 12,0 8,1 2-5 1-20-1-46 1-20 0-32-1-8 1-12 0-198zM660,2004l3,0 2,2 1,18 6,8 0,34-2,6 1,10 1,60-1,58-1,22 0,46 0,12-8,11-8,3-8,0-30-2-12,1-12-1-6-1-10-6-9-5-5-5-8-6-2-1 0-4 4-6 2-6 0-5 0-1 6-3 22-4 6-2 15-7 2-4-1-2-4-3-18-2-26-5-18,0-26-2-6-2-3-2 3-2 8-4 4-3 4-3 10-3 21-5 7-4 4-4-4-2-12-2 2-4-10-4-2-4 3-6 5-5 3-7 0-2-2-6 13-10 0-4-6-9 2-7-2-2-6-3-1-1 5-3 14-5 12-3 14-2 6-3 2-2 0-2-22-10-2-2 0-2 3-2 9-4 20-5 10-1 6-2 6-8 1-14 9-4 2-3 0-3 0-6 2-9 4-3zM609,2252l1,1 2,1 2-2-1-2-1,0-2,0zM571,2056l1-2 2,0 2,2-2,0zM482,2074l4-2 4-2 4,0 7,2 3,2 2,2-4,2-12,0-4,0-3-2zM497,2100l1,0 5,0-3,2zM516,2128l2-2 5,2-3,1zM508,2134l1-2 3-1 6-1 4,2 3,4-1,0-2,2-8,2-4-2zM506,2158l2-2 6-2 6,0 6,2 0,2-2,0-8,2-4-1zM483,2174l1-2 2,0 10,0 9,2 1,0 1,2-3,3-14,1-4-1-2-3zM484,2274l2-1 6,2 6,1-2,1-10-1zM505,2312l3-4 4-1 16,1 10-1 4,1 1,2 0,4-3,2-2,1-8,1-17-2-5-1z" fill="rgb(96,96,96)"/>
<path d="M464,1972l12,0-1,0 0,148 1,62-2,44 2,16-1,62 1,8-1,16 0,26 1,2-12,0 1-2 0-22-1-10-2-8 2-10 1-64 1-8-1-40-1-12 1-12 0-196zM662,2004l2,2 0,2 2,15 1,3 4,4 1,4 0,24-3,14 2,10 0,14 0,110-1,8 0,64-2,4-5,6-5,4-4,2-10,0-26-2-16,1-10-1-6-2-6-4-12-6-4-6-10-6 0-2 4-8 1-6 0-4 1-2 10-4 22-4 14-6 3-2 1-4 0-2-1-2-5-2-24-2-20-4-18,0-24-2-6-2-4-2 2-1 10-5 4-4 4-2 30-8 4-2 6-4 2-3-2-3-21-8-3-2 0-4 7-10 3-6 0-2-2-6 3-2 9-7 2-3-7-10 0-2 1-4 0-2-6-4-1-2 3-3 16-5 27-6 5-2 2-2-2-3-22-10-1-1 0-2 5-4 9-2 19-4 10-2 5-2 3-2 4-6 0-12 0-2 8-4 2-4 1-2-1-6 3-10 3-2zM608,2252l2,2 2,0 2,0 1-2-3-3-2,1zM484,2074l4-2 6-1 6,2 1,3-3,1-6,0-6-1zM510,2136l2-2 2-1 6,1 2,2-2,2-4,0-4,0zM512,2156l4-1 4,1 2,0-2,2-6,0zM485,2174l3-1 4-1 6,2 2,2-3,2-7,0-2-1zM507,2312l3-3 4-1 10,0 14,0 3,2 1,2-2,3-4,1-14,1-10-1-4-2zM384,2314l4-2 2-1 16-1 20,3 30-1 4,2 0,2-4,2-8,1-36,1-20-3-6-2z" fill="rgb(103,103,103)"/>
<path d="M464,1972l12,0-1,0 0,92 1,10-1,68 1,40-2,44 1,16 0,60 1,10-1,42 1,2-12,0 1-2 0-20-2-20 2-12 0-58 1-18-1-30-1-14 1-12 0-198zM660,2004l4,2 1,18 6,6 0,2 0,26-1,8-2,6 2,12 1,54-1,58-1,20 0,54-1,10-3,6-5,5-6,3-8,0-30-2-18,0-7,0-23-12-3-6-9-6-1-2 0-2 4-6 1-6 0-4 2-2 6-3 20-3 8-3 13-7 3-4-1-2-3-2-4-2-20-2-24-4-20,0-28-4-2-2 2-2 9-4 6-4 13-5 20-5 11-8 0-2-2-2-19-7-4-1-1-2 0-2 6-10 5-9-1-3-1-2 0-2 11-8 2-4-7-10 0-2 2-4 0-2-6-4-2-2 4-3 20-6 24-5 3-2 2-2-1-3-20-9-3-2 0-2 5-3 6-3 20-4 12-2 6-2 5-8 0-12 1-2 6-4 3-4-1-9 4-9 3-2zM607,2252l1,2 4,0 2,0 2-2-2-2-2-1-3,1zM489,2074l2,0 3,0 2,0-2,2zM512,2136l2-2 2,0 2,2-2,1-3-1zM508,2312l2-2 4-2 12,1 10,0 2,1 2,2-2,2-10,2-14,0-4-2zM386,2314l2-2 4-1 16,0 16,3 18,0 12-1 4,1-2,3-6,1-40,1-16-2-6-2z" fill="rgb(111,111,111)"/>
<path d="M464,1972l12,0-1,0 0,164 1,48-1,30-1,12 1,14 1,70-1,44 1,2-12,0 1-2 0-24-2-16 2-14 0-58 1-16-1-36-1-8 1-12 1-114-1-84zM658,2004l5,2 1,16 6,8 1,2-1,26 0,6-3,8 3,12 0,114-1,20-1,60 0,2-6,8-3,4-5,1-10,0-26-2-18,1-8,0-4-2-7-4-11-6-4-6-9-6-1-2 0-2 4-6 2-6 0-4 2-2 10-4 18-3 16-7 4-2 0-2 0-4 0-1-4-2-4-1-24-3-22-4-16,1-20-2-10-2-1-2 3-2 8-4 8-5 30-9 12-8 0-2-2-3-20-7-4-2 0-2 7-10 3-8 0-4-1-2 0-2 13-10 0-1 0-1-4-6-3-6 2-4 0-2-6-4-1-2 2-2 18-6 20-4 8-2 2-2 2-2-2-3-19-9-3-2 0-2 4-3 8-3 18-4 12-1 6-3 6-7 1-15 1-2 4-2 3-4 0-8 3-8 2-3zM607,2250l1,3 2,2 4-1 2-2-1-2-2-2-5,1zM510,2312l0-2 4-1 22,1 2,0 0,2-4,3-14,0-8-1-1,0zM388,2314l0-2 4-1 14,0 20,4 27,1-11,1-34,1-17-2z" fill="rgb(119,119,119)"/>
<path d="M464,1972l12,0-2,0 0,88 1,10-1,52 2,58-1,34-1,12 1,16 0,80-1,6 0,26 2,2-12,0 2-2 0-24-2-18 1-14 0-58 1-14 0-34-2-8 2-16 0-110 0-86zM660,2005l2,1 1,2 0,14 7,8 0,2 0,28-5,12 1,2 3,6 1,18 0,100-2,22 0,48 0,10-6,10-4,3-4,2-10,0-30-2-10,1-10,0-6-2-6-4-12-6-1-2-1-4-10-6 0-4 4-6 1-6 0-4 2-2 11-4 12-1 6-2 18-8 2-3 0-4-2-2-4-2-2-1-24-2-22-4-18,0-22-2-6-1-2-2 2-1 10-5 5-4 33-10 12-8 0-2-3-4-21-6-4-2 1-2 7-12 4-6 0-2-2-4 0-3 12-7 2-4-5-6-3-6 2-6-6-4-1-2 3-3 16-5 26-5 5-3 2-2-1-2-22-12-1-2 1,0 4-3 8-3 16-3 12-1 4-1 4-3 8-6-2-16 6-4 2-4 0-2-1-6 3-8 2-2zM606,2252l2,2 2,1 5-1 2-2-1-2-2-2-6,0-2,2zM511,2312l3-2 20,1 2,1-2,2-14,0-8,0zM389,2314l3-2 2,0 12,0 14,4-4,2-10,0-14-2z" fill="rgb(126,126,126)"/>
<path d="M464,1972l12,0-2,0 0,150 1,60-1,32 0,12 1,16-1,62 1,14-1,12 0,24 1,2-10,0 1-2 0-22-2-18 1-10 0-60 1-16 0-34-2-14 2-14 0-102 0-92zM660,2006l2,0 0,4-1,12 7,8 2,2-1,26-1,4-4,6-1,4 0,2 3,4 2,2 1,4 0,104-1,32 0,48-1,10-1,2-5,8-4,4-5,1-34-3-14,2-10-1-6-2-8-5-8-4-2-2 0-2-2-2-9-6-1-2 0-2 6-8 1-4-1-4 2-2 4-2 8-2 16-2 18-9 2-3 1-2-1-4-2-1-6-2-24-2-14-3-8-2-20,1-22-3-4-2 2-2 8-4 6-4 32-10 13-8 0-2-1-2-4-2-21-6-2-2 1-2 8-12 2-6 1-2-2-4 1-2 10-8 3-4-5-6-2-6 2-4 0-3-6-4-2-1 4-3 18-5 22-4 4-2 4-3 0-3-2-2-21-10-1-2 2-2 8-2 14-4 20-2 6-3 4-3 6-1 2-3-4-4-2-2 0-10 5-6 2-2-1-8 4-9 2-1zM606,2249l0,3 4,4 4,0 2-2 2-2-2-4-2,0-4,0zM627,2074l1,2 2,0 2,0 1-2-3-2-2,2zM513,2312l5-1 7,1-9,1-2-1zM391,2314l1-2 4,0 10,0 4,1 6,3-8,2-12-2-4-2z" fill="rgb(134,134,134)"/>
<path d="M464,1972l12,0-2,0 0,148 1,64-1,30-1,14 1,14 0,60 1,18-1,10 0,24 1,2-10,0 1-2 0-20-2-20 2-12 0-60 1-16-1-32-1-12 1-18 0-106 0-86zM658,2006l3,2 0,4-1,4-5,4-1,4 2,2 4-2 2,1 7,7-1,26-2,4-4,4-1,4 0,4 1,2 5,4 1,4 1,106-2,46 1,30-2,12-6,10-2,3-4,1-10,0-28-2-14,1-6,0-6-2-8-5-9-4-2-2-1-2-1-2-9-6 0-4 6-6 0-10 1-2 3-2 8-2 16,0 2,0 6-6 12-6 2-4-2-4-4-4-4,0-10,0-18-2-12-2-8-4-10,2-8,0-24-2-1-2 1-1 10-4 4-5 2-1 30-8 14-9 0-2-4-4-18-5-6-3 0-2 8-12 4-6 0-2-2-4 0-2 11-8 3-4 0-2-5-4-2-4-1-3 3-5-1-2-6-4 2-2 18-6 22-4 6-2 2-2 1-4-1-2-21-10-1-2 0-1 10-3 12-4 8,0 10,0 4-2 8-3 6-1 2-2 2-2 0-2-1-2-5-4-2-10 5-4 3-4-1-8 3-8 2-2zM604,2250l2,4 4,2 6-1 2-3-1-4-3-1-6,1zM625,2074l1,2 2,1 4-1 2,0 1-2-1-2-2-1-4,1zM646,2066l-2,1-2,1 2,2 3-2zM392,2314l4-2 10,0 5,2 2,2-3,1-6,0-10-2z" fill="rgb(142,142,142)"/>
<path d="M465,1972l10,0-1,0 0,192 1,16-1,34-1,10 0,8 1,8 0,62 1,12-1,18 0,22 1,2-10,0 1-2 0-18-2-22 2-14 0-58 1-16-1-10 0-26-1-6 1-14 0-72 0-38 0-88zM658,2007l2,1-1,4-4,2-1,4-2,3-2-3 2-6 2-4zM662,2026l6,4 0,2 0,16 0,9-2,2-6,5-2,4 0,4 2,4 6,4 2,4 0,48 1,8-1,6 0,42-2,48 1,10 0,20-2,14-6,10-7,2-12,0-24-2-14,1-8-1-2,0-8-6-11-4-3-6-8-6-1-4 7-6 0-10 0-2 8-3 10,0 2,1 2,4 2,1 2-1 8-10 11-6 3-2 1-4-2-4-7-6-6,1-14,0-21-3-4-2-1-3-2-1-4,0-5,4-7,0-24-2-4-2 2-1 9-5 3-3 4-1 30-9 13-9 1-2-1-2-3-2-4-2-18-4-4-2 1-2 9-12 3-8-2-4 1-2 12-8 2-4-1-2-5-4-2-5 0-3 2-3 0-3-6-4 18-8 24-4 4-2 3-2 1-4-1-2-21-10-1-2 3-2 18-5 10-1 4,2 0,1-3,3 1,2 5,0-3,2-2,2 2,3 2,2 6,1 2-2 6-3 6,0 2-1 4-4-2-2-4-3-4,0-6,3-4,0-1-2 0-2 5-4 10-2 6-6 0-2 0-2-6-6-2-8 0-2 8-6 4,4 4-2zM604,2250l0,2 1,2 5,2 6-1 3-3 1-2-2-2-6-2-6,2zM394,2314l4-2 6,0 4,2 2,0 1,2-7,0-9-2z" fill="rgb(149,149,149)"/>
<path d="M465,1972l10,0-1,0-1,88 1,14 0,46 1,62-1,32-3,14 3,12 0,60 1,18-1,10 0,26 1,2-10,0 1-2 0-24-2-18 2-8 0-12 0-50 2-14-2-12 0-24-1-10 1-14 0-72 1-34-1-90zM650,2026l2,1 2,3 0,6 2,0 1-6 3-3 2,0 2,1 4,4 0,14-2,10-2,3-8,6-6-2-4-3 6-6 2-6-1-4-5-4-3-8 1-2zM610,2062l6-1 2,1-2,4 0,2 4,6 4,4 8,0 8-3 8,0 6-1 4,4 8,3 1,3 1,38-2,8 2,8 0,8 0,42-1,24-2,24 1,10 0,8 0,10-2,10 0,6-4,8-2,2-4,2-8,0-30-3-4,0-12,2-6-1-10-7-10-3-1-2-1-4-1-2-8-4-1-2 0-2 2-2 5-2 1-2-1-10 3-2 6-2 6,0 1,0 2,4 5,3 2,0 4-3 6-10 13-6 1-4 0-4-8-9-4-1-6,3-22-1-12-3-3-5-3-2-4,0-6,5-4,1-24-2-5-2 1-1 10-4 6-5 30-8 12-8 3-2-1-4-4-2-4-2-18-4-3-2 1-2 9-12 3-8-2-4 1-2 11-6 4-6-8-8-2-4 0-2 4-4 1-2-5-4 2-2 12-5 8-2 12-1 6-2 4-3 4-3-2-4-20-10-1-2 3-1zM602,2250l3,4 7,3 6-2 3-5-1-2-4-2-6,0-4,1-3,1zM581,2106l1,2 4,2 4,0 2-2-1,0-5-2-4,0zM398,2314l6-1 4,1-1,2-5,0-4-2z" fill="rgb(157,157,157)"/>
<path d="M475,1972l-2,0 0,84 1,16-1,50 1,62-1,34-1,4-4,1-1-7-1-24-1-10 1-14 0-98 1-10-1-30 1-58-2,0zM664,2028l2,2 1,2-1,18-2,6-5,4-5,2-2,0-2-2 0-2 5-4 1-4 0-4-2-4 0-2 4-4 2-6 2-2zM650,2028l2,2-2,3-2,1-2-2 2-2zM610,2063l4,1-1,2 3,6 4,4 2,2 8,1 10-3 12,1 12,5 2,2 1,38-2,8 3,10-1,6 0,48-1,8 0,10-2,22-1,2 0,4 3,6-1,8 1,12-1,4-3,4 0,6-3,8-3,2-4,1-8,0-28-3-6,0-8,2-8,0-3-2-6-6-9-2-2-2 0-5-2-2-6-1-2-2 0-4 7-4 1-2-1-10 3-2 4-2 4,0 3,4 3,4 4,0 8,0 6,4 4,1 6,0 4-3 2-4-1-6 4-6 1-3-6-5-2-6-5-8-3-3-4-1-5,4-3,0-18,0-12-4-2,0 0-4-2-1-4-2-6,1-4,4-4,1-16,0-11-3 9-4 6-5 14-5 16-4 16-10-1-4-5-4-20-4-3-2-1-2 9-12 3-8-1-4 1-2 6-4 8-1 0-3 1-2 4-2 0-2-7,0-4-2-2-4-1-4 1-2 2-2 6-2 10,4 4-1 6-3-4-2-10-3-6,1-4,0-2-2 0-2 6-2 10-4 16-2 6-3 4-3 3-2 0-2-1-2-20-10-1-2zM642,2134l2,2 4,0 4-2 1-2-1-1-4,0-5,1zM579,2196l1,0 2,0 2,0 0-2-2,0zM470,2232l2,1 0,1 2,10 0,54 0,22-1,14 0,20 2,2-10,0 2-2-1-24-1-12 1-18 1-20-1-40 2-6zM602,2246l2-6 2-4 8-2 2,2 2,8-14,2z" fill="rgb(164,164,164)"/>
<path d="M475,1972l-2,0 0,64-1,24 2,12-1,10 1,18-1,22 0,44 1,14-1,36-1,3-4,0 0-3-1-22-1-10 1-18-1-22 1-28-1-20 1-12-1-14 2-10-1-22 0-66-2,0zM662,2030l3,2-1,8 1,8-1,2-2,1-3-1-2-8 4-6 0-4zM598,2070l6-4 4,0 7,8 2,4-1,1-8-2-4-3zM654,2079l8,3 2,2-1,6 3,6-1,10 1,16-3,8 3,4 1,4-1,8 0,48-1,8 1,10-7,22 1,4 4,4 1,4-1,8 1,12-1,2-4,4 2,6-1,2-4,8-5,3-12-1-24-4-6,1-8,3-6,0-4-3-4-5 2-1 6-1 3-2 1-2-1-2-3-1-6,1-4,2-1,4-5,0-4-2 2-10-4-2-6,2-1-2 7-6-1-10 1-2 2-2 4,0 4,4 6,3 4,1 6-1 8,4 4,1 6-2 6-4 1-2-1-6 4-10-2-2-5-2-2-6-7-12-2-2-4,0-2,1-4,4-4,1-10,0-10-2-8-2 0-4-2-2-8-3-6,1-4,6-4,1-18-1-6-2 10-4 6-4 6-2 6-3 14-4 12-6 10-3 0-2-2-2-6-5-6-3-14-2-4-2-2-2 10-12 1-4 2-4-1-6 6-2 8,0 4-2 2-1-1-3 3-4-1-2-7-1-6-2-2-5 0-4 3-2 3,0 12,2 4,0 14-4-20-6-8-1 0-1 10-6 14-1 7-3 7-3 2-3 2-4 10,0 12-2zM658,2130l-4-1-6,1-8,1-3,3 1,1 6,3 4,0 6-3 3-3zM650,2090l0,1 4,1 4,0 2-2-1-2-3,0-4,0zM592,2196l-4-5-4-1-6,2-5,4 1,2 6,1 8-1zM605,2108l1,1 0,1 6,0zM638,2253l-2,1 0,2 2,2 2,0 1-2-1-1zM470,2234l2,1 0,1 2,8-1,12 0,44 1,16-1,14 0,24 1,2-8,0 1-2 0-22-2-16 2-28 0-32-1-12 2-8zM613,2236l1,2 0,4-4,2-4,0 0-2 1-4 3-2z" fill="rgb(172,172,172)"/>
<path d="M474,1972l-2,0 0,80 0,6-2,0-2,0 0-6-1-18 1-62-2,0zM470,2063l2,1 1,6-1,12 1,22-1,16 1,26 0,18 1,18-1,12-1,18 0,3-2,0-2-1-1-22-1-10 1-14 0-22 1-22-1-22 1-14-1-20 1-2zM604,2070l1,0 3,0 6,4 0,2-2,1-5-1-3-4zM652,2080l6,4-8,2-2,2-2,2 2,2 2,1 10,1 4,2 1,2-1,8 1,14-1,4-4,3-18,2-8,3-2,2 2,2 12,4 4-2 8-4 4-1 3,3 1,2-1,10 1,6-2,20 2,8-1,14-1,6 1,10-3,8-6,4-1,2 2,12 5,5 2,3-1,8 1,8 0,4-1,2-5,4 2,6 0,2-4,6 0,2-2,2-8,0-7,0-9-4-6-2-2-1-14,1-4,4-2,1-6,0-3-3-1-2 8-2 2-2 2-8-1-2-3,0-10,2-6,0-2-4-6-4 0-2 0-4-1-6 1-2 0-2 2,0 10,6 6,1 6-1 8,4 8,0 13-6-3-4 0-4 4-10-2-2-6-4-7-14-5-8 0-2 2-2 0-2-8-6-10-1-4-3-3-4 1-6-12-8-2-2-19-2-3-2-1-2 6-6 4-4 1-6 2-4 0-4 0-2 4-1 8,1 4-1 2-2 2-3 0-2 2-6-2-2-8,0-5-2-2-4 0-2 1-2 6-1 10,3 12-3 16,2 6-4 6-1 1,0-3-1-2,1-24-3-16-5-1-2 1-2 8-2 14-1 8-5 8-4 18-5zM643,2106l1,1 2-1-2,0zM630,2252l2,5 4,3 6,0 2-2 0-2-4-5-4,0zM586,2158l-2,0-2,2-1,2 1,2 4,0 2-2-1-2zM582,2186l0,2-2,2-14,5-10,1-5,2-1,4-5,8-9,0-13-2-1,0 14-7 10-2 5-3 15-5 10-6 4-1zM564,2202l0-2 2-1 18,2 14-2 6,3 3,4-9,3 0,5-1,0-7,2-6-1-12-3-2,0 0-4zM472,2236l1,6-1,14 1,44 1,18-2,14 0,22 2,2-8,0 2-2 0-22-3-16 3-30 0-28-1-16 0-4 1-2z" fill="rgb(180,180,180)"/>
<path d="M466,1972l8,0-2,0zM470,2014l2,14 0,8-2,10-2-12 0-8zM470,2066l2,0 1,4-1,8 0,4-2,0-2-1-1-9 1-4zM642,2080l8,2 0,2-6,6 0,2 2,2 2,1 12,0 2,2 2,3-2,8 0,8 1,6-1,2-4,2-24,4-5,2 0,2 3,3 10,4 8-1 10-5 2,0 3,3 1,2-2,6 1,12-1,12-2,6 2,8 0,13-4,5 1,2 3,6 0,4-4,4-4,1-2,0-3-5-3-2-2,0-2,2 2,4 3,4 0,2 3,5 4,9 7,8 1,2-2,8 1,8-1,4-6,4 2,6-2,4-4,1-8-1-8,2-4,0-10-4-10,2-4-1-2-1 0-4 5-6-1-2-6-1-14,1-10-4-2-2 0-8 0-2 2,0 10,5 10-2 12,5 14-2 8,3 6,1 2-1 3-3 1-2-4-6-2-1-10,0-3-3 1-4 3-6 0-2-1-2-8-4-8-22 2-4 0-4-10-5-10-1-4-2-3-4 1-6 0-2-7-4-5-4-2-1-18-1-4-2-2-2 6-7 6-3-1-4 3-10 14,0 6-6 2-8-1-2-5-3-8,1-2-2-2-4 0-2 2-2 4,0 10,3 2,0 10-3 4,0 10,4 8-4 10-2 3-2-3-2-2-1-14,1-16-2-12-4-2-2 1-2 5-2 10,0 4-1 14-6 10-2 8-4zM639,2106l0,2 5,1 2,0 3-1-1-4-2-1-4,1zM580,2143l0,1 4,3 2-1 0-2-2-1-2-1zM598,2140l-3,2-1,2 3,4 3,0 2,0 1-4-1-3zM628,2192l-2,2-1,2 3,2 2,0 1-2-1-4zM586,2155l-4-1-5,4 1,6 0,3 2,1 4-1 7-5-1-4zM470,2088l2,4 1,6-1,10 0,5-2,1-2-2-1-8 1-10 0-4zM470,2127l2,1 1,16-1,20 2,12-2,26-2,4 0-2-1-6-3-16 0-10 2-8-1-12 0-8 3-14zM573,2188l3-1 2,1-4,1zM600,2204l-6,2-2,0 0,2 3,4-2,2-13,0-8-2 2-5-3-3 1-2 26,0zM545,2204l0,2-1,2-4,2-14-2-1,0 13-6 4,0zM470,2238l2,2 1,4-1,7 0,3-2,1-2-1-1-8 1-6 0-2zM470,2268l2,0 0,30 2,14 0,6-4,18-4-16-1-8 4-30 0-10zM595,2286l1-1 4,0 2,1 0,2-2,0-2,0zM653,2288l-3,2-6,0-3-2 1-1 10-1zM466,2356l2-2 6,2z" fill="rgb(187,187,187)"/>
<path d="M466,1972l8,0-2,0-4,0zM470,2026l2,4-1,4-1,0-2-2 0-4zM470,2068l1,0 1,2 0,4-1,2-1,0-2-2 0-4zM642,2082l3,2-5,6 1,2 3,4 2,1 10-1 4,1 1,1 1,4-1,4-9,12 0,2 4,2-8,4-18,4-4,2 0,2 2,4 4,2 8,2 4,0 6,0 12-5 2,1 0,4-3,4 3,12-2,10-2,1-16,2-3,1-1,4 1,2 2,2 3,0 6-2 2,0 7,4 1,2 0,10-2,2-4,1-4,3 1,4-1,2-8,3-2,3 0,4 2,8 6,6 5,10 5,4 2,2 0,4-2,6 2,4 0,4-2,3-6,5 2,6-2,2-10,0-8,2-4,1-4-2-3-3-6-10-1-2 2-2 2-2 6-1 10,2 4-1 4-3 2-3-4-6-4-2-8,0-2-2-2-3 5-7 0-2-1-3-8-3-2-2-6-18 1-4 3-4 10,0 4-2-2-8-2-1-4,0-4,6-4,1-10-5-12-1-3-2-2-2 1-6 0-3-7-5-1-1 2-1 6-4 2-3 0-3-3-6 0-2 1-1 8,0 3-1 1-1 1-5 0-2-7-6 0-2 8-5 6-7 3-2 5-6 2-1 8-1 6-2 12,1 2-1 2-2-3-4-3-4-10,5-8-1-14,1-24-4-3-1-1-2 4-3 10,0 4-1 8-4 8-2 12,0 4-6zM598,2168l0,2 4,1 5-1-1-2-4,0zM470,2093l2,1 0,4 0,6-2,3-2-1 0-4 0-6zM571,2116l1-2 2-1 2,0 10,3 14-2 6,1 2,3-2,4-6,4-5,4-1,2 2,3 0,1-4,5-4,0-2-1 0-2 5-6-2-8-3-2-2-2-10,1-2-2zM564,2148l4-6 2-1 4,2 5,5 0,2-1,3-6,0-6-1-2-2zM470,2142l2,1 0,7 0,6-2,2-2-1 0-5 0-8zM553,2164l5-6 4-2 9,4 3,2-1,4-5,2-8,0-6-2zM470,2167l2,3 2,6-1,10-1,4-2,2-2,0 0-2-2-8 0-4 2-8 0-2zM574,2212l4-6 4-1 4,1 7,6-1,2-4,0-4,0-6,0zM655,2210l1-2 4,0 2,2 0,2-2,2-2,1-3-3zM470,2240l2,0 0,4 0,6-2,1-2-1 0-3 0-5 0-2zM582,2256l6,3 4,1 8-4 14,6-6,2-6,1-14-1-6-2zM468,2300l4,2 2,12-2,12 0,2-2,0-2-2-3-10 1-8zM466,2356l2-1 4,0 2,1z" fill="rgb(195,195,195)"/>
<path d="M466,1972l8,0-2,0zM589,2098l3-2 10,0 8-4 8-2 10,0 8,0 6,5 1,3-3,4-4,2-12-1-12,1-20-4-2,0zM650,2098l6,0 2,0 2,2 0,2-2,3-3,1-3-1-2-5zM470,2099l0,2zM640,2112l9,2 0,2-2,4 0,4-3,1-18,4-2,1 0,2 4,12-1,4 9-4 10,0 10-2 2,0 2,8 2,4 0,6-2,4-10,4-8,2-2,2-2,4 1,4 1,0 12,2 2,0 1,2-1,10-6,5-1,5-7,4-1,6 4,12 5,4 4,10 8,5 1,3-3,8 2,4 1,4-2,2-7,4 0,2 2,4-1,2-9,1-8,3-4,0-2-2-3-2-5-8 1-4 5-3 14,1 4-2 2-3 2-3-4-6-3-2-9-1-4-1 0-2 0-2 4-6 1-4-3-2-7-4-3-6-1-6-2-8 1-3 2-1 10,0 4-2 1,0-3-10-2-2-2-1-4,0-8,3-8-2-12,1-4-1-1-2-1-2 2-6 0-4 2,0 18-4 3,0 1-2-2-2-8,0-6-2-4-2-2-4 0-2 0-2 6-2 4-2 0-8-2-6 0-2 20-19 12-3zM626,2148l-4,4 0,2 0,2 2,1 2-3 1-6zM572,2116l2-2 2,0 8,4 12-3 4,0 2,1 2,2-3,4-7,4-2-2-8-5-8,1-4-2zM566,2148l1-2 3-2 2,0 4,4-1,2-3,1-5-1zM470,2147l1,1 0,2 0,2-1,2-2-2 0-4zM554,2164l4-4 4-2 4,0 4,4 0,2-2,2-4,2-8-2zM470,2170l2,0 0,2 2,8-2,8-2,2-2,0 0-2-2-8 1-8zM577,2212l3-3 4-1 4,2 2,2-2,2-4,0-4-1zM470,2242l1,2 0,2-1,1-2-1 0-2zM598,2260l2-2 2,0 3,2 1,2-6,1-2-1zM468,2303l2,1 2,2 2,6 0,6-2,6 0,2-2,0-2-1-2-9 0-8zM466,2356l2-1 6,1z" fill="rgb(203,203,203)"/>
<path d="M600,2100l1-2 11-6 14-1 10,1 4,4 1,2-1,2-4,2-10,0-14,1-6-1zM652,2100l2-1 2,1 2,0 0,3-2,1-2,0-2-2zM574,2118l2-2 2,2-2,1-2-1zM589,2120l3-2 4-2 4,0 1,2-2,4-5,1-2,0zM632,2124l-8,4-3,2 0,2 3,6 1,6-1,2-6,6 0,10-4,2-4,0-6-1-2-1-2-2-1-4 2-2 5-2 3-2-1-8-2-6 1-2 17-14 2,0zM655,2146l2,4 3,6 0,4-12,6-9,4-1,2-2,6 0,2 2,2 10,2 2,1 1,1 0,6-3,4-4,2-4,0-4-4 0-4-4-4-6-2-4,1-2-1 4-1 2-1-2-2-4-2-2,0-2,5-2,1-14,4-4-1-2-1 1-4 5-6 8-2 8-1 4-1 2-4 0-6 6-4 2-8 3-2 5-2 16-2zM569,2148l2,0-1,0zM554,2164l4-4 4-1 3,1 2,4-1,2-4,1-6-1zM470,2171l2,1 0,1 2,7-1,6-3,2-2,0 0-1-2-5 1-8zM624,2204l6,0 4,0 2,2 4,22 6,4 4,8 8,6 2,2-2,3-4,5-2-2-8-7-2-1-6,0-4-2 0-2 5-8 0-2-2-2-8-4-3-4-1-10-1-4 0-2zM580,2211l2-1 2,0 3,2 1,0-6,1-2-1zM658,2260l1,4-3,2-6,3-6-1-1,0 2-4 9-7zM625,2268l2-2 3-1 6,1 6,2 7,8-1,0-14,4-2,0-4-2-2-8zM468,2305l4,1 2,6-2,10 0,2-2,1-2-1-2-8 0-6z" fill="rgb(210,210,210)"/>
<path d="M606,2098l2-2 4-2 12-2 10,1 4,2 1,3-2,2-3,2-12-2-6,2-6,0-4-2zM593,2120l2-2 1,0 1,2-1,1-2-1zM616,2130l4,4 3,4 0,6-1,2-6,6 0,6-2,3-4,1-4,0-4-4 0-2 8-4 1-2-2-6-1-8 4-4zM652,2148l0,1 0,5-6,4 0,4 0,2-8,4-3,8-2,2-1,1-4,0-6-4 0-3 2-4 1-4 5-6 2-8 4-2 4-1zM564,2162l0,2-2,2-4,0-2-2 1-2 3-2 2,1zM470,2172l2,2 1,4-1,7 0,1-2,1-2-1-2-4 2-8zM612,2177l0,3-2,2-10,3-3-1 1-2 6-5 4-1zM636,2184l1,0 3,0 8,2 1,4 0,2-1,2-4,3-4-1-2-2zM628,2208l2,0 2,1 4,7 2,6-2,5-6-1-4-1-1-3 0-2zM633,2242l7-6 2-1 2,1 2,2 2,3 9,5 1,2 0,2-4,2-2,0-8-8-9,0-1,0zM649,2264l3-3 4,0 0,1 0,2-4,2-2,0zM628,2269l2-2 4,1 6,6 1,2-1,0-4,3-4-1-3-4zM468,2306l4,2 1,4-1,9-2,3-2-2-2-4 0-8z" fill="rgb(218,218,218)"/>
<path d="M608,2098l2-2 2-1 12-1 10,0 2,2 1,2-1,1-2,1-14-1-8,1-2,0zM614,2133l2,0 4,3 2,4 0,4-1,2-5,4-2-1-3-1-1-6 0-6zM646,2150l1,0 0,2-5,6 0,6-6,4-2,8-2,1-2,0-4-2-1-3 2-4 0-4 6-6 1-6 0-1 6-3 4,0zM605,2158l1-2 4-1 2,1 0,2-2,2-4-1zM470,2174l2,0 1,4-1,5-2,3-2,0-1-4 1-6zM640,2186l2,0 4,2 1,4-1,2-4,1-2-1zM630,2215l4,1 2,6-1,2-3,1-4-1-1-2 1-5zM650,2246l2-1 2,0 2,2 0,1-2,2-2,0-2-2zM633,2274l1-1 2,3-2,0zM468,2308l4,0 1,6-1,6 0,2-2,0-2,0-2-8 1-4z" fill="rgb(226,226,226)"/>
<path d="M626,2096l6,0 2,2-4,0zM614,2134l6,3 2,5-2,3-4,3-3,0-3-4 0-6 2-2zM642,2150l2,2-2,2-2,2-2,0-2-2 0-2 2-2zM638,2160l1,2-1,2-6,4 0,5-2,2-2-1 0-2 3-4-1-4 4-4zM470,2175l2,1 0,4 0,4-2,1-2-2-1-3 1-4zM630,2222l2-1 0,1zM468,2308l4,2 1,4-1,6-2,2-2-2-2-4 1-6z" fill="rgb(233,233,233)"/>
<path d="M614,2136l4,0 2,4 0,4-2,3-4,0-2-1 0-2-1-4zM470,2176l2,2 0,4-2,2-2,0 0-2 0-4 0-2zM468,2310l4,1 0,3 0,4-2,2-2,0-2-4 1-4z" fill="rgb(241,241,241)"/>
<path d="M614,2137l4,1 2,2-1,4-3,2-3,0-1-4 0-4zM470,2178l1,2-1,2-2,0 0-4zM468,2310l2,1 2,3 0,4-2,1-2-1-1-4z" fill="rgb(249,249,249)"/>
<path d="M616,2138l1,0 2,4-1,2-2,2-2-2-1-2 1-3zM468,2312l2,0 1,2 0,2-1,2-2,0-1-2 1-3z" fill="rgb(254,254,254)"/>
</g>
<line x1="278.9" y1="1996.3" x2="320" y2="1996.3" stroke="#fff" stroke-width="3.4" stroke-linecap="round"/>
<text x="251.1" y="2030.3" font-size="16.5" fill="#fff" font-weight="bold" textLength="115.4" lengthAdjust="spacingAndGlyphs">1cm = 11.35 cm</text>
<rect x="711.4" y="1975.5" width="23.6" height="379" fill="url(#cbar)" stroke="#222" stroke-width="1.1"/>
<line x1="735" y1="2354.5" x2="739.5" y2="2354.5" stroke="#333" stroke-width="1.1"/>
<text x="744.8" y="2360.2" font-size="15.6" fill="#333" textLength="8.6" lengthAdjust="spacingAndGlyphs">0</text>
<line x1="735" y1="2280.4" x2="739.5" y2="2280.4" stroke="#333" stroke-width="1.1"/>
<text x="744.8" y="2286.1" font-size="15.6" fill="#333" textLength="17.7" lengthAdjust="spacingAndGlyphs">50</text>
<line x1="735" y1="2206.3" x2="739.5" y2="2206.3" stroke="#333" stroke-width="1.1"/>
<text x="744.2" y="2212" font-size="15.6" fill="#333" textLength="27.2" lengthAdjust="spacingAndGlyphs">100</text>
<line x1="735" y1="2132.2" x2="739.5" y2="2132.2" stroke="#333" stroke-width="1.1"/>
<text x="744.2" y="2137.9" font-size="15.6" fill="#333" textLength="27.2" lengthAdjust="spacingAndGlyphs">150</text>
<line x1="735" y1="2058.1" x2="739.5" y2="2058.1" stroke="#333" stroke-width="1.1"/>
<text x="744.6" y="2063.8" font-size="15.6" fill="#333" textLength="27.3" lengthAdjust="spacingAndGlyphs">200</text>
<line x1="735" y1="1984" x2="739.5" y2="1984" stroke="#333" stroke-width="1.1"/>
<text x="744.6" y="1989.7" font-size="15.6" fill="#333" textLength="27.3" lengthAdjust="spacingAndGlyphs">250</text>
<text x="797" y="2105.3" font-size="17.7" fill="#111" font-weight="bold" textLength="119" lengthAdjust="spacingAndGlyphs" transform="rotate(90 797 2105.3)">Intensity (a.u.)</text>
<text x="826.4" y="1973.8" font-size="36.4" fill="#000" font-weight="bold" textLength="22.1" lengthAdjust="spacingAndGlyphs">n</text>
<g filter="url(#fn)"><rect x="875" y="1976" width="458" height="385" fill="#000"/>
<path d="M876,1976l456,0 0,384-9,0 0-38-1-4-22,3-8,3-16,11-26,11-14,6-14,3-34,5-14,0-12-4-10-2-40,2-4,2-1,2-25,0-2-3-4-1-50,0-6-1-4-2-3-3-1-6 4-6 4-2 6-1 50,0 3-1 1,0 1-2 0-2-3-2-78,0-2-1-4-3-1-2 0-2 2-4 5-2 78-1 2-1 2-2 0-332-206-1zM1293,1978l-187,0 0,352 2,4 2,0 22,0 24-2 6-2 14-9 6-3 24-7 16-7 16-8 20-13 8-3 3-2-1-3-2-1-30-2-34-5-24-6-14-6-14-11-8-8-4-8-3-6-2-8 0-6 1-6 4-4 8-7 8-4 30-11 24-12 3-4 1-10 4-5 4-1 10,1 6,0 8-6 6-1 14-2 12-6 6-2 2-2 1-4 1-8 1-36 2-14-1-20 2-6 0-34 1-22zM1252,2182l-14-4-4,0-6,2-38,18-26,10-4,4 0,4 2,4 4,1 6-1 10-2 16-8 42-18 7-6zM1284,2154l-2-1-2,0-10,5-9,6-4,6-3,10 6-1 13-5 9,0 1-2 1-6 0-10zM1282,2196l-2-1-2-1-26,16-36,16-8,6-6,3-6,1-2,2-1,0 5,4 10,2 32,4 32,3 2-1 2-2 6-42z" fill="rgb(5,5,5)"/>
<path d="M876,1976l456,0 0,384-8,0 0-40-2-4-32,6-4,2-14,10-26,12-10,4-12,3-24,3-24,2-13-4-9-2-36,1-10,2-2,3-1,2-22,0-1-4-2-1-2-1-50,0-6,0-5-2-2-4-1-2 0-3 3-3 5-2 6-1 50,0 3-1 2-4-1-4-2-2-76,0-6-2-2-2-1-2 3-4 6-1 76,0 3-3 0-334-207-1zM1295,1978l-190,0 0,354 3,4 26,0 20-2 6-1 22-13 24-7 22-9 14-8 18-10 8-4 2-2 2-2 0-6 0-1-2-1-18,0-44-5-20-5-18-6-18-12-8-10-6-12-2-10 2-6 2-3 3-3 5-4 6-3 32-11 26-14 4-6 0-8 2-2 4-2 14,0 12-6 16-3 12-5 6-2 2-2 2-6 2-8 0-34 2-22 0-14 1-8 0-34 1-20zM1284,2150l0-2-4,0-14,9-9,7-6,8-3,2-4,1-10,0-6,1-40,20-28,10-2,2-3,4 1,5 1,3 3,3 4,2 8,0 8-1 18-10 14-6 26-12 30-15 6-2 8,1 2-3 2-11 0-12zM1282,2188l-2-1-6,6-22,13-34,16-12,8-6,3-14,0-4,3 0,2 2,2 6,4 14,3 30,4 28,2 10,2 2,0 2-3 1-4 5-38 2-12z" fill="rgb(8,8,8)"/>
<path d="M876,1976l456,0 0,384-8,0 0-42-2-3-6,2-22,3-6,2-6,2-8,8-6,2-30,14-14,3-24,4-24,1-14-4-6-1-38,1-10,1-3,3-1,4-20,0-1-4-3-3-52,0-6-1-4-2-2-2 0-4 2-4 4-1 6-1 50,0 4-1 2-5-1-6-3-2-76,0-5,0-2-4 2-2 5-2 76,0 2,0 2-2 0-336zM1296,1978l-192,0 0,354 2,5 4,1 24-1 20-1 6-2 22-12 24-7 22-8 16-10 16-9 8-4 3-2 2-8 0-4-1-4-10,1-8,0-44-5-20-4-20-7-16-11-6-8-6-10-2-10 0-4 2-6 8-6 36-14 28-13 4-5 4-10 4-2 12-1 10-7 16-2 12-4 6-2 2-1 3-9 2-12 1-36 1-18 0-14 1-8 0-32 1-22 1-4zM1284,2145l-2-1-12,6-14,11-8,9-4,2-12,1-8,2-38,19-28,10-4,4-2,4 0,4 2,6 6,5 10,3 2,2 3,6 3,4 12,4 20,5 24,3 30,2 8,3 4-4 2-7 6-46 0-18 2-14 1-16zM1273,2186l0,2-3,2-18,11-36,18-11,11-7,1-4,0-4-3-2-2 1-4 6-4 23-8 31-14 19-11 4-1z" fill="rgb(11,11,11)"/>
<path d="M876,1976l456,0 0,384-7,0 0-40-1-6-2,0-8,2-20,3-6,2-8,3-10,8-32,15-12,3-24,4-24,1-6-1-12-4-4,0-46,2-4,2-2,2 0,4-19,0-1-6-2-1-4-1-50,0-8-2-3-4 0-2 3-3 4-1 54-1 5-3 1-4 0-6-2-2-2-1-72,0-7-1-2-2 2-2 7,0 72,0 4-2 0-2 1-336zM1299,1978l-195,0 0,354 0,3 2,3 2,0 28,0 22-2 8-3 16-10 24-7 22-8 14-8 16-10 12-5 2-3 2-8 0-12 5-14 6-46 1-26 1-8 1-16-2-12 3-20 1-42 2-18 0-14 0-8 0-34 2-20 2-4zM1320,1978l2,1 2-1zM1266,2148l-1,2-6,6-14,12-5,2-18,1-1-1 3-12 4-3 10-2 12-7 8,0 7,0zM1150,2202l1,0-2,8-1,11-4-7-1-4 1-4 2-2zM1208,2218l0,4-1,4-4,2-3,2-4-1-2-1-2-2 0-2 1-2 5-4 6-1zM1152,2230l10,3 4,1 2,4 0,4-2,0-8-4-4-4zM1190,2252l48,6 24,2 2,2-2,1-2,0-24-1-30-4z" fill="rgb(14,14,14)"/>
<path d="M876,1976l456,0 0,380-2,2 0-20 0-14-5-10-1-1-10,3-20,2-8,3-6,3-12,8-18,9-14,5-10,3-26,4-16,1-8,0-16-4-6-1-40,1-6,1-2,1-2,2 0,6-19,0 0-4-1-2-4-3-52,0-8-2-2-3 2-3 2-2 4-1 52,0 4-2 2-3 1-9-3-6 2-4 1-4 0-334-5-1zM1302,1978l-10-1-184,0-4,1 0,352 0,7 2,2 28,0 20-1 6-2 24-13 24-6 20-7 16-9 14-10 12-5 2-3 3-7 1-16 3-10 7-50 0-24 2-8 0-10-1-18 3-20 0-28 3-32 0-54 1-22 2-4zM1319,1978l3,2 2,0 2-2zM1259,2150l-1,3-3,3-13,11-10,1-5-2 0-4 1-2 2-3 10-3 11-6 5,0zM1204,2220l2,2-1,2-3,3-4,1-4-2 1-4 3-2 4,0z" fill="rgb(17,17,17)"/>
<path d="M876,1976l456,0 0,1-14,1 6,4 2,0 2,4 0,102-1,20 1,144-1,10 1,18 0,24-2,6-2,1-8,4-22,3-14,4-16,11-28,13-14,3-22,3-16,2-8-1-20-5-46,2-4,2-2,2-1,6-17,0-2-6-2-2-2-2-52,0-6-2-2-2 1-2 5-3 54,0 4-3 1-4 1-6-2-8 2-10 0-332-8-2zM1306,1978l-16-2-180,0-7,2 0,354 1,6 2,1 4,1 44-1 6-1 22-13 28-7 16-6 14-8 20-12 9-4 3-2 4-12 0-14 4-8 7-54 0-20 1-8 1-14-1-12 0-10 2-14 1-28 3-34-1-8 1-26-1-18 3-24 2-2zM1252,2154l-12,10-6,1-2-1 0-2 2-2 10-3 6-3zM1198,2224l2-2 2,0 0,2 0,1-2,1-2-2z" fill="rgb(20,20,20)"/>
<path d="M1080,1976l28,0-5,2 0,354 1,7 2,1 2,1 28,0 16-1 8-2 24-13 26-7 18-7 33-19 7-2 4-4 4-10 1-14 3-10 8-56 0-20 1-8 0-8 1-6-1-6 0-16 2-12 0-28 3-34-1-8 1-32 0-14 2-20 2-4 2-1 9-1-18-2 41,0 0,1-16,1 4,2 6,5 0,21 0,22 1,4 0,54-1,20 0,14 0,8 0,74 0,12 0,6-1,8 1,20-1,10 1,24 0,4 0,18-1,2-4,6-9,4-18,2-14,4-16,11-28,13-12,2-22,4-24,1-8-2-10-3-6-1-38,1-8,1-2,1-2,4-1,6-17,0-2-8-2-2-2,0-48-1-8-1-2-2 0-2 1,0 5-2 50,0 6-2 2-6 0-356z" fill="rgb(23,23,23)"/>
<path d="M1082,1976l24,0-3,2 0,354 1,8 2,2 4,0 28,0 14-1 6-1 26-14 24-6 20-7 32-18 8-4 5-5 4-12 1-14 2-8 2-12 2-14 4-32 0-18 2-6 0-10 0-4-1-12 1-12 2-10 0-28 2-30 1-6-1-8 1-28-1-18 2-14 0-6 1-2 3-2 12-2 6,1 5,5 2,4 1,14-1,24 1,6 0,56-1,18 1,12-2,12 2,8 0,60-2,12 1,12-1,6 1,20-1,12 2,18-2,8 1,6-1,6 0,6-2,6-2,3-10,3-16,1-14,4-16,11-18,9-12,4-36,6-20,1-24-6-40,1-6,1-4,3-1,5 0,4-17,0 0-6-2-2-2-2-2-2-52,0-4-2 0-2 4-1 50,0 6-3 2-6 0-356zM1294,1976l38,1-22,1z" fill="rgb(26,26,26)"/>
<path d="M1084,1976l21,0-3,2 0,354 2,8 2,3 4,1 32-1 16-2 26-15 28-6 14-6 32-17 12-5 4-5 3-13 1-14 3-8 8-58-1-6 1-12 1-8 0-8 1-6-1-8 1-6 0-10 1-10 0-26 2-28 1-10-1-6 1-30 0-18 1-12 0-6 1-2 3-2 8-2 8,0 6,4 2,6 1,14-1,26 2,6 0,54-2,18 1,8-1,14 1,8 0,62-1,10 0,12-1,8 1,18-1,14 1,10 0,12 0,4 0,6-1,6 0,8-2,4-1,2-10,3-18,2-12,4-14,9-28,14-12,2-28,5-10,1-14-1-14-5-10-2-36,2-4,0-5,4-2,4-1,6-16,0-1-8-1-2-4-3-46-1-6,0 6-2 44,0 4-1 2-2 2-7 0-356zM1296,1976l36,1-10-1-12,1z" fill="rgb(29,29,29)"/>
<path d="M1084,1976l20,0-2,2 0,354 2,8 3,6-4,6-1,8-15,0-1-8-5-6 5-8 1-24 0-336zM1318,1979l3,3 2,6 1,14 0,26 1,6 0,28-1,10 1,16-1,8 0,14 0,8-1,12 1,6 0,60-1,12 1,14-1,4 1,24-1,10 1,8 0,12-1,6 1,6-2,5 1,7-2,6-1,2-6,2-12,2-8,0-16,4-16,12-20,10-12,3-22,4-20,2-14-1-14-4-2-2 0-2 20-12 8-4 22-4 22-8 26-15 12-4 4-5 2-4 4-12 0-14 4-8 3-30 5-30-1-4 0-12 2-6-1-10 2-4-2-12 2-4-1-10 2-8 0-28 1-28 2-6-2-12 2-30-1-14 2-14 0-4 2-4 5-3 8-1z" fill="rgb(32,32,32)"/>
<path d="M1085,1976l19,0-2,2 0,354 0,4 3,8 0,2-3,8 0,6-15,0-1-8-3-6 3-8 0-4 1-22 0-334zM1318,1980l2,2 2,4 2,24 0,18 0,6 0,42 1,10-1,10-1,12 1,10-1,10 1,16 0,52-2,12 1,10-1,10 0,32 2,8 0,14-1,4 0,8-1,4 0,6-1,4-2,4-5,2-12,2-10,0-15,4-13,10-28,14-28,4-20,2-12,0-8-2-6-3-2-3 4-2 14-9 10-5 24-5 18-6 22-12 16-7 6-8 4-14 1-14 3-6 4-34 5-28-1-6 0-10 2-6-1-8 2-8-2-6 0-2 1-8 0-8 2-8-1-14 2-44 1-6-1-8 1-30 0-18 1-10 0-6 3-4 4-2 8-2z" fill="rgb(35,35,35)"/>
<path d="M1086,1976l18,0-2,2 0,352 0,6 2,10-2,8 0,6-15,0 0-6-3-8 3-12 0-24 0-332zM1316,1979l4,3 2,6 2,18-1,22 1,30 0,30-1,18 1,12-1,8 1,12 0,44-2,24 1,14-1,6 0,34 1,8 0,12-1,18 0,6-2,5-2,3-8,2-8,2-12,0-12,4-14,10-24,11-6,3-24,4-22,2-10,0-10-2-5-4-1-2 16-11 8-3 25-6 13-4 28-13 14-5 4-4 6-10 2-10 1-14 3-8 1-8 2-10 1-16 3-14 3-14-2-6 0-10 2-6 0-8 2-8-2-8 1-6-1-10 2-8-1-14 2-38 1-12-1-10 1-26 0-18 2-12 0-6 1-4 5-2 6-2z" fill="rgb(38,38,38)"/>
<path d="M1086,1976l17,0-1,2 0,350 0,10 2,8-2,6 0,8-15,0 0-6-3-8 3-10 0-6 0-352zM1316,1980l5,4 1,4 1,12 0,30 1,4 0,18 0,6 0,14 0,16-1,18 1,10-2,10 1,12 0,44-1,24 0,54 1,8 0,12-1,22-2,6-2,3-6,3-10,2-10,0-15,4-15,10-22,11-6,2-30,5-14,2-12,0-8-3-6-3 0-2 2-2 10-7 12-5 20-4 16-4 6-2 18-10 16-5 6-4 6-11 3-14 1-12 2-8 2-10 2-12 0-10 3-16 4-14-2-16 2-6-1-8 3-8-3-8 2-8-1-8 2-8-1-6 0-8 2-28-1-8 2-14-1-10 1-30-1-14 2-14 0-4 2-4 4-2 6-1z" fill="rgb(41,41,41)"/>
<path d="M1086,1976l17,0-1,2 0,354 2,14-2,8 0,6-14,0-1-6-2-8 2-10 1-8 0-350zM1316,1980l3,2 2,4 2,14 0,30 1,4-1,18 1,6-1,14 1,16-2,18 1,12-1,8 1,12 0,44-1,24 0,54 1,8 0,12-1,22-2,6-2,3-6,3-10,1-12,1-14,3-14,11-26,12-8,2-38,5-12,0-8-2-5-3 0-2 3-4 10-5 10-5 38-8 8-2 16-9 15-5 3-1 2-3 6-12 4-16 0-10 3-8 1-10 3-14 0-8 3-16 4-14-3-16 3-6-1-8 2-8-2-6 2-8-1-8 2-9-2-15 2-28 0-10 1-10-1-12 1-28-1-18 2-10 0-6 2-4 4-2 6-1z" fill="rgb(44,44,44)"/>
<path d="M1086,1976l16,0-1,2 0,354 2,16-1,6-1,6-13,0-1-8-2-6 3-14 0-354zM1316,1980l4,2 1,4 1,14 0,30 1,4 0,18 1,6-1,14 1,16-2,18 1,12-1,8 1,12 0,44-1,24 0,54 0,8 0,12-1,22-1,6-2,2-4,3-10,2-16,0-12,3-12,10-22,12-8,2-42,6-12,1-8-2-5-3-1-2 6-5 10-6 10-3 18-3 22-5 16-8 12-4 6-3 4-4 6-13 4-14 0-12 4-8 0-10 3-12 0-10 7-32-2-14 2-6-1-6 3-10 0-2-2-4 2-8-2-10 2-6-1-16 1-28 0-10 1-10-1-12 1-28 0-16 2-12 0-6 1-4 4-2 4-1z" fill="rgb(47,47,47)"/>
<path d="M1086,1976l16,0-1,2 0,352 2,18-1,6-1,6-13,0 0-6-2-8 2-16 0-352zM1316,1980l3,2 2,8 1,16 0,22 2,30 0,30-2,18 1,12-1,8 0,12 0,44-1,24 1,14-1,8 0,32 1,6 0,16-1,20-1,6-4,4-8,2-6,1-12,0-14,3-14,10-22,12-8,2-44,6-10,0-8-2-2-3 0-3 8-5 8-4 6-2 22-3 22-5 16-8 16-7 5-4 5-14 4-14 1-10 3-8 1-14 3-10 0-10 7-32-3-14 2-5 0-9 2-8-1-6 1-10-1-8 2-8-2-6 0-10 1-8 1-20-1-6 2-12-2-14 2-26-1-16 2-14 0-4 3-4 4-2 4-1z" fill="rgb(50,50,50)"/>
<path d="M1087,1976l15,0-1,2 0,348 2,22-2,6 0,6-13,0 0-6-2-8 2-16 0-352zM1316,1980l3,2 2,8 1,12 0,50 1,4 0,32-1,20 0,10 0,10 0,14 0,26 0,14-1,24 1,14-1,8 0,32 1,6 0,16-1,22-2,4-3,3-8,3-6,1-14-1-12,4-12,9-28,14-6,2-40,5-10,0-8-2-4-4 2-2 6-4 8-5 10-2 20-3 24-5 14-7 14-6 4-4 2-2 5-14 4-16 0-10 3-6 1-12 3-12 0-12 6-24 1-6-2-14 2-6-1-8 3-8-2-6 1-10 0-6 1-8-1-16 1-12 0-18-1-6 2-16-2-10 2-22-1-12 1-14 1-4 1-8 1-4 7-2z" fill="rgb(54,54,54)"/>
<path d="M1087,1976l15,0-2,2 1,354 1,16-1,4 0,8-13,0 0-6-2-8 2-18 0-350zM1314,1980l4,2 2,4 2,14 0,50 1,6-1,20 1,10-1,14 0,16-1,12 1,12 0,28 0,12-1,28 1,10-1,44 1,18-1,6-1,18-1,4-3,4-6,2-8,0-14,0-14,4-12,9-28,14-44,6-8,1-8-2-4-2 0-2 0-2 7-4 7-4 8-2 18-2 27-6 29-14 3-2 3-2 5-16 3-13 2-11 2-10 2-12 2-10 0-10 7-26 1-6 0-6-2-6 0-2 2-6-1-8 2-8-1-6 1-8-1-8 2-8-2-8 0-8 2-12 0-18-2-6 2-12-1-16 1-22 0-20 2-10 0-6 1-2 3-3 6-1z" fill="rgb(57,57,57)"/>
<path d="M1087,1976l15,0-2,2 0,352 2,16-2,14-12,0-2-14 2-16 0-352zM1316,1980l2,2 2,4 2,14 0,54 1,4-1,14 1,14-1,18 0,14-1,8 1,12-1,34 1,8-1,26 0,54 1,8 0,12-2,26-3,4-9,4-4,0-18,0-12,3-10,9-28,14-8,2-34,4-12,1-6-1-5-4 1-2 6-5 6-2 8-3 20-2 26-5 30-15 4-4 9-28 1-12 2-8 2-14 3-12 0-8 6-24 1-10-2-12 2-4-1-8 2-10-1-6 1-8-1-8 2-8-2-8 0-6 2-12 0-20-1-6 1-12-1-16 1-22 0-18 2-12 0-6 1-2 5-4 4,0z" fill="rgb(60,60,60)"/>
<path d="M1088,1976l14,0-2,2 0,352 2,16-2,14-11,0-3-14 2-16 1-352zM1316,1980l2,2 2,4 2,14 0,44 0,8 1,6 0,30-2,18 1,12-1,8 1,16-1,26 1,14-2,24 0,54 2,6 0,16-2,20-1,4-1,4-2,1-8,3-6,0-16,0-5,2-7,0-10,9-28,15-6,2-38,4-10,0-6,0-3-2-1-3 6-5 6-3 6-2 22-2 28-5 16-9 12-6 2-1 2-4 10-32 0-10 3-6 1-14 4-12-1-8 6-24 1-8-1-14 1-4 0-8 2-9-1-7 1-10-1-6 1-8-1-8 0-8 1-10 0-20-1-6 1-12-1-18 1-22 0-16 2-12 0-6 2-4 2-1 8-1z" fill="rgb(63,63,63)"/>
<path d="M1088,1976l13,0-1,2 0,350 2,18-2,14-11,0-2-12 2-20 0-350zM1314,1980l4,2 2,4 2,16 0,50 0,6 0,18 1,10-1,8-1,12 1,10-1,12 1,12-1,26 1,14-2,26 1,14-1,8 0,30 1,8 1,12-2,8 0,16-1,4-1,3-2,2-10,3-6,0-14-1-6,2-8,1-10,9-28,15-6,2-14,1-24,3-8,0-6-1-2-3 0-2 4-4 4-2 8-2 20-2 16-4 14-2 18-10 10-4 4-4 10-34 0-9 3-7 1-14 4-10-1-8 7-28 1-8-1-10 0-6 0-8 2-8-1-12 1-14 0-4 0-4-1-6 1-18 0-20-1-6 2-12-2-14 2-26-1-8 1-12 1-8 0-6 2-2 2-3 6-1z" fill="rgb(66,66,66)"/>
<path d="M1088,1976l13,0-1,2 0,348 2,22-2,12-11,0 0-4-2-10 2-18 0-350zM1314,1980l4,2 1,2 2,16 1,54 0,4 0,28-1,14 1,18-1,8 1,18-1,22 1,14-2,24 0,56 1,8 0,12-1,6 0,18-2,4-4,4-8,2-20-1-6,2-8,0-10,10-14,7-10,6-4,2-44,6-8,0-4-2-3-2 1-2 4-4 4-2 10-2 18-1 14-4 14-2 18-9 12-5 2-1 1-4 9-34 0-8 4-10 1-12 3-10 0-10 6-22 1-18-1-6 1-4-1-10 2-8-1-10 2-20-2-10 1-16 0-20 0-6 1-10-1-18 1-16 0-24 2-12 0-6 1-2 4-3 6-1z" fill="rgb(69,69,69)"/>
<path d="M1088,1976l13,0-1,2 0,346 2,22-2,14-11,0-2-14 2-18 1-350zM1312,1980l4,2 3,2 2,20 1,84-1,4 0,12 1,12-2,10 2,22-2,20 1,14-1,24 0,54 1,6 0,16-1,20-2,6-6,4-10,2-16-2-8,2-6-2 10-38 1-10 3-10 1-12 3-10 0-10 6-22 1-14-1-8 1-16 1-8 0-10 0-12 1-8-1-10 1-16 0-20-1-8 1-14-1-12 1-18-1-14 1-12 2-8 1-8 3-2zM1270,2314l-1,4-6,6-15,8-12,7-10,2-12,1-28,3-8-1-2-2 2-4 8-4 8-2 18,0 16-5 12-1 4-2 16-8 6-2z" fill="rgb(72,72,72)"/>
<path d="M1088,1976l13,0-2,2 0,346 3,22-3,14-9,0-3-14 2-16 1-16 0-336zM1314,1980l3,2 2,4 2,16 0,28 1,6-1,16 1,8 0,14 0,12-2,20 2,12-2,10 1,10 0,24-1,6 1,12-1,6 0,20 0,14 0,8 0,22 0,12 1,18-1,6 0,16-2,6-6,4-8,2-18-2-8,2-4-2 0-2 2-16 6-20 1-10 3-10 1-12 3-10 0-10 6-22 2-14-1-8 0-16 2-8-1-12 2-18-2-10 1-16 0-18-1-10 1-10-1-14 1-20 0-16 1-10 1-8 1-8 2-2 2-1zM1268,2316l-2,4-4,4-12,6-10,6-6,3-6,2-12,0-30,4-6-1-2-2 1-4 7-4 8-1 14,0 20-5 16-2 16-10 6-1z" fill="rgb(75,75,75)"/>
<path d="M1088,1976l12,0-1,2 0,348 2,22-2,12-9,0-3-14 3-16 0-14 0-338zM1312,1980l4,2 3,4 2,20 1,38-1,8 1,6 0,30-2,18 1,6-1,14 1,22-1,20 1,12-1,8 0,74 1,6 0,12-1,6-1,16-2,6-7,4-6,1-20-1-6,2-2-2-2-2 2-12 6-24 2-12 2-6 1-14 4-10-1-8 4-16 2-10 2-12-1-8 0-16 2-8-1-12 2-18-2-10 1-16 0-20-1-6 1-10 0-8-1-10 2-18-1-14 1-12 2-8-1-4 1-4 4-2zM1265,2318l-1,2-2,3-14,6-8,7-6,3-8,1-12,0-24,4-6,0-5-2 1-4 6-2 6-2 18-1 16-5 18-2 16-8 4-1z" fill="rgb(80,80,80)"/>
<path d="M1089,1976l11,0-2,2 0,346 3,22-3,14-7,0-3-14 3-28 0-340zM1312,1981l4,1 2,4 2,14 0,30 1,6 0,18 1,6 0,26-2,18 1,14-1,14 1,14-1,22 1,12-1,8-1,42 1,20-1,10 1,6 0,14 0,6-2,18-2,4-4,3-10,2-18-2-6,1-2-4 1-12 6-22 1-10 2-6 2-10 0-6 3-10 0-10 6-24 1-12 0-24 2-8-2-12 2-16-2-12 2-16 0-20-2-6 2-16-2-12 2-18-1-14 1-12 2-6 0-10 4-2zM1242,2330l-3,6-9,3-8,1-12-2-10,3-12,1-4,0-1-2 3-2 6-2 14,1 6-1 10-5 6-2 10-1 4,1z" fill="rgb(88,88,88)"/>
<path d="M1090,1976l10,0-2,1-6,0zM1314,1981l4,3 2,20 1,40-1,8 1,6 0,16 1,12-2,18 1,10-1,12 0,22-1,22 1,10-1,8 0,20 1,8-1,46 1,8 0,10-1,6-1,16-1,4-1,2-4,3-12,1-12-1-8-2-2-5-1-6 6-22 1-12 4-16 0-6 4-10 0-8 6-26 1-12-1-24 2-8-1-12 2-20-2-8 1-14 0-22-1-4 1-20-1-10 1-20 0-12 1-14 1-4 0-6 1-4 2-2 5-1zM1094,2325l2,1 1,2 3,16 0,2-2,8-2,3-2,1-2,0-2-4-2-10 3-16zM1239,2332l0,2-3,2-6,2-4,1-6-1-2-2 4-4 6-2 8,0z" fill="rgb(96,96,96)"/>
<path d="M1312,1982l3,0 3,4 2,20 0,12 0,4 0,32 1,4 0,30-2,16 1,12-1,10 1,22-1,20 1,12-1,6-1,58 1,4-1,12 2,20-1,6-1,14-1,6-2,2-5,3-10,1-12-2-7-2-2-4-1-8 5-20 1-12 3-8 2-8 0-6 3-12 0-6 6-28 1-12 0-22 1-8-1-12 2-20-1-8 0-26 0-10-1-6 1-14-1-14 2-20-1-12 4-27 4-3zM1094,2330l2,0 2,3 2,11-1,6-2,4-3,1-2-1-2-2-2-6 0-4 2-8 2-2zM1222,2336l0-2 6-3 4-1 4,1 1,1-1,3-6,3-5,0z" fill="rgb(103,103,103)"/>
<path d="M1312,1982l4,1 1,3 3,22-1,10 1,28 0,8 1,6 0,26-3,18 2,12-1,12 1,18-1,6 1,10-2,6 2,12-2,6 0,10 1,18-1,30 1,6-1,12 2,14-2,26-2,4-2,2-4,2-10,2-12-2-4-1-4-5-2-6 6-22 1-12 4-16 0-6 3-10 1-8 6-28 1-12-1-24 2-6-1-12 2-18-2-8 1-26 0-12-1-4 1-18-1-12 2-22-2-10 3-18 1-8 2-3zM1298,2288l-2,2 0,1 2-1zM1225,2334l1,0 4-2 4,0 0,2-2,2-4,0-2,0zM1094,2332l3,2 3,8-1,8-3,3-4,0 0-1-3-6 1-8 2-4z" fill="rgb(111,111,111)"/>
<path d="M1312,1982l3,2 1,2 3,14 1,34-1,18 1,10 0,24-2,18 0,4 2,8-2,10 2,22-1,4 0,10-1,4 1,14-1,6 0,58 0,4 0,14 1,10 0,8-1,4 0,8-1,10-1,4-4,4-12,1-12-1-3-2-5-4-1-6 4-16 2-18 5-16 0-4 2-8 4-26 3-12 1-12 0-26 1-6-1-12 2-18-2-10 1-10 0-26-1-4 1-20-1-8 2-22-1-12 1-4 2-22 2-3zM1296,2288l-1,2 1,2 2,0 1-2-1-2zM1094,2334l3,2 2,6-1,6 0,2-4,2-3-2-2-4 1-8 2-2z" fill="rgb(119,119,119)"/>
<path d="M1312,1982l4,4 3,20-1,14 1,4 0,8 1,14-1,8 1,6 0,26-3,18 3,10-2,18 1,10-1,10 1,10-1,4 1,14-2,6 0,58 1,6-1,12 2,14-1,10 0,8-2,12-2,2-4,2-10,0-12-1-2-1-5-4-1-6 4-18 2-16 4-14 0-6 2-8 4-26 4-12 0-14 0-24 2-6-2-12 3-18-2-10 1-10 0-24-2-6 2-14-2-16 2-20-1-12 1-4 2-22 3-2zM1296,2288l-2,2 1,2 1,0 2,0 2-2 0-2-2-1zM1094,2336l2,2 2,6 0,4-2,2-2,0-3-2-1-2 1-8z" fill="rgb(126,126,126)"/>
<path d="M1312,1983l4,3 2,18 0,14 1,6 0,22-1,8 2,8 0,24-4,18 3,10-1,12 1,16-1,10 0,10-1,4 1,14-2,8 2,26-1,6 1,14-1,10 1,4-1,14 1,16-1,6 0,14-3,8-2,2-4,2-8,0-14-2-4-5-2-5 2-12 2-4 2-18 4-16 0-5 3-7 1-12 2-6 1-8 3-10 1-16 0-22 1-8-1-14 2-16-2-10 1-12 0-24-1-4 1-16-2-12 3-24-1-10 1-6 2-20 3-2zM1298,2286l-2,1-2,1 0,4 2,1 2,0 2-3 0-2zM1094,2338l2,2 2,4-1,4-3,1-2-1-2-4 2-5z" fill="rgb(134,134,134)"/>
<path d="M1312,1984l3,2 3,20 0,12 0,6 0,8 1,6-1,9 0,5 1,8 0,26-3,18 3,10-2,16 1,12-1,10 1,8-2,8 2,10-2,8 1,26-1,8 1,14-1,8 2,10-2,8 2,18-2,4 0,14-2,9-2,3-2,0-12,1-8-1-4-1-5-5-1-4 2-10 3-6 1-18 9-34 0-4 2-6 1-10 2-8 2-20-1-20 2-8-2-12 3-18-2-12 1-12-1-20-1-8 1-8-1-18 3-24-2-10 2-4 0-6 2-16 2-2zM1294,2286l-1,2 0,4 3,2 2-1 2-2 1-3-3-2zM1094,2340l2,0 1,4-1,2-2,2-2-1-1-3 1-2z" fill="rgb(142,142,142)"/>
<path d="M1312,1984l3,2 3,20-1,14 1,4 0,8 0,6-1,14 2,8 0,26-5,18 1,2 3,10-1,6 0,8 1,12-1,8 1,10-2,8 2,8-3,10 1,8-1,6 1,4 0,12-1,6 1,12-1,8 2,10-1,10 1,14 0,2-3,4 2,4 0,8-3,12-3,2-12,0-10-1-6-5-1-4 2-10 3-6 1-18 4-14 1-7 2-4 2-9 0-4 2-8 0-8 4-8 0-40 2-8-2-12 2-18 0-4-2-6 2-12-1-22-1-6 0-12 0-16 2-26-2-8 2-4 0-4 2-14 2-4zM1300,2286l-5,0-3,2 0,4 2,2 2,0 2,0 3-2 1-4 0-1zM1094,2342l1,2-1,2-2-2 0-2z" fill="rgb(149,149,149)"/>
<path d="M1312,1985l2,1 2,8 0,6 1,6-1,14 2,4-1,8 1,6 0,8-2,6 2,8 0,14 0,6 0,4-2,12-3,8 1,4 2,3 2,5-2,6 0,8 1,12-1,8 1,12-3,6 3,6 0,4-3,8 1,6-2,8 2,4 1,12-2,2-4,2-4,2 0,2 2,1 6,0 1,1 1,8-3,6 3,12-2,7 2,17 0,2-4,2 0,2 3,4 1,4-1,6-3,10-4,2-4-1-6,1-10-2-5-4-1-4 2-6 0-4 4-4-1-8 0-12 5-15 0-7 2-4 2-8 1-6 3-4-1-10 1-4 4-2-2-4 0-2 1-38 1-6-2-12 3-18 0-4-3-6 0-4 3-8-1-6-1-16-1-6 1-10-1-16 0-10 2-4-1-6 2-8 0-2-2-4 3-6-1-6 2-12 3-4zM1292,2286l-1,4 1,2 2,2 2,1 4-1 3-4-1-4-2-1-4-1z" fill="rgb(157,157,157)"/>
<path d="M1312,1988l3,6-1,6 3,6-2,14 2,6-1,6 1,6 0,8-2,4 3,8 0,18-1,2 0,8-5,16 1,6 4,6 0,4-2,4 1,4-1,6 1,12-2,6 2,10-2,6-1,6 3,4 0,2-2,6 0,10-4,8 4,4 1,10-1,1-4,1-4,2-3,0-1-2-2-4 0-4 2-3 4-1 2-2-5-6-1-6 2-20 1-4-1-10 3-6-4-8 1-12 2-10-1-4-2-4 0-4 3-8-2-6 0-16-2-6 1-12-1-14 2-14 0-6 2-6 3-4-3-2-2-2 0-2 3-4-1-6 2-4 0-6 2-4zM1307,2176l1,0 2-1 2-2-2,0-2,1zM1300,2222l2,1 6,4 6,0 1,5-1,3-2,1-1,2 3,6 2,8 0,3-4,3 2,6 0,6 2,4-2,2-2,2-2,2 0,2 4,4 0,10-2,8-3,2-5,0-6,1-10-1-4-4-2-3 2-3 1-2-1-4 2-3 3-1 1,2 0,4 2,2 4,1 2,0 4-2 2-5-1-4-3,0-8,0-2,0-2-4 0-4 0-12 4-16 0-4 6-14 0-6z" fill="rgb(164,164,164)"/>
<path d="M1311,1990l1,1 2,3 0,3-2,1-2,0-1-2 0-4zM1316,2006l0,4-2,4 0,1-8-1 0-2 5-6 3-2zM1312,2021l2,2 2,3-2,6 2,4 0,8-2,6 3,8 0,16-2,6 1,5-2,3-1,6-2,4-3,1-2-1-1-2-1-14-2-8 2-10-1-16 2-22 3-4zM1310,2102l2,8 4,4 0,4-4,2-2,4 4,1 0,1 0,2-6-4-4-12 1-6zM1306,2130l4,2 4,2 0,2 2,8-2,2-8-1-2-1 0-10 2-4zM1312,2154l1,0 1,6 0,1-4-5zM1314,2176l2,0-2,3-2-1zM1306,2178l4,0 1,2 3,10 0,4-1,2-5,4-4-2-1-4 1-14zM1312,2206l1,2-1,6-2-1-4,4-2,1-3-4 0-4 1-2 4,0 4-3zM1302,2226l4,2 3,2 1,4 0,6 4,6 1,6-1,2-4,1 0,1 3,8-2,6 1,4-5,8 5,3 0,1 0,4-4,2 3,4 1,2-2,6-2,1-4-1-4,1-6-1-4,1-6-5 0-2 0-2 6-2 4,2 4,0 8-6 0-7-12,0-4-3-1-2-1-6 0-8 5-20 3-10 4-8z" fill="rgb(172,172,172)"/>
<path d="M1310,2023l4,1 1,2-3,4 0,4 3,2 1,2-1,6-2,6 3,8 0,8 1,8-5,8-4,10 0-1-3-11-1-4-1-6 2-26-1-6 2-4-1-6 3-4zM1306,2107l2-1 2,4 4,4 1,2-1,1-5,1-3-2-2-4zM1306,2134l4,0 2,2 2,4-1,4-3,0-4-4 0-4zM1308,2180l4,6 1,6-1,2-6,5-2-1 0-8 2-8 0-2zM1302,2210l2,0 2,2-2,2-2-1zM1304,2228l2,2 7,16-1,6-3,0-1,2 0,4 3,6-1,6 0,6-2,2-2,2-4,1-8,0-2-1-2-2-2-14 6-20 2-4 0-4 5-6zM1308,2286l2,0 1,2-1,0-2,0zM1310,2298l-2,4 0,1-4,0-4,1-4-1-4-3-4,2-2-2-1-2 3-2 4,2 4-1 8-4 2,1z" fill="rgb(180,180,180)"/>
<path d="M1310,2025l1,1-1,8 4,4 0,4 0,2-2,6 4,8-2,8 2,8-2,3-6,5-2-2-2-2-1-6 1-8 0-8 2-14 0-4 1-4-1-4 0-3zM1306,2109l2,0 4,7-2,0-4-2 0-2zM1308,2184l2,2 2,6-2,2-4,3-1-1-1-7 2-4zM1304,2230l3,4 5,12-1,4-4,2-1,2 4,9-2,11-1,4-3,2-8,0-4-2-1-2-2-12 4-14 1-6 2-4 2-4 3-4zM1308,2298l-1,2-7,2-2,0-2-2 0-2 8-3 2,0z" fill="rgb(187,187,187)"/>
<path d="M1309,2038l3,2 1,2-3,8 4,4 1,4-3,8 3,6 0,2-5,5-2,1-4-4 0-4 1-10-1-6 3-6 0-4zM1308,2187l2,1 1,4-1,2-2,0-2,0 0-4 0-2zM1304,2232l2,2 5,12-1,3-4,1-2,2 2,8 2,4-1,12-3,2-4,1-4-1-3-2-2-6-1-6 2-8 6-20 4-3zM1305,2298l-1,0-2,2-2,1-2-1 4-4 2,0z" fill="rgb(195,195,195)"/>
<path d="M1310,2043l1,1-1,3-1-1 0-2zM1308,2052l5,2 1,4-3,8 0,2 3,4 0,2-2,2-4,2-3-2-1-2 2-10-1-8zM1307,2190l1,0 0,2zM1304,2234l2,2 4,8 0,2-2,2-4,2-1,2 2,8 2,6-1,8-2,3-4,1-4-1-3-3-2-10 1-8 6-14 1-4 1-3z" fill="rgb(203,203,203)"/>
<path d="M1310,2053l2,1 1,4 0,2-4,6 3,8-1,2-3,1-2-2-1-1 0-6 2-4-1-8 2-2zM1302,2235l2,1 2,4 3,4 0,2-7,4 0,2 0,8 4,6-1,8-3,3-4,0-4-3-2-10 2-4 0-6 5-12 1-4z" fill="rgb(210,210,210)"/>
<path d="M1310,2054l2,2 0,2-1,4-3,0-1-2-1-3 2-2zM1308,2068l3,4-1,2-2,2-2-1 0-1 0-6zM1302,2238l0,2 0-2zM1306,2243l2,3-2,1-4,0-2,9-2,2-2,0-2-2 4-8 6-5zM1296,2260l7,4 3,2-1,6-1,2-2,2-4,0-2-2-3-6 0-4 1-2z" fill="rgb(218,218,218)"/>
<path d="M1310,2056l1,2 0,2-1,0-2-2 0-2zM1296,2263l4,0 4,3 0,5-2,4-4-1-2-1-2-7 0-2z" fill="rgb(226,226,226)"/>
<path d="M1296,2264l2,0 6,2 0,2 0,4-2,2-2,0-2-2-3-4 0-2z" fill="rgb(233,233,233)"/>
<path d="M1296,2266l4-1 2,1 1,2-1,4-2,1 0-1-3-4z" fill="rgb(241,241,241)"/>
<path d="M1298,2266l4,2 0,2 0,1-2,0-2-3z" fill="rgb(249,249,249)"/>
</g>
</svg>
</body></html>
